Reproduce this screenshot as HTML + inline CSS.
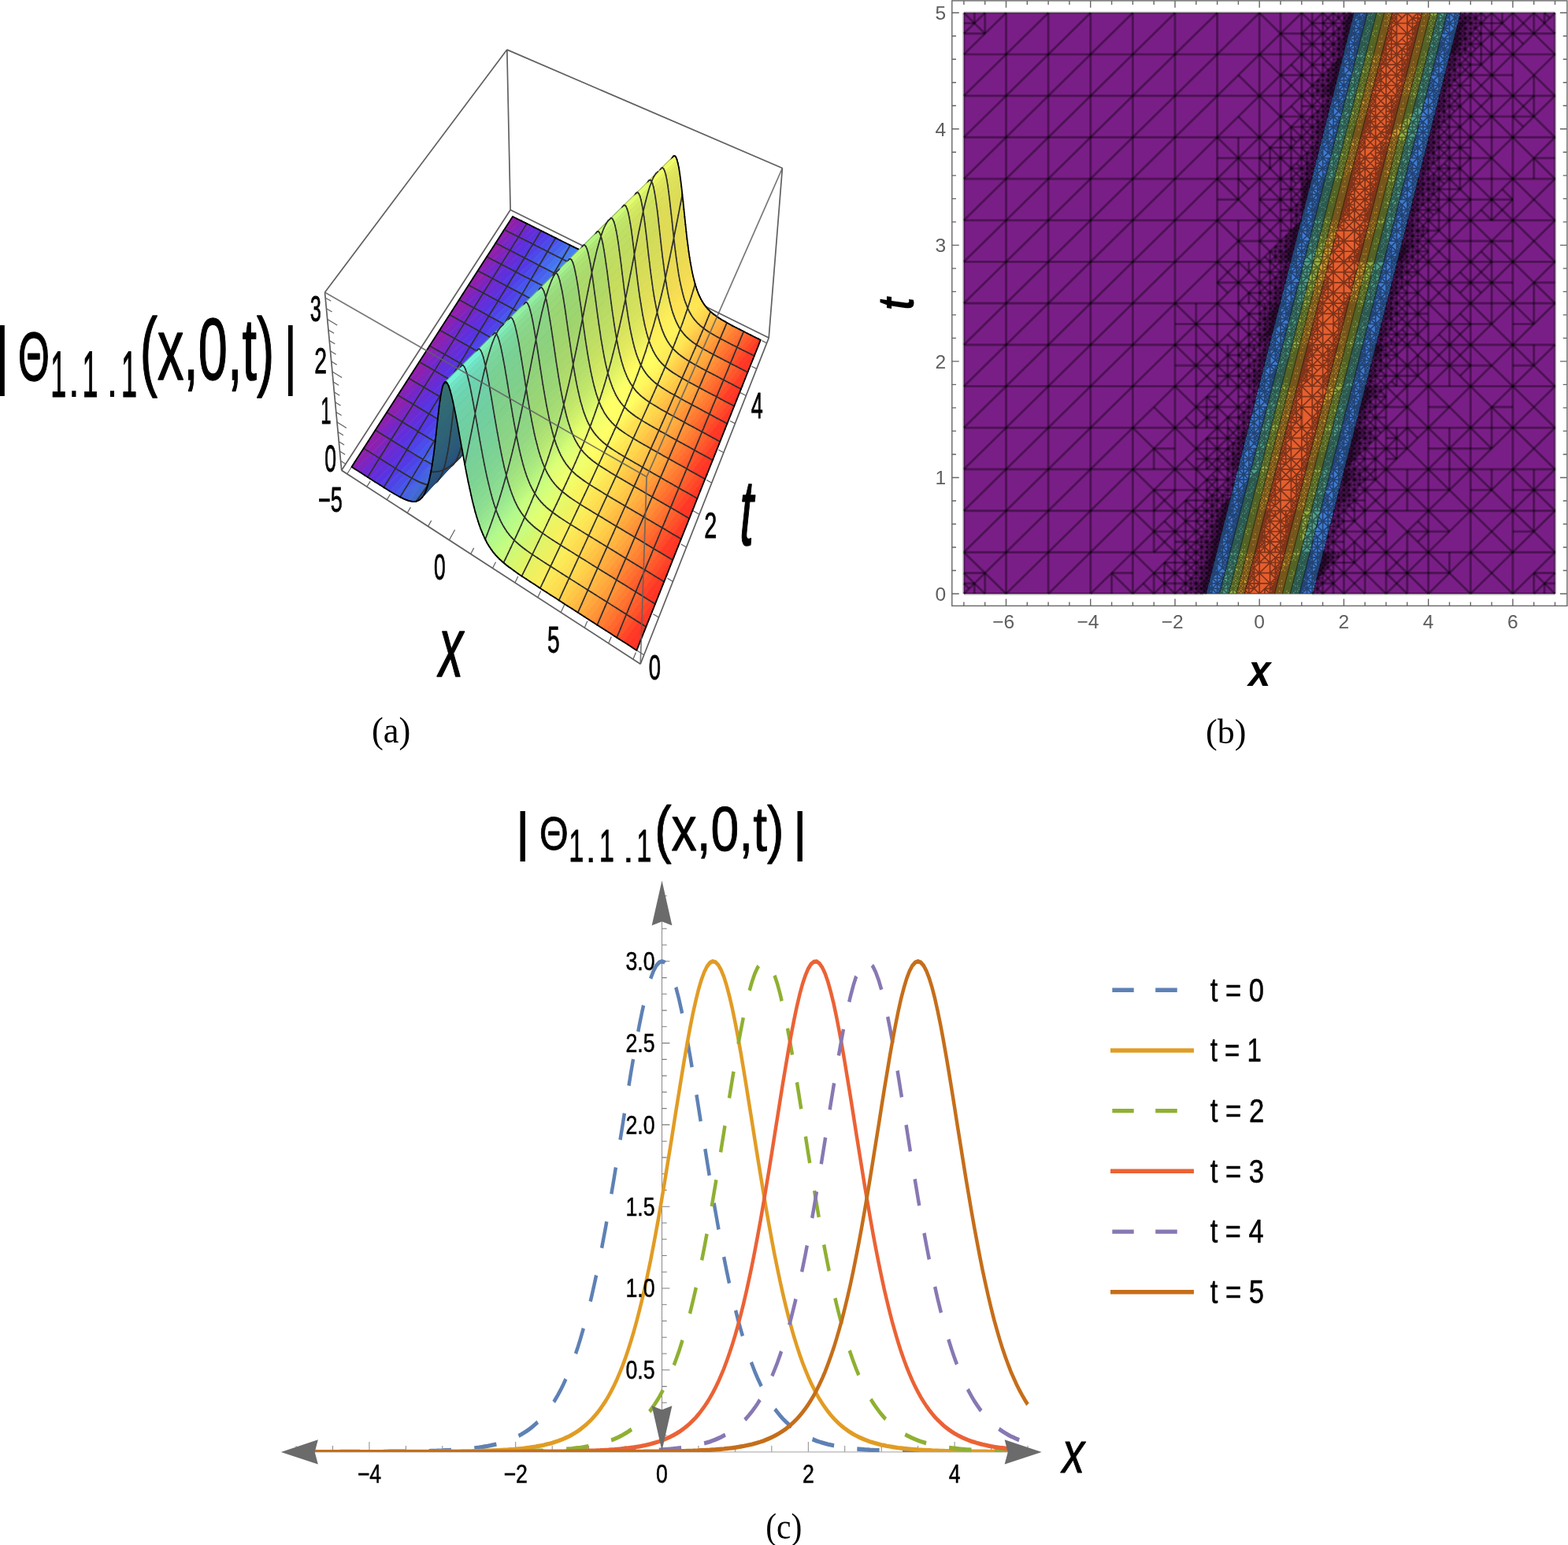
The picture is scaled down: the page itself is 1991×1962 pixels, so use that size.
<!DOCTYPE html>
<html lang="en"><head><meta charset="utf-8"><title>Figure</title>
<style>html,body{margin:0;padding:0;background:#fff}body{width:1991px;height:1962px;overflow:hidden}svg{display:block}text{font-family:"Liberation Sans",Arial,Helvetica,sans-serif}.sf{font-family:"Liberation Serif","DejaVu Serif",serif}</style></head><body>
<svg xmlns="http://www.w3.org/2000/svg" width="1991" height="1962" viewBox="0 0 1991 1962">
<rect width="1991" height="1962" fill="#fff"/>
<g id="pa"><path d="M433.7 597.2L813.2 843.2M813.2 843.2L976.2 429.1M976.2 429.1L648.1 266.5M648.1 266.5L433.7 597.2M433.7 597.2L412.5 371.3M976.2 429.1L993.4 213.5M648.1 266.5L643.8 63.1M412.5 371.3L643.8 63.1M643.8 63.1L993.4 213.5" fill="none" stroke="#606060" stroke-width="1.7"/>
<path d="M440.8 601.8L448.5 589.8M465.8 618.1L470.2 611.1M491.3 634.6L495.6 627.5M517.2 651.3L521.4 644.1M543.5 668.4L547.7 661.1M570.4 685.8L577.6 672.7M597.7 703.5L601.7 695.9M625.5 721.6L629.5 713.8M653.9 740L657.8 732.1M682.8 758.7L686.6 750.6M712.2 777.7L718.8 763.3M742.2 797.2L745.8 788.8M772.7 817L776.3 808.5M803.9 837.2L807.4 828.5M817.7 831.8L804.9 823.6M836.5 784.1L829.3 779.7M854.4 738.6L847.4 734.3M871.6 695L864.7 690.9M888 653.2L876.1 646.3M903.8 613.2L897.1 609.4M918.9 574.8L912.3 571.2M933.4 537.9L926.9 534.5M947.4 502.5L936.1 496.6M960.8 468.4L954.5 465.2M973.7 435.7L967.5 432.6M433.7 597.2L445.5 604.9M432.6 585.2L439.3 589.5M431.4 573L438.2 577.3M430.3 560.7L437.1 565.1M429.1 548.4L435.9 552.7M427.9 535.9L439.9 543.4M426.8 523.4L433.6 527.6M425.6 510.7L432.5 515M424.4 497.9L431.3 502.2M423.2 485.1L430.1 489.3M422 472.1L434.2 479.5M420.8 459L427.7 463.2M419.5 445.8L426.5 450M418.3 432.5L425.3 436.7M417 419.1L424.1 423.3M415.8 405.6L428.2 412.9M414.5 392L421.6 396.1M413.2 378.2L420.3 382.3" fill="none" stroke="#606060" stroke-width="1.2"/>
<g stroke-width="0.8" stroke-linejoin="round">
<style>.m{fill:none;stroke:#2e2e2e;stroke-width:1.7;stroke-linecap:round}.b{fill:none;stroke:#000;stroke-width:1.8;stroke-linecap:round}</style>
<path d="M638.9 293.7L656.4 277.7L651 275L651 275Z" fill="#931fa8" stroke="#931fa8"/>
<path d="M626.6 313L630.5 309.3L629.3 308.7Z" fill="#951ea6" stroke="#951ea6"/>
<path d="M629.3 308.7L630.5 309.3L661.8 280.4L656.4 277.7L638.9 293.7Z" fill="#8e20ad" stroke="#8e20ad"/>
<path d="M613.9 332.6L636 312.1L630.5 309.3L626.6 313Z" fill="#921fa9" stroke="#921fa9"/>
<path d="M630.5 309.3L636 312.1L667.3 283.1L661.8 280.4Z" fill="#8323b9" stroke="#8323b9"/>
<path d="M640.3 291.7L640.9 292" class="m"/>
<path d="M651 275L656.4 277.7M651 275L638.9 293.7" class="b"/>
<path d="M600.9 352.8L609.2 345.2L606.7 343.9Z" fill="#941ea7" stroke="#941ea7"/>
<path d="M606.7 343.9L609.2 345.2L641.5 314.9L636 312.1L613.9 332.6Z" fill="#8d20af" stroke="#8d20af"/>
<path d="M636 312.1L641.5 314.9L672.8 285.8L667.3 283.1Z" fill="#7826c5" stroke="#7826c5"/>
<path d="M629.3 308.7L630.5 309.3M640.9 292L646.3 294.7" class="m"/>
<path d="M656.4 277.7L661.8 280.4M638.9 293.7L626.6 313" class="b"/>
<path d="M587.6 373.5L614.7 348.1L609.2 345.2L600.9 352.8Z" fill="#911fab" stroke="#911fab"/>
<path d="M609.2 345.2L614.7 348.1L647.1 317.8L641.5 314.9Z" fill="#8124bb" stroke="#8124bb"/>
<path d="M641.5 314.9L647.1 317.8L678.2 288.6L672.8 285.8Z" fill="#6d29d0" stroke="#6d29d0"/>
<path d="M618.1 326.1L620 327M630.5 309.3L636 312.1M646.3 294.7L651.8 297.5" class="m"/>
<path d="M661.8 280.4L667.3 283.1M626.6 313L613.9 332.6" class="b"/>
<path d="M574 394.7L586.8 382.7L583 380.7Z" fill="#931fa8" stroke="#931fa8"/>
<path d="M583 380.7L586.8 382.7L620.3 351.1L614.7 348.1L587.6 373.5Z" fill="#8b21b0" stroke="#8b21b0"/>
<path d="M614.7 348.1L620.3 351.1L652.6 320.6L647.1 317.8Z" fill="#7527c8" stroke="#7527c8"/>
<path d="M647.1 317.8L652.6 320.6L683.7 291.3L678.2 288.6Z" fill="#652dd7" stroke="#652dd7"/>
<path d="M606.7 343.9L609.2 345.2M620 327L625.5 329.9M636 312.1L641.5 314.9M651.8 297.5L657.3 300.2M669 283.9L660.7 297.1" class="m"/>
<path d="M667.3 283.1L672.8 285.8M613.9 332.6L600.9 352.8" class="b"/>
<path d="M560 416.5L592.4 385.8L586.8 382.7L574 394.7Z" fill="#8f20ac" stroke="#8f20ac"/>
<path d="M586.8 382.7L592.4 385.8L626 354L620.3 351.1Z" fill="#7e24be" stroke="#7e24be"/>
<path d="M620.3 351.1L626 354L658.2 323.5L652.6 320.6Z" fill="#6b2ad1" stroke="#6b2ad1"/>
<path d="M652.6 320.6L658.2 323.5L689.3 294.1L683.7 291.3Z" fill="#5d31de" stroke="#5d31de"/>
<path d="M595 362.1L598.1 363.7M609.2 345.2L614.7 348.1M625.5 329.9L631.1 332.8M641.5 314.9L647.1 317.8M657.3 300.2L662.8 303M660.7 297.1L648.6 316.4" class="m"/>
<path d="M672.8 285.8L678.2 288.6M600.9 352.8L587.6 373.5" class="b"/>
<path d="M545.6 438.9L563.3 422L558.3 419.2Z" fill="#931fa9" stroke="#931fa9"/>
<path d="M558.3 419.2L563.3 422L598.1 388.9L592.4 385.8L560 416.5Z" fill="#8a21b2" stroke="#8a21b2"/>
<path d="M592.4 385.8L598.1 388.9L631.6 357L626 354Z" fill="#7227ca" stroke="#7227ca"/>
<path d="M626 354L631.6 357L663.8 326.3L658.2 323.5Z" fill="#632ed8" stroke="#632ed8"/>
<path d="M658.2 323.5L663.8 326.3L694.8 296.8L689.3 294.1Z" fill="#5635e4" stroke="#5635e4"/>
<path d="M583 380.7L586.8 382.7M598.1 363.7L603.7 366.7M614.7 348.1L620.3 351.1M631.1 332.8L636.6 335.7M647.1 317.8L652.6 320.6M662.8 303L668.3 305.8M648.6 316.4L636.2 336.1" class="m"/>
<path d="M678.2 288.6L683.7 291.3M587.6 373.5L574 394.7" class="b"/>
<path d="M530.8 461.9L532.9 459.8L532.3 459.5Z" fill="#961ea5" stroke="#961ea5"/>
<path d="M532.3 459.5L532.9 459.8L569.1 425.2L563.3 422L545.6 438.9Z" fill="#8f20ac" stroke="#8f20ac"/>
<path d="M563.3 422L569.1 425.2L603.8 392L598.1 388.9Z" fill="#7b25c1" stroke="#7b25c1"/>
<path d="M598.1 388.9L603.8 392L637.3 360L631.6 357Z" fill="#6a2bd3" stroke="#6a2bd3"/>
<path d="M631.6 357L637.3 360L669.4 329.2L663.8 326.3Z" fill="#5b31df" stroke="#5b31df"/>
<path d="M663.8 326.3L669.4 329.2L700.4 299.6L694.8 296.8Z" fill="#513fe7" stroke="#513fe7"/>
<path d="M570.8 399.7L575.2 402.1M586.8 382.7L592.4 385.8M603.7 366.7L609.4 369.7M620.3 351.1L626 354M636.6 335.7L642.2 338.6M652.6 320.6L658.2 323.5M668.3 305.8L673.9 308.6M636.2 336.1L623.5 356.4M687.1 293L682.6 300.4" class="m"/>
<path d="M683.7 291.3L689.3 294.1M574 394.7L560 416.5" class="b"/>
<path d="M515.7 485.4L538.8 463.2L532.9 459.8L530.8 461.9Z" fill="#921fa9" stroke="#921fa9"/>
<path d="M532.9 459.8L538.8 463.2L574.9 428.5L569.1 425.2Z" fill="#8523b7" stroke="#8523b7"/>
<path d="M569.1 425.2L574.9 428.5L609.6 395.1L603.8 392Z" fill="#7028cd" stroke="#7028cd"/>
<path d="M603.8 392L609.6 395.1L642.9 363L637.3 360Z" fill="#622fda" stroke="#622fda"/>
<path d="M637.3 360L642.9 363L675.1 332.1L669.4 329.2Z" fill="#5537e5" stroke="#5537e5"/>
<path d="M669.4 329.2L675.1 332.1L706 302.4L700.4 299.6Z" fill="#4d49e9" stroke="#4d49e9"/>
<path d="M558.3 419.2L563.3 422M575.2 402.1L580.9 405.3M592.4 385.8L598.1 388.9M609.4 369.7L615 372.8M626 354L631.6 357M642.2 338.6L647.9 341.5M658.2 323.5L663.8 326.3M673.9 308.6L679.5 311.4M623.5 356.4L610.4 377.2M682.6 300.4L670.7 319.8" class="m"/>
<path d="M689.3 294.1L694.8 296.8M560 416.5L545.6 438.9" class="b"/>
<path d="M500.1 509.7L507 502.9L505.1 501.8Z" fill="#951ea6" stroke="#951ea6"/>
<path d="M505.1 501.8L507 502.9L544.6 466.6L538.8 463.2L515.7 485.4Z" fill="#8e20ae" stroke="#8e20ae"/>
<path d="M538.8 463.2L544.6 466.6L580.7 431.7L574.9 428.5Z" fill="#7926c4" stroke="#7926c4"/>
<path d="M574.9 428.5L580.7 431.7L615.3 398.2L609.6 395.1Z" fill="#682cd4" stroke="#682cd4"/>
<path d="M609.6 395.1L615.3 398.2L648.7 366L642.9 363Z" fill="#5a32e1" stroke="#5a32e1"/>
<path d="M642.9 363L648.7 366L680.7 335L675.1 332.1Z" fill="#5041e7" stroke="#5041e7"/>
<path d="M675.1 332.1L680.7 335L711.6 305.2L706 302.4Z" fill="#4952ec" stroke="#4952ec"/>
<path d="M532.3 459.5L532.9 459.8M545.5 439.1L551.2 442.4M563.3 422L569.1 425.2M580.9 405.3L586.6 408.4M598.1 388.9L603.8 392M615 372.8L620.7 375.8M631.6 357L637.3 360M647.9 341.5L653.5 344.5M663.8 326.3L669.4 329.2M679.5 311.4L685 314.3M610.4 377.2L597 398.5M670.7 319.8L658.5 339.6" class="m"/>
<path d="M694.8 296.8L700.4 299.6M545.6 438.9L530.8 461.9" class="b"/>
<path d="M484.1 534.6L513 506.5L507 502.9L500.1 509.7Z" fill="#911faa" stroke="#911faa"/>
<path d="M507 502.9L513 506.5L550.5 470L544.6 466.6Z" fill="#8223ba" stroke="#8223ba"/>
<path d="M544.6 466.6L550.5 470L586.5 435L580.7 431.7Z" fill="#6e29cf" stroke="#6e29cf"/>
<path d="M580.7 431.7L586.5 435L621.1 401.4L615.3 398.2Z" fill="#602fdb" stroke="#602fdb"/>
<path d="M615.3 398.2L621.1 401.4L654.4 369L648.7 366Z" fill="#5439e5" stroke="#5439e5"/>
<path d="M648.7 366L654.4 369L686.4 337.9L680.7 335Z" fill="#4c4bea" stroke="#4c4bea"/>
<path d="M680.7 335L686.4 337.9L717.2 308L711.6 305.2Z" fill="#475ded" stroke="#475ded"/>
<path d="M518.9 480.4L520.2 481.1M532.9 459.8L538.8 463.2M551.2 442.4L557 445.7M569.1 425.2L574.9 428.5M586.6 408.4L592.4 411.6M603.8 392L609.6 395.1M620.7 375.8L626.4 378.9M637.3 360L642.9 363M653.5 344.5L659.2 347.4M669.4 329.2L675.1 332.1M685 314.3L690.7 317.1M597 398.5L583.3 420.4M658.5 339.6L646.1 360M705.5 302.1L704.5 303.8" class="m"/>
<path d="M700.4 299.6L706 302.4M530.8 461.9L515.7 485.4" class="b"/>
<path d="M467.6 560.2L479.8 548.2L476.6 546.2Z" fill="#941fa7" stroke="#941fa7"/>
<path d="M476.6 546.2L479.8 548.2L518.9 510.1L513 506.5L484.1 534.6Z" fill="#8c21af" stroke="#8c21af"/>
<path d="M513 506.5L518.9 510.1L556.4 473.4L550.5 470Z" fill="#7626c6" stroke="#7626c6"/>
<path d="M550.5 470L556.4 473.4L592.4 438.3L586.5 435Z" fill="#662dd6" stroke="#662dd6"/>
<path d="M586.5 435L592.4 438.3L626.9 404.5L621.1 401.4Z" fill="#5833e2" stroke="#5833e2"/>
<path d="M621.1 401.4L626.9 404.5L660.1 372.1L654.4 369Z" fill="#4f43e8" stroke="#4f43e8"/>
<path d="M654.4 369L660.1 372.1L692.1 340.8L686.4 337.9Z" fill="#4855ec" stroke="#4855ec"/>
<path d="M686.4 337.9L692.1 340.8L722.9 310.8L717.2 308Z" fill="#4768ed" stroke="#4768ed"/>
<path d="M505.1 501.8L507 502.9M520.2 481.1L526 484.6M538.8 463.2L544.6 466.6M557 445.7L562.8 449M574.9 428.5L580.7 431.7M592.4 411.6L598.2 414.8M609.6 395.1L615.3 398.2M626.4 378.9L632.2 382M642.9 363L648.7 366M659.2 347.4L664.8 350.4M675.1 332.1L680.7 335M690.7 317.1L696.3 319.9M583.3 420.4L569.2 442.9M646.1 360L633.3 380.9M704.5 303.8L692.9 323.2" class="m"/>
<path d="M706 302.4L711.6 305.2M515.7 485.4L500.1 509.7" class="b"/>
<path d="M450.6 586.6L485.8 552L479.8 548.2L467.6 560.2Z" fill="#9020ab" stroke="#9020ab"/>
<path d="M479.8 548.2L485.8 552L524.9 513.6L518.9 510.1Z" fill="#7f24bd" stroke="#7f24bd"/>
<path d="M518.9 510.1L524.9 513.6L562.3 476.9L556.4 473.4Z" fill="#6c2ad0" stroke="#6c2ad0"/>
<path d="M556.4 473.4L562.3 476.9L598.2 441.6L592.4 438.3Z" fill="#5e30dd" stroke="#5e30dd"/>
<path d="M592.4 438.3L598.2 441.6L632.7 407.7L626.9 404.5Z" fill="#533be6" stroke="#533be6"/>
<path d="M626.9 404.5L632.7 407.7L665.9 375.1L660.1 372.1Z" fill="#4b4dea" stroke="#4b4dea"/>
<path d="M660.1 372.1L665.9 375.1L697.8 343.8L692.1 340.8Z" fill="#4760ed" stroke="#4760ed"/>
<path d="M692.1 340.8L697.8 343.8L728.5 313.6L722.9 310.8Z" fill="#4673ee" stroke="#4673ee"/>
<path d="M491 523.7L493.6 525.3M507 502.9L513 506.5M526 484.6L531.9 488.1M544.6 466.6L550.5 470M562.8 449L568.7 452.3M580.7 431.7L586.5 435M598.2 414.8L604 418M615.3 398.2L621.1 401.4M632.2 382L637.9 385M648.7 366L654.4 369M664.8 350.4L670.5 353.3M680.7 335L686.4 337.9M696.3 319.9L701.9 322.8M569.2 442.9L554.7 465.9M633.3 380.9L620.1 402.3M692.9 323.2L681 343.2" class="m"/>
<path d="M711.6 305.2L717.2 308M500.1 509.7L484.1 534.6" class="b"/>
<path d="M446.5 592.9L451.2 595.9L491.9 555.7L485.8 552L450.6 586.6Z" fill="#8b21b1" stroke="#8b21b1"/>
<path d="M485.8 552L491.9 555.7L530.9 517.2L524.9 513.6Z" fill="#7427c9" stroke="#7427c9"/>
<path d="M524.9 513.6L530.9 517.2L568.2 480.3L562.3 476.9Z" fill="#642dd7" stroke="#642dd7"/>
<path d="M562.3 476.9L568.2 480.3L604.1 444.9L598.2 441.6Z" fill="#5634e4" stroke="#5634e4"/>
<path d="M598.2 441.6L604.1 444.9L638.6 410.9L632.7 407.7Z" fill="#4e45e8" stroke="#4e45e8"/>
<path d="M632.7 407.7L638.6 410.9L671.7 378.2L665.9 375.1Z" fill="#4857ec" stroke="#4857ec"/>
<path d="M665.9 375.1L671.7 378.2L703.5 346.7L697.8 343.8Z" fill="#476bed" stroke="#476bed"/>
<path d="M697.8 343.8L703.5 346.7L734.2 316.4L728.5 313.6Z" fill="#477eee" stroke="#477eee"/>
<path d="M476.6 546.2L479.8 548.2M493.6 525.3L499.6 528.9M513 506.5L518.9 510.1M531.9 488.1L537.8 491.6M550.5 470L556.4 473.4M568.7 452.3L574.6 455.7M586.5 435L592.4 438.3M604 418L609.8 421.2M621.1 401.4L626.9 404.5M637.9 385L643.7 388.1M654.4 369L660.1 372.1M670.5 353.3L676.3 356.3M686.4 337.9L692.1 340.8M701.9 322.8L707.6 325.7M554.7 465.9L539.8 489.6M620.1 402.3L606.7 424.3M681 343.2L668.8 363.6" class="m"/>
<path d="M717.2 308L722.9 310.8M484.1 534.6L467.6 560.2" class="b"/>
<path d="M451.2 595.9L457.3 599.8L497.9 559.5L491.9 555.7Z" fill="#7d25bf" stroke="#7d25bf"/>
<path d="M491.9 555.7L497.9 559.5L536.9 520.8L530.9 517.2Z" fill="#6b2ad2" stroke="#6b2ad2"/>
<path d="M530.9 517.2L536.9 520.8L574.2 483.8L568.2 480.3Z" fill="#5c31de" stroke="#5c31de"/>
<path d="M568.2 480.3L574.2 483.8L610 448.2L604.1 444.9Z" fill="#523ee6" stroke="#523ee6"/>
<path d="M604.1 444.9L610 448.2L644.4 414.1L638.6 410.9Z" fill="#4a4feb" stroke="#4a4feb"/>
<path d="M638.6 410.9L644.4 414.1L677.5 381.2L671.7 378.2Z" fill="#4762ed" stroke="#4762ed"/>
<path d="M671.7 378.2L677.5 381.2L709.3 349.7L703.5 346.7Z" fill="#4676ee" stroke="#4676ee"/>
<path d="M703.5 346.7L709.3 349.7L739.9 319.3L734.2 316.4Z" fill="#4888ed" stroke="#4888ed"/>
<path d="M461.7 569.3L465.7 571.8M479.8 548.2L485.8 552M499.6 528.9L505.6 532.6M518.9 510.1L524.9 513.6M537.8 491.6L543.8 495.1M556.4 473.4L562.3 476.9M574.6 455.7L580.4 459M592.4 438.3L598.2 441.6M609.8 421.2L615.6 424.5M626.9 404.5L632.7 407.7M643.7 388.1L649.5 391.2M660.1 372.1L665.9 375.1M676.3 356.3L682 359.3M692.1 340.8L697.8 343.8M707.6 325.7L713.3 328.5M539.8 489.6L524.5 514M606.7 424.3L592.8 446.9M668.8 363.6L656.2 384.6M724.1 311.4L715.2 326.7" class="m"/>
<path d="M722.9 310.8L728.5 313.6M467.6 560.2L450.6 586.6" class="b"/>
<path d="M457.3 599.8L463.4 603.8L504 563.3L497.9 559.5Z" fill="#7128cc" stroke="#7128cc"/>
<path d="M497.9 559.5L504 563.3L542.9 524.4L536.9 520.8Z" fill="#632ed9" stroke="#632ed9"/>
<path d="M536.9 520.8L542.9 524.4L580.2 487.2L574.2 483.8Z" fill="#5536e4" stroke="#5536e4"/>
<path d="M574.2 483.8L580.2 487.2L616 451.5L610 448.2Z" fill="#4d47e9" stroke="#4d47e9"/>
<path d="M610 448.2L616 451.5L650.3 417.2L644.4 414.1Z" fill="#485aec" stroke="#485aec"/>
<path d="M644.4 414.1L650.3 417.2L683.3 384.3L677.5 381.2Z" fill="#476ded" stroke="#476ded"/>
<path d="M677.5 381.2L683.3 384.3L715.1 352.6L709.3 349.7Z" fill="#4780ed" stroke="#4780ed"/>
<path d="M709.3 349.7L715.1 352.6L745.6 322.1L739.9 319.3Z" fill="#4991ec" stroke="#4991ec"/>
<path d="M465.7 571.8L471.8 575.6M485.8 552L491.9 555.7M505.6 532.6L511.6 536.3M524.9 513.6L530.9 517.2M543.8 495.1L549.7 498.6M562.3 476.9L568.2 480.3M580.4 459L586.4 462.4M598.2 441.6L604.1 444.9M615.6 424.5L621.5 427.7M632.7 407.7L638.6 410.9M649.5 391.2L655.3 394.4M665.9 375.1L671.7 378.2M682 359.3L687.8 362.3M697.8 343.8L703.5 346.7M713.3 328.5L719 331.4M524.5 514L508.8 539M592.8 446.9L578.6 470M656.2 384.6L643.4 406.1M715.2 326.7L703.5 346.7" class="m"/>
<path d="M446.5 592.9L451.2 595.9M728.5 313.6L734.2 316.4M450.6 586.6L446.5 592.9" class="b"/>
<path d="M463.4 603.8L469.6 607.7L510.1 567L504 563.3Z" fill="#692bd3" stroke="#692bd3"/>
<path d="M504 563.3L510.1 567L549 528.1L542.9 524.4Z" fill="#5b32e0" stroke="#5b32e0"/>
<path d="M542.9 524.4L549 528.1L586.2 490.7L580.2 487.2Z" fill="#5140e7" stroke="#5140e7"/>
<path d="M580.2 487.2L586.2 490.7L621.9 454.9L616 451.5Z" fill="#4951eb" stroke="#4951eb"/>
<path d="M616 451.5L621.9 454.9L656.2 420.4L650.3 417.2Z" fill="#4765ed" stroke="#4765ed"/>
<path d="M650.3 417.2L656.2 420.4L689.2 387.4L683.3 384.3Z" fill="#4678ee" stroke="#4678ee"/>
<path d="M683.3 384.3L689.2 387.4L720.9 355.6L715.1 352.6Z" fill="#488aed" stroke="#488aed"/>
<path d="M715.1 352.6L720.9 355.6L751.4 325L745.6 322.1Z" fill="#4c9eeb" stroke="#4c9eeb"/>
<path d="M471.8 575.6L477.8 579.4M491.9 555.7L497.9 559.5M511.6 536.3L517.6 539.9M530.9 517.2L536.9 520.8M549.7 498.6L555.7 502.1M568.2 480.3L574.2 483.8M586.4 462.4L592.3 465.8M604.1 444.9L610 448.2M621.5 427.7L627.4 431M638.6 410.9L644.4 414.1M655.3 394.4L661.1 397.5M671.7 378.2L677.5 381.2M687.8 362.3L693.5 365.3M703.5 346.7L709.3 349.7M719 331.4L724.7 334.3M508.8 539L492.6 564.8M578.6 470L564.1 493.8M643.4 406.1L630.2 428.2M703.5 346.7L691.6 367.2" class="m"/>
<path d="M451.2 595.9L457.3 599.8M734.2 316.4L739.9 319.3" class="b"/>
<path d="M469.6 607.7L475.8 611.7L516.3 570.8L510.1 567Z" fill="#612fda" stroke="#612fda"/>
<path d="M510.1 567L516.3 570.8L555.1 531.7L549 528.1Z" fill="#5438e5" stroke="#5438e5"/>
<path d="M549 528.1L555.1 531.7L592.3 494.2L586.2 490.7Z" fill="#4c4ae9" stroke="#4c4ae9"/>
<path d="M586.2 490.7L592.3 494.2L627.9 458.2L621.9 454.9Z" fill="#475cec" stroke="#475cec"/>
<path d="M621.9 454.9L627.9 458.2L662.2 423.6L656.2 420.4Z" fill="#4670ed" stroke="#4670ed"/>
<path d="M656.2 420.4L662.2 423.6L695.1 390.5L689.2 387.4Z" fill="#4782ed" stroke="#4782ed"/>
<path d="M689.2 387.4L695.1 390.5L726.7 358.5L720.9 355.6Z" fill="#4994ec" stroke="#4994ec"/>
<path d="M720.9 355.6L726.7 358.5L757.2 327.8L751.4 325Z" fill="#52aee7" stroke="#52aee7"/>
<path d="M477.8 579.4L484 583.3M497.9 559.5L504 563.3M517.6 539.9L523.7 543.6M536.9 520.8L542.9 524.4M555.7 502.1L561.8 505.6M574.2 483.8L580.2 487.2M592.3 465.8L598.3 469.2M610 448.2L616 451.5M627.4 431L633.3 434.2M644.4 414.1L650.3 417.2M661.1 397.5L667 400.6M677.5 381.2L683.3 384.3M693.5 365.3L699.4 368.3M709.3 349.7L715.1 352.6M724.7 334.3L730.5 337.2M492.6 564.8L476 591.2M564.1 493.8L549.1 518.3M630.2 428.2L616.6 450.9M691.6 367.2L679.3 388.3M742.9 320.8L737.6 330.1" class="m"/>
<path d="M457.3 599.8L463.4 603.8M739.9 319.3L745.6 322.1" class="b"/>
<path d="M475.8 611.7L482 615.6L522.5 574.6L516.3 570.8Z" fill="#5933e1" stroke="#5933e1"/>
<path d="M516.3 570.8L522.5 574.6L561.2 535.3L555.1 531.7Z" fill="#5042e7" stroke="#5042e7"/>
<path d="M555.1 531.7L561.2 535.3L598.3 497.7L592.3 494.2Z" fill="#4853eb" stroke="#4853eb"/>
<path d="M592.3 494.2L598.3 497.7L633.9 461.5L627.9 458.2Z" fill="#4767ed" stroke="#4767ed"/>
<path d="M627.9 458.2L633.9 461.5L668.1 426.8L662.2 423.6Z" fill="#467aed" stroke="#467aed"/>
<path d="M662.2 423.6L668.1 426.8L701 393.5L695.1 390.5Z" fill="#488cec" stroke="#488cec"/>
<path d="M695.1 390.5L701 393.5L732.6 361.5L726.7 358.5Z" fill="#4da1e9" stroke="#4da1e9"/>
<path d="M726.7 358.5L732.6 361.5L762.9 330.6L757.2 327.8Z" fill="#59bfe3" stroke="#59bfe3"/>
<path d="M484 583.3L490.1 587.2M504 563.3L510.1 567M523.7 543.6L529.8 547.3M542.9 524.4L549 528.1M561.8 505.6L567.8 509.2M580.2 487.2L586.2 490.7M598.3 469.2L604.3 472.6M616 451.5L621.9 454.9M633.3 434.2L639.3 437.5M650.3 417.2L656.2 420.4M667 400.6L672.9 403.7M683.3 384.3L689.2 387.4M699.4 368.3L705.2 371.3M715.1 352.6L720.9 355.6M730.5 337.2L736.3 340.1M476 591.2L466.8 605.9M549.1 518.3L533.6 543.5M616.6 450.9L602.7 474.1M679.3 388.3L666.7 409.9M737.6 330.1L726.2 350.2" class="m"/>
<path d="M463.4 603.8L469.6 607.7M745.6 322.1L751.4 325" class="b"/>
<path d="M482 615.6L488.2 619.6L528.6 578.4L522.5 574.6Z" fill="#533ae5" stroke="#533ae5"/>
<path d="M522.5 574.6L528.6 578.4L567.3 538.9L561.2 535.3Z" fill="#4b4ce9" stroke="#4b4ce9"/>
<path d="M561.2 535.3L567.3 538.9L604.4 501.1L598.3 497.7Z" fill="#475eec" stroke="#475eec"/>
<path d="M598.3 497.7L604.4 501.1L640 464.8L633.9 461.5Z" fill="#4672ed" stroke="#4672ed"/>
<path d="M633.9 461.5L640 464.8L674.1 430L668.1 426.8Z" fill="#4784ec" stroke="#4784ec"/>
<path d="M668.1 426.8L674.1 430L706.9 396.6L701 393.5Z" fill="#4995eb" stroke="#4995eb"/>
<path d="M701 393.5L706.9 396.6L738.4 364.4L732.6 361.5Z" fill="#54b2e5" stroke="#54b2e5"/>
<path d="M732.6 361.5L738.4 364.4L768.8 333.4L762.9 330.6Z" fill="#60cddb" stroke="#60cddb"/>
<path d="M490.1 587.2L496.3 591M510.1 567L516.3 570.8M529.8 547.3L535.9 551.1M549 528.1L555.1 531.7M567.8 509.2L573.9 512.7M586.2 490.7L592.3 494.2M604.3 472.6L610.3 476M621.9 454.9L627.9 458.2M639.3 437.5L645.2 440.8M656.2 420.4L662.2 423.6M672.9 403.7L678.8 406.9M689.2 387.4L695.1 390.5M705.2 371.3L711 374.3M720.9 355.6L726.7 358.5M736.3 340.1L742.1 343M533.6 543.5L517.8 569.3M602.7 474.1L588.4 498M666.7 409.9L653.8 432.1M726.2 350.2L714.5 370.8" class="m"/>
<path d="M469.6 607.7L475.8 611.7M751.4 325L757.2 327.8" class="b"/>
<path d="M488.2 619.6L494.5 623.4L534.8 582.1L528.6 578.4Z" fill="#4e44e6" stroke="#4e44e6"/>
<path d="M528.6 578.4L534.8 582.1L573.5 542.4L567.3 538.9Z" fill="#4755eb" stroke="#4755eb"/>
<path d="M567.3 538.9L573.5 542.4L610.5 504.5L604.4 501.1Z" fill="#4669ec" stroke="#4669ec"/>
<path d="M604.4 501.1L610.5 504.5L646 468.1L640 464.8Z" fill="#467cec" stroke="#467cec"/>
<path d="M640 464.8L646 468.1L680.1 433.1L674.1 430Z" fill="#488deb" stroke="#488deb"/>
<path d="M674.1 430L680.1 433.1L712.8 399.5L706.9 396.6Z" fill="#4ea4e7" stroke="#4ea4e7"/>
<path d="M706.9 396.6L712.8 399.5L744.3 367.3L738.4 364.4Z" fill="#5ac2e1" stroke="#5ac2e1"/>
<path d="M738.4 364.4L744.3 367.3L774.6 336.2L768.8 333.4Z" fill="#68d8d0" stroke="#68d8d0"/>
<path d="M496.3 591L502.4 594.9M516.3 570.8L522.5 574.6M535.9 551.1L542 554.7M555.1 531.7L561.2 535.3M573.9 512.7L579.9 516.3M592.3 494.2L598.3 497.7M610.3 476L616.3 479.4M627.9 458.2L633.9 461.5M645.2 440.8L651.2 444M662.2 423.6L668.1 426.8M678.8 406.9L684.7 410M695.1 390.5L701 393.5M711 374.3L716.9 377.3M726.7 358.5L732.6 361.5M742.1 343L747.9 345.9M517.8 569.3L501.5 595.9M588.4 498L573.7 522.6M653.8 432.1L640.5 454.8M714.5 370.8L702.5 392M762 330.2L760.1 333.5" class="m"/>
<path d="M475.8 611.7L482 615.6M757.2 327.8L762.9 330.6" class="b"/>
<path d="M494.5 623.4L500.8 627.2L541.1 585.6L534.8 582.1Z" fill="#4a4de8" stroke="#4a4de8"/>
<path d="M534.8 582.1L541.1 585.6L579.7 545.9L573.5 542.4Z" fill="#4660ea" stroke="#4660ea"/>
<path d="M573.5 542.4L579.7 545.9L616.6 507.7L610.5 504.5Z" fill="#4573eb" stroke="#4573eb"/>
<path d="M610.5 504.5L616.6 507.7L652.1 471.2L646 468.1Z" fill="#4785ea" stroke="#4785ea"/>
<path d="M646 468.1L652.1 471.2L686.1 436.1L680.1 433.1Z" fill="#4996e9" stroke="#4996e9"/>
<path d="M680.1 433.1L686.1 436.1L718.8 402.4L712.8 399.5Z" fill="#54b4e2" stroke="#54b4e2"/>
<path d="M712.8 399.5L718.8 402.4L750.2 370L744.3 367.3Z" fill="#61ced7" stroke="#61ced7"/>
<path d="M744.3 367.3L750.2 370L780.5 338.8L774.6 336.2Z" fill="#6fe1c5" stroke="#6fe1c5"/>
<path d="M502.4 594.9L508.7 598.7M522.5 574.6L528.6 578.4M542 554.7L548.2 558.4M561.2 535.3L567.3 538.9M579.9 516.3L586.1 519.8M598.3 497.7L604.4 501.1M616.3 479.4L622.4 482.8M633.9 461.5L640 464.8M651.2 444L657.2 447.2M668.1 426.8L674.1 430M684.7 410L690.6 413.1M701 393.5L706.9 396.6M716.9 377.3L722.8 380.3M732.6 361.5L738.4 364.4M747.9 345.9L753.7 348.8M501.5 595.9L487.3 619M573.7 522.6L558.6 547.8M640.5 454.8L626.9 478.1M702.5 392L690.2 413.6M760.1 333.5L749 353.6" class="m"/>
<path d="M482 615.6L488.2 619.6M762.9 330.6L768.8 333.4" class="b"/>
<path d="M500.8 627.2L507.1 630.7L547.3 589L541.1 585.6Z" fill="#4656e7" stroke="#4656e7"/>
<path d="M541.1 585.6L547.3 589L585.9 549L579.7 545.9Z" fill="#456ae8" stroke="#456ae8"/>
<path d="M579.7 545.9L585.9 549L622.8 510.8L616.6 507.7Z" fill="#457ce8" stroke="#457ce8"/>
<path d="M616.6 507.7L622.8 510.8L658.2 474.1L652.1 471.2Z" fill="#478de7" stroke="#478de7"/>
<path d="M652.1 471.2L658.2 474.1L692.2 438.9L686.1 436.1Z" fill="#4ea5e3" stroke="#4ea5e3"/>
<path d="M686.1 436.1L692.2 438.9L724.8 405L718.8 402.4Z" fill="#59c2dc" stroke="#59c2dc"/>
<path d="M718.8 402.4L724.8 405L756.2 372.5L750.2 370Z" fill="#68d7cb" stroke="#68d7cb"/>
<path d="M750.2 370L756.2 372.5L786.3 341.2L780.5 338.8Z" fill="#75deb5" stroke="#75deb5"/>
<path d="M508.7 598.7L514.9 602.5M528.6 578.4L534.8 582.1M548.2 558.4L554.4 562M567.3 538.9L573.5 542.4M586.1 519.8L592.2 523.3M604.4 501.1L610.5 504.5M622.4 482.8L628.4 486.1M640 464.8L646 468.1M657.2 447.2L663.2 450.4M674.1 430L680.1 433.1M690.6 413.1L696.6 416.2M706.9 396.6L712.8 399.5M722.8 380.3L728.7 383.2M738.4 364.4L744.3 367.3M753.7 348.8L759.6 351.6M558.6 547.8L543.1 573.6M626.9 478.1L612.9 502M690.2 413.6L677.5 435.7M749 353.6L737.5 374.2" class="m"/>
<path d="M488.2 619.6L494.5 623.4M768.8 333.4L774.6 336.2" class="b"/>
<path d="M507.1 630.7L508.4 631.4L548.7 589.7L547.3 589Z" fill="#455ce5" stroke="#455ce5"/>
<path d="M547.3 589L548.7 589.7L587.2 549.7L585.9 549Z" fill="#446fe6" stroke="#446fe6"/>
<path d="M585.9 549L587.2 549.7L624.1 511.4L622.8 510.8Z" fill="#4580e5" stroke="#4580e5"/>
<path d="M622.8 510.8L624.1 511.4L659.5 474.7L658.2 474.1Z" fill="#4791e4" stroke="#4791e4"/>
<path d="M658.2 474.1L659.5 474.7L693.5 439.4L692.2 438.9Z" fill="#51adde" stroke="#51adde"/>
<path d="M692.2 438.9L693.5 439.4L726.1 405.6L724.8 405Z" fill="#5dc7d4" stroke="#5dc7d4"/>
<path d="M724.8 405L726.1 405.6L757.5 373L756.2 372.5Z" fill="#6bdbc2" stroke="#6bdbc2"/>
<path d="M756.2 372.5L757.5 373L787.6 341.7L786.3 341.2Z" fill="#77dbab" stroke="#77dbab"/>
<path d="M514.9 602.5L521.1 606.2M534.8 582.1L541.1 585.6M554.4 562L560.6 565.5M573.5 542.4L579.7 545.9M592.2 523.3L598.3 526.6M610.5 504.5L616.6 507.7M628.4 486.1L634.5 489.3M646 468.1L652.1 471.2M663.2 450.4L669.3 453.5M680.1 433.1L686.1 436.1M696.6 416.2L702.6 419.1M712.8 399.5L718.8 402.4M728.7 383.2L734.7 386M744.3 367.3L750.2 370M759.6 351.6L765.5 354.3M543.1 573.6L527.1 600.1M612.9 502L598.5 526.4M677.5 435.7L664.6 458.3M737.5 374.2L725.8 395.2" class="m"/>
<path d="M494.5 623.4L500.8 627.2M774.6 336.2L780.5 338.8" class="b"/>
<path d="M508.4 631.4L509.8 632.1L550.1 590.3L548.7 589.7Z" fill="#445ee4" stroke="#445ee4"/>
<path d="M548.7 589.7L550.1 590.3L588.6 550.3L587.2 549.7Z" fill="#4371e5" stroke="#4371e5"/>
<path d="M587.2 549.7L588.6 550.3L625.5 512L624.1 511.4Z" fill="#4582e4" stroke="#4582e4"/>
<path d="M624.1 511.4L625.5 512L660.9 475.2L659.5 474.7Z" fill="#4793e3" stroke="#4793e3"/>
<path d="M659.5 474.7L660.9 475.2L694.8 440L693.5 439.4Z" fill="#52b0dc" stroke="#52b0dc"/>
<path d="M693.5 439.4L694.8 440L727.4 406.1L726.1 405.6Z" fill="#5ec9d1" stroke="#5ec9d1"/>
<path d="M726.1 405.6L727.4 406.1L758.8 373.5L757.5 373Z" fill="#6cdbbf" stroke="#6cdbbf"/>
<path d="M757.5 373L758.8 373.5L788.9 342.2L787.6 341.7Z" fill="#78daa7" stroke="#78daa7"/>
<path d="M521.1 606.2L527.4 609.6M541.1 585.6L547.3 589M560.6 565.5L566.8 568.8M579.7 545.9L585.9 549M598.3 526.6L604.5 529.7M616.6 507.7L622.8 510.8M634.5 489.3L640.7 492.2M652.1 471.2L658.2 474.1M669.3 453.5L675.3 456.3M686.1 436.1L692.2 438.9M702.6 419.1L708.6 421.8M718.8 402.4L724.8 405M734.7 386L740.6 388.6M750.2 370L756.2 372.5M765.5 354.3L771.4 356.7M527.1 600.1L510.6 627.1M598.5 526.4L583.7 551.3M664.6 458.3L651.2 481.3M725.8 395.2L713.7 416.5M781.3 339.2L771.8 356.3" class="m"/>
<path d="M500.8 627.2L507.1 630.7M780.5 338.8L786.3 341.2" class="b"/>
<path d="M509.8 632.1L511.2 632.8L551.4 591L550.1 590.3Z" fill="#445fe2" stroke="#445fe2"/>
<path d="M550.1 590.3L551.4 591L590 550.9L588.6 550.3Z" fill="#4372e3" stroke="#4372e3"/>
<path d="M588.6 550.3L590 550.9L626.8 512.6L625.5 512Z" fill="#4583e2" stroke="#4583e2"/>
<path d="M625.5 512L626.8 512.6L662.2 475.8L660.9 475.2Z" fill="#4896e0" stroke="#4896e0"/>
<path d="M660.9 475.2L662.2 475.8L696.2 440.5L694.8 440Z" fill="#53b2da" stroke="#53b2da"/>
<path d="M694.8 440L696.2 440.5L728.8 406.6L727.4 406.1Z" fill="#60cacd" stroke="#60cacd"/>
<path d="M727.4 406.1L728.8 406.6L760.1 374L758.8 373.5Z" fill="#6ddabb" stroke="#6ddabb"/>
<path d="M758.8 373.5L760.1 374L790.3 342.6L788.9 342.2Z" fill="#79d8a3" stroke="#79d8a3"/>
<path d="M527.4 609.6L528.8 610.3M547.3 589L548.7 589.7M566.8 568.8L568.2 569.5M585.9 549L587.2 549.7M604.5 529.7L605.9 530.3M622.8 510.8L624.1 511.4M640.7 492.2L642 492.8M658.2 474.1L659.5 474.7M675.3 456.3L676.7 456.9M692.2 438.9L693.5 439.4M708.6 421.8L710 422.3M724.8 405L726.1 405.6M740.6 388.6L741.9 389.1M756.2 372.5L757.5 373M771.4 356.7L772.7 357.2M510.6 627.1L508 631.2M583.7 551.3L580.4 556.8M651.2 481.3L648.2 486.4M713.7 416.5L711 421.2M771.8 356.3L769.4 360.7" class="m"/>
<path d="M507.1 630.7L508.4 631.4M786.3 341.2L787.6 341.7" class="b"/>
<path d="M511.2 632.8L512.6 633.5L552.8 591.6L551.4 591Z" fill="#4361e1" stroke="#4361e1"/>
<path d="M551.4 591L552.8 591.6L591.3 551.5L590 550.9Z" fill="#4374e2" stroke="#4374e2"/>
<path d="M590 550.9L591.3 551.5L628.2 513.1L626.8 512.6Z" fill="#4584e1" stroke="#4584e1"/>
<path d="M626.8 512.6L628.2 513.1L663.6 476.3L662.2 475.8Z" fill="#4998de" stroke="#4998de"/>
<path d="M662.2 475.8L663.6 476.3L697.5 441L696.2 440.5Z" fill="#54b4d8" stroke="#54b4d8"/>
<path d="M696.2 440.5L697.5 441L730.1 407L728.8 406.6Z" fill="#61cbca" stroke="#61cbca"/>
<path d="M728.8 406.6L730.1 407L761.4 374.4L760.1 374Z" fill="#6ed8b6" stroke="#6ed8b6"/>
<path d="M760.1 374L761.4 374.4L791.6 343L790.3 342.6Z" fill="#7ad79f" stroke="#7ad79f"/>
<path d="M528.8 610.3L530.2 611M548.7 589.7L550.1 590.3M568.2 569.5L569.5 570.1M587.2 549.7L588.6 550.3M605.9 530.3L607.2 531M624.1 511.4L625.5 512M642 492.8L643.4 493.4M659.5 474.7L660.9 475.2M676.7 456.9L678 457.4M693.5 439.4L694.8 440M710 422.3L711.3 422.9M726.1 405.6L727.4 406.1M741.9 389.1L743.3 389.6M757.5 373L758.8 373.5M772.7 357.2L774 357.7M580.4 556.8L577 562.3M648.2 486.4L645.2 491.5M711 421.2L708.3 425.9M769.4 360.7L766.9 365.1" class="m"/>
<path d="M508.4 631.4L509.8 632.1M787.6 341.7L788.9 342.2" class="b"/>
<path d="M512.6 633.5L514 634.1L554.2 592.2L552.8 591.6Z" fill="#4363df" stroke="#4363df"/>
<path d="M552.8 591.6L554.2 592.2L592.7 552.1L591.3 551.5Z" fill="#4275e0" stroke="#4275e0"/>
<path d="M591.3 551.5L592.7 552.1L629.6 513.6L628.2 513.1Z" fill="#4485df" stroke="#4485df"/>
<path d="M628.2 513.1L629.6 513.6L664.9 476.8L663.6 476.3Z" fill="#4a9adb" stroke="#4a9adb"/>
<path d="M663.6 476.3L664.9 476.8L698.8 441.4L697.5 441Z" fill="#54b6d5" stroke="#54b6d5"/>
<path d="M697.5 441L698.8 441.4L731.4 407.5L730.1 407Z" fill="#62cbc6" stroke="#62cbc6"/>
<path d="M730.1 407L731.4 407.5L762.7 374.8L761.4 374.4Z" fill="#6ed6b2" stroke="#6ed6b2"/>
<path d="M761.4 374.4L762.7 374.8L792.9 343.4L791.6 343Z" fill="#7ad59b" stroke="#7ad59b"/>
<path d="M530.2 611L531.5 611.7M550.1 590.3L551.4 591M569.5 570.1L570.9 570.7M588.6 550.3L590 550.9M607.2 531L608.6 531.6M625.5 512L626.8 512.6M643.4 493.4L644.7 494M660.9 475.2L662.2 475.8M678 457.4L679.4 458M694.8 440L696.2 440.5M711.3 422.9L712.6 423.4M727.4 406.1L728.8 406.6M743.3 389.6L744.6 390.1M758.8 373.5L760.1 374M774 357.7L775.3 358.2M577 562.3L573.7 567.9M645.2 491.5L642.2 496.6M708.3 425.9L705.6 430.7M766.9 365.1L764.5 369.4" class="m"/>
<path d="M509.8 632.1L511.2 632.8M788.9 342.2L790.3 342.6" class="b"/>
<path d="M514 634.1L515.4 634.7L555.6 592.7L554.2 592.2Z" fill="#4264dd" stroke="#4264dd"/>
<path d="M554.2 592.2L555.6 592.7L594.1 552.6L592.7 552.1Z" fill="#4276dd" stroke="#4276dd"/>
<path d="M592.7 552.1L594.1 552.6L630.9 514.1L629.6 513.6Z" fill="#4486dc" stroke="#4486dc"/>
<path d="M629.6 513.6L630.9 514.1L666.3 477.2L664.9 476.8Z" fill="#4a9cd8" stroke="#4a9cd8"/>
<path d="M664.9 476.8L666.3 477.2L700.2 441.8L698.8 441.4Z" fill="#55b8d2" stroke="#55b8d2"/>
<path d="M698.8 441.4L700.2 441.8L732.7 407.8L731.4 407.5Z" fill="#62ccc2" stroke="#62ccc2"/>
<path d="M731.4 407.5L732.7 407.8L764.1 375.2L762.7 374.8Z" fill="#6fd4ad" stroke="#6fd4ad"/>
<path d="M762.7 374.8L764.1 375.2L794.2 343.8L792.9 343.4Z" fill="#7ad396" stroke="#7ad396"/>
<path d="M531.5 611.7L532.9 612.3M551.4 591L552.8 591.6M570.9 570.7L572.3 571.3M590 550.9L591.3 551.5M608.6 531.6L610 532.1M626.8 512.6L628.2 513.1M644.7 494L646.1 494.5M662.2 475.8L663.6 476.3M679.4 458L680.7 458.5M696.2 440.5L697.5 441M712.6 423.4L714 423.8M728.8 406.6L730.1 407M744.6 390.1L745.9 390.6M760.1 374L761.4 374.4M775.3 358.2L776.6 358.6M573.7 567.9L570.3 573.4M642.2 496.6L639.1 501.7M705.6 430.7L702.9 435.4M764.5 369.4L762 373.8" class="m"/>
<path d="M511.2 632.8L512.6 633.5M790.3 342.6L791.6 343" class="b"/>
<path d="M515.4 634.7L516.7 635.2L556.9 593.2L555.6 592.7Z" fill="#4165db" stroke="#4165db"/>
<path d="M555.6 592.7L556.9 593.2L595.4 553L594.1 552.6Z" fill="#4176db" stroke="#4176db"/>
<path d="M594.1 552.6L595.4 553L632.3 514.5L630.9 514.1Z" fill="#4386da" stroke="#4386da"/>
<path d="M630.9 514.1L632.3 514.5L667.6 477.6L666.3 477.2Z" fill="#4b9ed5" stroke="#4b9ed5"/>
<path d="M666.3 477.2L667.6 477.6L701.5 442.2L700.2 441.8Z" fill="#55b9ce" stroke="#55b9ce"/>
<path d="M700.2 441.8L701.5 442.2L734.1 408.2L732.7 407.8Z" fill="#63ccbe" stroke="#63ccbe"/>
<path d="M732.7 407.8L734.1 408.2L765.4 375.5L764.1 375.2Z" fill="#6fd1a9" stroke="#6fd1a9"/>
<path d="M764.1 375.2L765.4 375.5L795.5 344.1L794.2 343.8Z" fill="#7bd092" stroke="#7bd092"/>
<path d="M532.9 612.3L534.3 612.9M552.8 591.6L554.2 592.2M572.3 571.3L573.6 571.9M591.3 551.5L592.7 552.1M610 532.1L611.3 532.6M628.2 513.1L629.6 513.6M646.1 494.5L647.4 495M663.6 476.3L664.9 476.8M680.7 458.5L682 458.9M697.5 441L698.8 441.4M714 423.8L715.3 424.3M730.1 407L731.4 407.5M745.9 390.6L747.2 391M761.4 374.4L762.7 374.8M776.6 358.6L777.9 359M570.3 573.4L566.8 579M639.1 501.7L636.1 506.8M702.9 435.4L700.1 440.1M762 373.8L759.5 378.2" class="m"/>
<path d="M512.6 633.5L514 634.1M791.6 343L792.9 343.4" class="b"/>
<path d="M516.7 635.2L518.1 635.7L558.3 593.6L556.9 593.2Z" fill="#4066d8" stroke="#4066d8"/>
<path d="M556.9 593.2L558.3 593.6L596.8 553.4L595.4 553Z" fill="#4177d8" stroke="#4177d8"/>
<path d="M595.4 553L596.8 553.4L633.6 514.9L632.3 514.5Z" fill="#4387d7" stroke="#4387d7"/>
<path d="M632.3 514.5L633.6 514.9L669 478L667.6 477.6Z" fill="#4b9fd2" stroke="#4b9fd2"/>
<path d="M667.6 477.6L669 478L702.9 442.5L701.5 442.2Z" fill="#56b9ca" stroke="#56b9ca"/>
<path d="M701.5 442.2L702.9 442.5L735.4 408.5L734.1 408.2Z" fill="#63ccb9" stroke="#63ccb9"/>
<path d="M734.1 408.2L735.4 408.5L766.7 375.8L765.4 375.5Z" fill="#6fcea4" stroke="#6fcea4"/>
<path d="M765.4 375.5L766.7 375.8L796.8 344.3L795.5 344.1Z" fill="#7bce8e" stroke="#7bce8e"/>
<path d="M534.3 612.9L535.7 613.4M554.2 592.2L555.6 592.7M573.6 571.9L575 572.4M592.7 552.1L594.1 552.6M611.3 532.6L612.7 533.1M629.6 513.6L630.9 514.1M647.4 495L648.8 495.5M664.9 476.8L666.3 477.2M682 458.9L683.4 459.3M698.8 441.4L700.2 441.8M715.3 424.3L716.6 424.7M731.4 407.5L732.7 407.8M747.2 391L748.6 391.4M762.7 374.8L764.1 375.2M777.9 359L779.3 359.3M566.8 579L563.4 584.5M636.1 506.8L633 511.9M700.1 440.1L697.3 444.8M759.5 378.2L757 382.5" class="m"/>
<path d="M514 634.1L515.4 634.7M792.9 343.4L794.2 343.8" class="b"/>
<path d="M518.1 635.7L519.5 636.1L559.7 594L558.3 593.6Z" fill="#3f67d5" stroke="#3f67d5"/>
<path d="M558.3 593.6L559.7 594L598.2 553.8L596.8 553.4Z" fill="#4077d4" stroke="#4077d4"/>
<path d="M596.8 553.4L598.2 553.8L635 515.2L633.6 514.9Z" fill="#4286d3" stroke="#4286d3"/>
<path d="M633.6 514.9L635 515.2L670.3 478.2L669 478Z" fill="#4ba0ce" stroke="#4ba0ce"/>
<path d="M669 478L670.3 478.2L704.2 442.8L702.9 442.5Z" fill="#56b8c5" stroke="#56b8c5"/>
<path d="M702.9 442.5L704.2 442.8L736.8 408.7L735.4 408.5Z" fill="#63cbb4" stroke="#63cbb4"/>
<path d="M735.4 408.5L736.8 408.7L768 376L766.7 375.8Z" fill="#6fcb9e" stroke="#6fcb9e"/>
<path d="M766.7 375.8L768 376L798.1 344.5L796.8 344.3Z" fill="#7bcb8a" stroke="#7bcb8a"/>
<path d="M535.7 613.4L537.1 613.9M555.6 592.7L556.9 593.2M575 572.4L576.4 572.9M594.1 552.6L595.4 553M612.7 533.1L614 533.6M630.9 514.1L632.3 514.5M648.8 495.5L650.1 495.9M666.3 477.2L667.6 477.6M683.4 459.3L684.7 459.7M700.2 441.8L701.5 442.2M716.6 424.7L718 425M732.7 407.8L734.1 408.2M748.6 391.4L749.9 391.7M764.1 375.2L765.4 375.5M779.3 359.3L780.6 359.6M563.4 584.5L559.9 590.1M633 511.9L629.9 517M697.3 444.8L694.5 449.5M757 382.5L754.5 386.9" class="m"/>
<path d="M515.4 634.7L516.7 635.2M794.2 343.8L795.5 344.1" class="b"/>
<path d="M519.5 636.1L520.9 636.4L561.1 594.3L559.7 594Z" fill="#3e67d1" stroke="#3e67d1"/>
<path d="M559.7 594L561.1 594.3L599.5 554L598.2 553.8Z" fill="#3f77d0" stroke="#3f77d0"/>
<path d="M598.2 553.8L599.5 554L636.4 515.5L635 515.2Z" fill="#4186cf" stroke="#4186cf"/>
<path d="M635 515.2L636.4 515.5L671.7 478.5L670.3 478.2Z" fill="#4ba0c9" stroke="#4ba0c9"/>
<path d="M670.3 478.2L671.7 478.5L705.5 443L704.2 442.8Z" fill="#56b7bf" stroke="#56b7bf"/>
<path d="M704.2 442.8L705.5 443L738.1 408.9L736.8 408.7Z" fill="#63c8af" stroke="#63c8af"/>
<path d="M736.8 408.7L738.1 408.9L769.4 376.1L768 376Z" fill="#6ec799" stroke="#6ec799"/>
<path d="M768 376L769.4 376.1L799.4 344.6L798.1 344.5Z" fill="#7bc886" stroke="#7bc886"/>
<path d="M537.1 613.9L538.4 614.4M556.9 593.2L558.3 593.6M576.4 572.9L577.8 573.3M595.4 553L596.8 553.4M614 533.6L615.4 533.9M632.3 514.5L633.6 514.9M650.1 495.9L651.5 496.2M667.6 477.6L669 478M684.7 459.7L686.1 460.1M701.5 442.2L702.9 442.5M718 425L719.3 425.3M734.1 408.2L735.4 408.5M749.9 391.7L751.2 392M765.4 375.5L766.7 375.8M780.6 359.6L781.9 359.9M559.9 590.1L556.4 595.6M629.9 517L626.7 522.1M694.5 449.5L691.7 454.2M754.5 386.9L752 391.2" class="m"/>
<path d="M516.7 635.2L518.1 635.7M795.5 344.1L796.8 344.3" class="b"/>
<path d="M520.9 636.4L522.2 636.7L562.4 594.5L561.1 594.3Z" fill="#3c67cd" stroke="#3c67cd"/>
<path d="M561.1 594.3L562.4 594.5L600.9 554.2L599.5 554Z" fill="#3e76cc" stroke="#3e76cc"/>
<path d="M599.5 554L600.9 554.2L637.7 515.6L636.4 515.5Z" fill="#4187ca" stroke="#4187ca"/>
<path d="M636.4 515.5L637.7 515.6L673 478.6L671.7 478.5Z" fill="#4ba0c4" stroke="#4ba0c4"/>
<path d="M671.7 478.5L673 478.6L706.9 443.1L705.5 443Z" fill="#56b6b9" stroke="#56b6b9"/>
<path d="M705.5 443L706.9 443.1L739.4 409L738.1 408.9Z" fill="#62c4a8" stroke="#62c4a8"/>
<path d="M738.1 408.9L739.4 409L770.7 376.2L769.4 376.1Z" fill="#6dc393" stroke="#6dc393"/>
<path d="M769.4 376.1L770.7 376.2L800.8 344.7L799.4 344.6Z" fill="#7ac482" stroke="#7ac482"/>
<path d="M538.4 614.4L539.8 614.8M558.3 593.6L559.7 594M577.8 573.3L579.1 573.7M596.8 553.4L598.2 553.8M615.4 533.9L616.8 534.3M633.6 514.9L635 515.2M651.5 496.2L652.8 496.5M669 478L670.3 478.2M686.1 460.1L687.4 460.3M702.9 442.5L704.2 442.8M719.3 425.3L720.6 425.6M735.4 408.5L736.8 408.7M751.2 392L752.5 392.2M766.7 375.8L768 376M781.9 359.9L783.2 360.1M556.4 595.6L552.9 601.1M626.7 522.1L623.6 527.1M691.7 454.2L688.9 458.8M752 391.2L749.4 395.5" class="m"/>
<path d="M518.1 635.7L519.5 636.1M796.8 344.3L798.1 344.5" class="b"/>
<path d="M522.2 636.7L523.6 636.9L563.8 594.7L562.4 594.5Z" fill="#3b66c8" stroke="#3b66c8"/>
<path d="M562.4 594.5L563.8 594.7L602.2 554.4L600.9 554.2Z" fill="#3d75c7" stroke="#3d75c7"/>
<path d="M600.9 554.2L602.2 554.4L639.1 515.7L637.7 515.6Z" fill="#4186c5" stroke="#4186c5"/>
<path d="M637.7 515.6L639.1 515.7L674.4 478.7L673 478.6Z" fill="#4aa0bf" stroke="#4aa0bf"/>
<path d="M673 478.6L674.4 478.7L708.2 443.1L706.9 443.1Z" fill="#55b3b3" stroke="#55b3b3"/>
<path d="M706.9 443.1L708.2 443.1L740.8 409L739.4 409Z" fill="#61bfa2" stroke="#61bfa2"/>
<path d="M739.4 409L740.8 409L772 376.2L770.7 376.2Z" fill="#6cbe8d" stroke="#6cbe8d"/>
<path d="M770.7 376.2L772 376.2L802.1 344.7L800.8 344.7Z" fill="#79bf7d" stroke="#79bf7d"/>
<path d="M539.8 614.8L541.2 615.1M559.7 594L561.1 594.3M579.1 573.7L580.5 574M598.2 553.8L599.5 554M616.8 534.3L618.1 534.5M635 515.2L636.4 515.5M652.8 496.5L654.2 496.8M670.3 478.2L671.7 478.5M687.4 460.3L688.8 460.5M704.2 442.8L705.5 443M720.6 425.6L722 425.8M736.8 408.7L738.1 408.9M752.5 392.2L753.9 392.3M768 376L769.4 376.1M783.2 360.1L784.5 360.2M552.9 601.1L549.4 606.5M623.6 527.1L620.4 532.2M688.9 458.8L686 463.4M749.4 395.5L746.8 399.7" class="m"/>
<path d="M519.5 636.1L520.9 636.4M798.1 344.5L799.4 344.6" class="b"/>
<path d="M523.6 636.9L525 636.9L565.2 594.7L563.8 594.7Z" fill="#3a65c2" stroke="#3a65c2"/>
<path d="M563.8 594.7L565.2 594.7L603.6 554.4L602.2 554.4Z" fill="#3b73c1" stroke="#3b73c1"/>
<path d="M602.2 554.4L603.6 554.4L640.4 515.7L639.1 515.7Z" fill="#4086bf" stroke="#4086bf"/>
<path d="M639.1 515.7L640.4 515.7L675.7 478.6L674.4 478.7Z" fill="#499eb9" stroke="#499eb9"/>
<path d="M674.4 478.7L675.7 478.6L709.6 443.1L708.2 443.1Z" fill="#55b1ac" stroke="#55b1ac"/>
<path d="M708.2 443.1L709.6 443.1L742.1 408.9L740.8 409Z" fill="#60ba9b" stroke="#60ba9b"/>
<path d="M740.8 409L742.1 408.9L773.4 376.1L772 376.2Z" fill="#6ab986" stroke="#6ab986"/>
<path d="M772 376.2L773.4 376.1L803.4 344.5L802.1 344.7Z" fill="#78ba78" stroke="#78ba78"/>
<path d="M541.2 615.1L542.6 615.4M561.1 594.3L562.4 594.5M580.5 574L581.9 574.2M599.5 554L600.9 554.2M618.1 534.5L619.5 534.7M636.4 515.5L637.7 515.6M654.2 496.8L655.5 496.9M671.7 478.5L673 478.6M688.8 460.5L690.1 460.7M705.5 443L706.9 443.1M722 425.8L723.3 425.9M738.1 408.9L739.4 409M753.9 392.3L755.2 392.4M769.4 376.1L770.7 376.2M784.5 360.2L785.9 360.3M549.4 606.5L545.8 612M620.4 532.2L617.2 537.1M686 463.4L683.2 468M746.8 399.7L744.3 403.9" class="m"/>
<path d="M520.9 636.4L522.2 636.7M799.4 344.6L800.8 344.7" class="b"/>
<path d="M525 636.9L526.3 636.9L566.5 594.7L565.2 594.7Z" fill="#3864bc" stroke="#3864bc"/>
<path d="M565.2 594.7L566.5 594.7L605 554.3L603.6 554.4Z" fill="#3a72bb" stroke="#3a72bb"/>
<path d="M603.6 554.4L605 554.3L641.8 515.6L640.4 515.7Z" fill="#3f84b8" stroke="#3f84b8"/>
<path d="M640.4 515.7L641.8 515.6L677.1 478.5L675.7 478.6Z" fill="#489cb2" stroke="#489cb2"/>
<path d="M675.7 478.6L677.1 478.5L710.9 442.9L709.6 443.1Z" fill="#53ada5" stroke="#53ada5"/>
<path d="M709.6 443.1L710.9 442.9L743.5 408.7L742.1 408.9Z" fill="#5eb493" stroke="#5eb493"/>
<path d="M742.1 408.9L743.5 408.7L774.7 375.9L773.4 376.1Z" fill="#68b380" stroke="#68b380"/>
<path d="M773.4 376.1L774.7 375.9L804.8 344.3L803.4 344.5Z" fill="#75b572" stroke="#75b572"/>
<path d="M542.6 615.4L543.9 615.5M562.4 594.5L563.8 594.7M581.9 574.2L583.2 574.3M600.9 554.2L602.2 554.4M619.5 534.7L620.9 534.8M637.7 515.6L639.1 515.7M655.5 496.9L656.9 497M673 478.6L674.4 478.7M690.1 460.7L691.5 460.7M706.9 443.1L708.2 443.1M723.3 425.9L724.7 425.9M739.4 409L740.8 409M755.2 392.4L756.6 392.4M770.7 376.2L772 376.2M785.9 360.3L787.2 360.3M545.8 612L542.2 617.4M617.2 537.1L614 542M683.2 468L680.3 472.5M744.3 403.9L741.7 408M800.9 344.7L798.7 348.2" class="m"/>
<path d="M522.2 636.7L523.6 636.9M800.8 344.7L802.1 344.7" class="b"/>
<path d="M526.3 636.9L527.7 636.8L567.9 594.5L566.5 594.7Z" fill="#3662b5" stroke="#3662b5"/>
<path d="M566.5 594.7L567.9 594.5L606.3 554.1L605 554.3Z" fill="#386fb4" stroke="#386fb4"/>
<path d="M605 554.3L606.3 554.1L643.1 515.3L641.8 515.6Z" fill="#3e83b1" stroke="#3e83b1"/>
<path d="M641.8 515.6L643.1 515.3L678.4 478.2L677.1 478.5Z" fill="#4799ab" stroke="#4799ab"/>
<path d="M677.1 478.5L678.4 478.2L712.3 442.6L710.9 442.9Z" fill="#52a99d" stroke="#52a99d"/>
<path d="M710.9 442.9L712.3 442.6L744.8 408.4L743.5 408.7Z" fill="#5cad8c" stroke="#5cad8c"/>
<path d="M743.5 408.7L744.8 408.4L776.1 375.6L774.7 375.9Z" fill="#66ad79" stroke="#66ad79"/>
<path d="M774.7 375.9L776.1 375.6L806.1 344L804.8 344.3Z" fill="#73af6d" stroke="#73af6d"/>
<path d="M543.9 615.5L545.3 615.6M563.8 594.7L565.2 594.7M583.2 574.3L584.6 574.3M602.2 554.4L603.6 554.4M620.9 534.8L622.2 534.8M639.1 515.7L640.4 515.7M656.9 497L658.3 497M674.4 478.7L675.7 478.6M691.5 460.7L692.8 460.7M708.2 443.1L709.6 443.1M724.7 425.9L726 425.8M740.8 409L742.1 408.9M756.6 392.4L757.9 392.4M772 376.2L773.4 376.1M787.2 360.3L788.5 360.2M542.2 617.4L538.6 622.7M614 542L610.7 546.9M680.3 472.5L677.4 476.9M741.7 408L739.1 412.1M798.7 348.2L796.4 351.9" class="m"/>
<path d="M523.6 636.9L525 636.9M802.1 344.7L803.4 344.5" class="b"/>
<path d="M527.7 636.8L529 636.5L569.2 594.2L567.9 594.5Z" fill="#345fae" stroke="#345fae"/>
<path d="M567.9 594.5L569.2 594.2L607.7 553.7L606.3 554.1Z" fill="#366cad" stroke="#366cad"/>
<path d="M606.3 554.1L607.7 553.7L644.5 515L643.1 515.3Z" fill="#3c80a9" stroke="#3c80a9"/>
<path d="M643.1 515.3L644.5 515L679.8 477.8L678.4 478.2Z" fill="#4595a3" stroke="#4595a3"/>
<path d="M678.4 478.2L679.8 477.8L713.6 442.2L712.3 442.6Z" fill="#50a495" stroke="#50a495"/>
<path d="M712.3 442.6L713.6 442.2L746.2 408L744.8 408.4Z" fill="#59a684" stroke="#59a684"/>
<path d="M744.8 408.4L746.2 408L777.4 375.1L776.1 375.6Z" fill="#63a673" stroke="#63a673"/>
<path d="M776.1 375.6L777.4 375.1L807.5 343.5L806.1 344Z" fill="#70a867" stroke="#70a867"/>
<path d="M545.3 615.6L546.6 615.6M565.2 594.7L566.5 594.7M584.6 574.3L585.9 574.3M603.6 554.4L605 554.3M622.2 534.8L623.6 534.7M640.4 515.7L641.8 515.6M658.3 497L659.6 496.8M675.7 478.6L677.1 478.5M692.8 460.7L694.2 460.5M709.6 443.1L710.9 442.9M726 425.8L727.4 425.7M742.1 408.9L743.5 408.7M757.9 392.4L759.2 392.2M773.4 376.1L774.7 375.9M788.5 360.2L789.9 360M538.6 622.7L534.9 627.9M610.7 546.9L607.5 551.6M677.4 476.9L674.4 481.3M739.1 412.1L736.4 416.1M796.4 351.9L794 355.6" class="m"/>
<path d="M525 636.9L526.3 636.9M803.4 344.5L804.8 344.3" class="b"/>
<path d="M529 636.5L530.4 636L570.6 593.7L569.2 594.2Z" fill="#325da6" stroke="#325da6"/>
<path d="M569.2 594.2L570.6 593.7L609 553.2L607.7 553.7Z" fill="#3469a5" stroke="#3469a5"/>
<path d="M607.7 553.7L609 553.2L645.8 514.4L644.5 515Z" fill="#3b7da1" stroke="#3b7da1"/>
<path d="M644.5 515L645.8 514.4L681.1 477.3L679.8 477.8Z" fill="#43909a" stroke="#43909a"/>
<path d="M679.8 477.8L681.1 477.3L715 441.6L713.6 442.2Z" fill="#4e9e8d" stroke="#4e9e8d"/>
<path d="M713.6 442.2L715 441.6L747.5 407.4L746.2 408Z" fill="#569f7c" stroke="#569f7c"/>
<path d="M746.2 408L747.5 407.4L778.8 374.5L777.4 375.1Z" fill="#609f6c" stroke="#609f6c"/>
<path d="M777.4 375.1L778.8 374.5L808.8 342.9L807.5 343.5Z" fill="#6ca161" stroke="#6ca161"/>
<path d="M546.6 615.6L548 615.4M566.5 594.7L567.9 594.5M585.9 574.3L587.3 574.1M605 554.3L606.3 554.1M623.6 534.7L624.9 534.5M641.8 515.6L643.1 515.3M659.6 496.8L661 496.6M677.1 478.5L678.4 478.2M694.2 460.5L695.5 460.2M710.9 442.9L712.3 442.6M727.4 425.7L728.7 425.4M743.5 408.7L744.8 408.4M759.2 392.2L760.6 391.8M774.7 375.9L776.1 375.6M789.9 360L791.2 359.6M534.9 627.9L531.2 633.1M607.5 551.6L604.2 556.3M674.4 481.3L671.5 485.5M736.4 416.1L733.8 420M794 355.6L791.7 359.2" class="m"/>
<path d="M526.3 636.9L527.7 636.8M804.8 344.3L806.1 344" class="b"/>
<path d="M530.4 636L531.7 635.3L571.9 593L570.6 593.7Z" fill="#305a9e" stroke="#305a9e"/>
<path d="M570.6 593.7L571.9 593L610.4 552.5L609 553.2Z" fill="#31659d" stroke="#31659d"/>
<path d="M609 553.2L610.4 552.5L647.2 513.7L645.8 514.4Z" fill="#397999" stroke="#397999"/>
<path d="M645.8 514.4L647.2 513.7L682.5 476.5L681.1 477.3Z" fill="#418b91" stroke="#418b91"/>
<path d="M681.1 477.3L682.5 476.5L716.4 440.9L715 441.6Z" fill="#4b9885" stroke="#4b9885"/>
<path d="M715 441.6L716.4 440.9L748.9 406.6L747.5 407.4Z" fill="#539774" stroke="#539774"/>
<path d="M747.5 407.4L748.9 406.6L780.1 373.7L778.8 374.5Z" fill="#5d9766" stroke="#5d9766"/>
<path d="M778.8 374.5L780.1 373.7L810.2 342.1L808.8 342.9Z" fill="#69995b" stroke="#69995b"/>
<path d="M548 615.4L549.3 615.1M567.9 594.5L569.2 594.2M587.3 574.1L588.7 573.7M606.3 554.1L607.7 553.7M624.9 534.5L626.3 534.1M643.1 515.3L644.5 515M661 496.6L662.3 496.2M678.4 478.2L679.8 477.8M695.5 460.2L696.9 459.8M712.3 442.6L713.6 442.2M728.7 425.4L730.1 424.9M744.8 408.4L746.2 408M760.6 391.8L761.9 391.4M776.1 375.6L777.4 375.1M791.2 359.6L792.6 359.2M531.2 633.1L528.6 636.6M604.2 556.3L600.8 560.9M671.5 485.5L668.5 489.7M733.8 420L731.2 423.8M791.7 359.2L789.3 362.6" class="m"/>
<path d="M527.7 636.8L529 636.5M806.1 344L807.5 343.5" class="b"/>
<path d="M531.7 635.3L533 634.5L573.2 592.1L571.9 593Z" fill="#2e5796" stroke="#2e5796"/>
<path d="M571.9 593L573.2 592.1L611.7 551.6L610.4 552.5Z" fill="#306395" stroke="#306395"/>
<path d="M610.4 552.5L611.7 551.6L648.5 512.8L647.2 513.7Z" fill="#377690" stroke="#377690"/>
<path d="M647.2 513.7L648.5 512.8L683.9 475.6L682.5 476.5Z" fill="#3f8588" stroke="#3f8588"/>
<path d="M682.5 476.5L683.9 475.6L717.7 439.9L716.4 440.9Z" fill="#48907c" stroke="#48907c"/>
<path d="M716.4 440.9L717.7 439.9L750.2 405.7L748.9 406.6Z" fill="#508f6c" stroke="#508f6c"/>
<path d="M748.9 406.6L750.2 405.7L781.5 372.7L780.1 373.7Z" fill="#5a905f" stroke="#5a905f"/>
<path d="M780.1 373.7L781.5 372.7L811.5 341.1L810.2 342.1Z" fill="#659155" stroke="#659155"/>
<path d="M549.3 615.1L550.7 614.6M569.2 594.2L570.6 593.7M588.7 573.7L590 573.2M607.7 553.7L609 553.2M626.3 534.1L627.6 533.6M644.5 515L645.8 514.4M662.3 496.2L663.7 495.6M679.8 477.8L681.1 477.3M696.9 459.8L698.2 459.3M713.6 442.2L715 441.6M730.1 424.9L731.4 424.3M746.2 408L747.5 407.4M761.9 391.4L763.3 390.8M777.4 375.1L778.8 374.5M792.6 359.2L793.9 358.5M600.8 560.9L597.5 565.3M668.5 489.7L665.5 493.7M731.2 423.8L728.5 427.4M789.3 362.6L786.9 366" class="m"/>
<path d="M529 636.5L530.4 636M807.5 343.5L808.8 342.9" class="b"/>
<path d="M533 634.5L534.3 633.4L574.5 591L573.2 592.1Z" fill="#2b538e" stroke="#2b538e"/>
<path d="M573.2 592.1L574.5 591L613 550.5L611.7 551.6Z" fill="#2e608c" stroke="#2e608c"/>
<path d="M611.7 551.6L613 550.5L649.9 511.6L648.5 512.8Z" fill="#357188" stroke="#357188"/>
<path d="M648.5 512.8L649.9 511.6L685.2 474.4L683.9 475.6Z" fill="#3d807f" stroke="#3d807f"/>
<path d="M683.9 475.6L685.2 474.4L719.1 438.7L717.7 439.9Z" fill="#458873" stroke="#458873"/>
<path d="M717.7 439.9L719.1 438.7L751.6 404.5L750.2 405.7Z" fill="#4d8764" stroke="#4d8764"/>
<path d="M750.2 405.7L751.6 404.5L782.9 371.6L781.5 372.7Z" fill="#568859" stroke="#568859"/>
<path d="M781.5 372.7L782.9 371.6L812.9 339.9L811.5 341.1Z" fill="#618a4f" stroke="#618a4f"/>
<path d="M550.7 614.6L552 613.9M570.6 593.7L571.9 593M590 573.2L591.3 572.5M609 553.2L610.4 552.5M627.6 533.6L629 532.9M645.8 514.4L647.2 513.7M663.7 495.6L665 494.9M681.1 477.3L682.5 476.5M698.2 459.3L699.6 458.5M715 441.6L716.4 440.9M731.4 424.3L732.8 423.6M747.5 407.4L748.9 406.6M763.3 390.8L764.7 390M778.8 374.5L780.1 373.7M793.9 358.5L795.3 357.8M597.5 565.3L594.1 569.6M665.5 493.7L662.5 497.6M728.5 427.4L725.8 430.9M786.9 366L784.5 369.1" class="m"/>
<path d="M530.4 636L531.7 635.3M808.8 342.9L810.2 342.1" class="b"/>
<path d="M534.3 633.4L535.6 632.1L575.9 589.7L574.5 591Z" fill="#295086" stroke="#295086"/>
<path d="M574.5 591L575.9 589.7L614.4 549.1L613 550.5Z" fill="#2c5c84" stroke="#2c5c84"/>
<path d="M613 550.5L614.4 549.1L651.2 510.2L649.9 511.6Z" fill="#336d80" stroke="#336d80"/>
<path d="M649.9 511.6L651.2 510.2L686.6 473L685.2 474.4Z" fill="#3a7a77" stroke="#3a7a77"/>
<path d="M685.2 474.4L686.6 473L720.5 437.3L719.1 438.7Z" fill="#42806b" stroke="#42806b"/>
<path d="M719.1 438.7L720.5 437.3L753 403.1L751.6 404.5Z" fill="#49805d" stroke="#49805d"/>
<path d="M751.6 404.5L753 403.1L784.2 370.1L782.9 371.6Z" fill="#538153" stroke="#538153"/>
<path d="M782.9 371.6L784.2 370.1L814.3 338.5L812.9 339.9Z" fill="#5c8249" stroke="#5c8249"/>
<path d="M552 613.9L553.3 613.1M571.9 593L573.2 592.1M591.3 572.5L592.7 571.6M610.4 552.5L611.7 551.6M629 532.9L630.3 532M647.2 513.7L648.5 512.8M665 494.9L666.4 494M682.5 476.5L683.9 475.6M699.6 458.5L701 457.6M716.4 440.9L717.7 439.9M732.8 423.6L734.1 422.6M748.9 406.6L750.2 405.7M764.7 390L766 389M780.1 373.7L781.5 372.7M795.3 357.8L796.7 356.8M594.1 569.6L590.7 573.8M662.5 497.6L659.5 501.3M725.8 430.9L723.1 434.3M784.5 369.1L782.1 372.1" class="m"/>
<path d="M531.7 635.3L533 634.5M810.2 342.1L811.5 341.1" class="b"/>
<path d="M535.6 632.1L536.9 630.4L577.2 588L575.9 589.7Z" fill="#274c7e" stroke="#274c7e"/>
<path d="M575.9 589.7L577.2 588L615.7 547.4L614.4 549.1Z" fill="#2a597c" stroke="#2a597c"/>
<path d="M614.4 549.1L615.7 547.4L652.6 508.6L651.2 510.2Z" fill="#306978" stroke="#306978"/>
<path d="M651.2 510.2L652.6 508.6L687.9 471.3L686.6 473Z" fill="#38746f" stroke="#38746f"/>
<path d="M686.6 473L687.9 471.3L721.8 435.6L720.5 437.3Z" fill="#3f7963" stroke="#3f7963"/>
<path d="M720.5 437.3L721.8 435.6L754.4 401.4L753 403.1Z" fill="#467856" stroke="#467856"/>
<path d="M753 403.1L754.4 401.4L785.6 368.4L784.2 370.1Z" fill="#4f7a4d" stroke="#4f7a4d"/>
<path d="M784.2 370.1L785.6 368.4L815.7 336.8L814.3 338.5Z" fill="#587b44" stroke="#587b44"/>
<path d="M553.3 613.1L554.7 612M573.2 592.1L574.5 591M592.7 571.6L594 570.5M611.7 551.6L613 550.5M630.3 532L631.7 530.8M648.5 512.8L649.9 511.6M666.4 494L667.7 492.8M683.9 475.6L685.2 474.4M701 457.6L702.3 456.4M717.7 439.9L719.1 438.7M734.1 422.6L735.5 421.4M750.2 405.7L751.6 404.5M766 389L767.4 387.9M781.5 372.7L782.9 371.6M796.7 356.8L798 355.6M590.7 573.8L587.2 577.7M659.5 501.3L656.4 504.8M723.1 434.3L720.4 437.4M782.1 372.1L779.6 374.9" class="m"/>
<path d="M533 634.5L534.3 633.4M811.5 341.1L812.9 339.9" class="b"/>
<path d="M536.9 630.4L538.2 628.5L578.5 586.1L577.2 588Z" fill="#264c7b" stroke="#264c7b"/>
<path d="M577.2 588L578.5 586.1L617 545.5L615.7 547.4Z" fill="#2a5978" stroke="#2a5978"/>
<path d="M615.7 547.4L617 545.5L653.9 506.6L652.6 508.6Z" fill="#306875" stroke="#306875"/>
<path d="M652.6 508.6L653.9 506.6L689.3 469.4L687.9 471.3Z" fill="#38736b" stroke="#38736b"/>
<path d="M687.9 471.3L689.3 469.4L723.2 433.6L721.8 435.6Z" fill="#3f765f" stroke="#3f765f"/>
<path d="M721.8 435.6L723.2 433.6L755.7 399.4L754.4 401.4Z" fill="#457653" stroke="#457653"/>
<path d="M754.4 401.4L755.7 399.4L787 366.4L785.6 368.4Z" fill="#4e774a" stroke="#4e774a"/>
<path d="M785.6 368.4L787 366.4L817.1 334.8L815.7 336.8Z" fill="#577841" stroke="#577841"/>
<path d="M554.7 612L556 610.6M574.5 591L575.9 589.7M594 570.5L595.3 569.1M613 550.5L614.4 549.1M631.7 530.8L633 529.5M649.9 511.6L651.2 510.2M667.7 492.8L669.1 491.4M685.2 474.4L686.6 473M702.3 456.4L703.7 455M719.1 438.7L720.5 437.3M735.5 421.4L736.9 420M751.6 404.5L753 403.1M767.4 387.9L768.8 386.4M782.9 371.6L784.2 370.1M798 355.6L799.4 354.1M587.2 577.7L583.7 581.4M656.4 504.8L653.3 508.1M720.4 437.4L717.6 440.3M779.6 374.9L777.2 377.5" class="m"/>
<path d="M534.3 633.4L535.6 632.1M812.9 339.9L814.3 338.5" class="b"/>
<path d="M538.2 628.5L539.4 626.2L579.7 583.7L578.5 586.1Z" fill="#264d7b" stroke="#264d7b"/>
<path d="M578.5 586.1L579.7 583.7L618.3 543.1L617 545.5Z" fill="#2b5b78" stroke="#2b5b78"/>
<path d="M617 545.5L618.3 543.1L655.3 504.3L653.9 506.6Z" fill="#316a74" stroke="#316a74"/>
<path d="M653.9 506.6L655.3 504.3L690.6 467L689.3 469.4Z" fill="#39746a" stroke="#39746a"/>
<path d="M689.3 469.4L690.6 467L724.6 431.3L723.2 433.6Z" fill="#3f765e" stroke="#3f765e"/>
<path d="M723.2 433.6L724.6 431.3L757.1 397L755.7 399.4Z" fill="#467652" stroke="#467652"/>
<path d="M755.7 399.4L757.1 397L788.4 364.1L787 366.4Z" fill="#4f7749" stroke="#4f7749"/>
<path d="M787 366.4L788.4 364.1L818.5 332.4L817.1 334.8Z" fill="#587840" stroke="#587840"/>
<path d="M556 610.6L557.3 609M575.9 589.7L577.2 588M595.3 569.1L596.6 567.5M614.4 549.1L615.7 547.4M633 529.5L634.3 527.8M651.2 510.2L652.6 508.6M669.1 491.4L670.4 489.8M686.6 473L687.9 471.3M703.7 455L705 453.3M720.5 437.3L721.8 435.6M736.9 420L738.3 418.3M753 403.1L754.4 401.4M768.8 386.4L770.1 384.7M784.2 370.1L785.6 368.4M799.4 354.1L800.8 352.4M583.7 581.4L580.2 584.9M653.3 508.1L650.2 511.1M717.6 440.3L714.8 443M777.2 377.5L774.7 379.9" class="m"/>
<path d="M535.6 632.1L536.9 630.4M814.3 338.5L815.7 336.8" class="b"/>
<path d="M539.4 626.2L540.6 623.5L581 581.1L579.7 583.7Z" fill="#264e7b" stroke="#264e7b"/>
<path d="M579.7 583.7L581 581.1L619.6 540.4L618.3 543.1Z" fill="#2c5d78" stroke="#2c5d78"/>
<path d="M618.3 543.1L619.6 540.4L656.6 501.6L655.3 504.3Z" fill="#326b72" stroke="#326b72"/>
<path d="M655.3 504.3L656.6 501.6L692 464.3L690.6 467Z" fill="#3a7669" stroke="#3a7669"/>
<path d="M690.6 467L692 464.3L726 428.6L724.6 431.3Z" fill="#40765c" stroke="#40765c"/>
<path d="M724.6 431.3L726 428.6L758.5 394.3L757.1 397Z" fill="#477651" stroke="#477651"/>
<path d="M757.1 397L758.5 394.3L789.8 361.4L788.4 364.1Z" fill="#517748" stroke="#517748"/>
<path d="M788.4 364.1L789.8 361.4L819.9 329.8L818.5 332.4Z" fill="#5a793f" stroke="#5a793f"/>
<path d="M557.3 609L558.5 607M577.2 588L578.5 586.1M596.6 567.5L597.9 565.5M615.7 547.4L617 545.5M634.3 527.8L635.7 525.8M652.6 508.6L653.9 506.6M670.4 489.8L671.8 487.8M687.9 471.3L689.3 469.4M705 453.3L706.4 451.3M721.8 435.6L723.2 433.6M738.3 418.3L739.6 416.3M754.4 401.4L755.7 399.4M770.1 384.7L771.5 382.7M785.6 368.4L787 366.4M800.8 352.4L802.2 350.4M580.2 584.9L576.6 588M650.2 511.1L647 513.9M714.8 443L712 445.4M774.7 379.9L772.3 381.9" class="m"/>
<path d="M536.9 630.4L538.2 628.5M815.7 336.8L817.1 334.8" class="b"/>
<path d="M540.6 623.5L541.8 620.4L582.3 578L581 581.1Z" fill="#264f7b" stroke="#264f7b"/>
<path d="M581 581.1L582.3 578L620.9 537.3L619.6 540.4Z" fill="#2c5f77" stroke="#2c5f77"/>
<path d="M619.6 540.4L620.9 537.3L657.9 498.5L656.6 501.6Z" fill="#336c71" stroke="#336c71"/>
<path d="M656.6 501.6L657.9 498.5L693.4 461.2L692 464.3Z" fill="#3a7768" stroke="#3a7768"/>
<path d="M692 464.3L693.4 461.2L727.3 425.5L726 428.6Z" fill="#41765b" stroke="#41765b"/>
<path d="M726 428.6L727.3 425.5L760 391.2L758.5 394.3Z" fill="#49764f" stroke="#49764f"/>
<path d="M758.5 394.3L760 391.2L791.3 358.3L789.8 361.4Z" fill="#527747" stroke="#527747"/>
<path d="M789.8 361.4L791.3 358.3L821.4 326.7L819.9 329.8Z" fill="#5b793f" stroke="#5b793f"/>
<path d="M558.5 607L559.8 604.7M578.5 586.1L579.7 583.7M597.9 565.5L599.2 563.2M617 545.5L618.3 543.1M635.7 525.8L637 523.5M653.9 506.6L655.3 504.3M671.8 487.8L673.1 485.5M689.3 469.4L690.6 467M706.4 451.3L707.8 449M723.2 433.6L724.6 431.3M739.6 416.3L741 414M755.7 399.4L757.1 397M771.5 382.7L772.9 380.4M787 366.4L788.4 364.1M802.2 350.4L803.6 348.1M576.6 588L573 590.9M647 513.9L643.8 516.3M712 445.4L709.2 447.5M772.3 381.9L769.8 383.7" class="m"/>
<path d="M538.2 628.5L539.4 626.2M817.1 334.8L818.5 332.4" class="b"/>
<path d="M541.8 620.4L543 616.9L583.5 574.4L582.3 578Z" fill="#27517a" stroke="#27517a"/>
<path d="M582.3 578L583.5 574.4L622.2 533.8L620.9 537.3Z" fill="#2d6177" stroke="#2d6177"/>
<path d="M620.9 537.3L622.2 533.8L659.2 494.9L657.9 498.5Z" fill="#346e70" stroke="#346e70"/>
<path d="M657.9 498.5L659.2 494.9L694.7 457.7L693.4 461.2Z" fill="#3b7666" stroke="#3b7666"/>
<path d="M693.4 461.2L694.7 457.7L728.7 422L727.3 425.5Z" fill="#427659" stroke="#427659"/>
<path d="M727.3 425.5L728.7 422L761.4 387.7L760 391.2Z" fill="#4a764e" stroke="#4a764e"/>
<path d="M760 391.2L761.4 387.7L792.7 354.8L791.3 358.3Z" fill="#537846" stroke="#537846"/>
<path d="M791.3 358.3L792.7 354.8L822.9 323.2L821.4 326.7Z" fill="#5c793e" stroke="#5c793e"/>
<path d="M559.8 604.7L561 602.1M579.7 583.7L581 581.1M599.2 563.2L600.5 560.5M618.3 543.1L619.6 540.4M637 523.5L638.3 520.8M655.3 504.3L656.6 501.6M673.1 485.5L674.5 482.8M690.6 467L692 464.3M707.8 449L709.1 446.3M724.6 431.3L726 428.6M741 414L742.4 411.3M757.1 397L758.5 394.3M772.9 380.4L774.4 377.7M788.4 364.1L789.8 361.4M803.6 348.1L805 345.4M573 590.9L569.3 593.4M643.8 516.3L640.6 518.4M709.2 447.5L706.4 449.2M769.8 383.7L767.3 385.1" class="m"/>
<path d="M539.4 626.2L540.6 623.5M818.5 332.4L819.9 329.8" class="b"/>
<path d="M543 616.9L544.2 612.8L584.7 570.4L583.5 574.4Z" fill="#28537a" stroke="#28537a"/>
<path d="M583.5 574.4L584.7 570.4L623.5 529.7L622.2 533.8Z" fill="#2e6376" stroke="#2e6376"/>
<path d="M622.2 533.8L623.5 529.7L660.6 490.9L659.2 494.9Z" fill="#356f6f" stroke="#356f6f"/>
<path d="M659.2 494.9L660.6 490.9L696.1 453.7L694.7 457.7Z" fill="#3c7664" stroke="#3c7664"/>
<path d="M694.7 457.7L696.1 453.7L730.1 418L728.7 422Z" fill="#437657" stroke="#437657"/>
<path d="M728.7 422L730.1 418L762.8 383.7L761.4 387.7Z" fill="#4b764d" stroke="#4b764d"/>
<path d="M761.4 387.7L762.8 383.7L794.2 350.9L792.7 354.8Z" fill="#547845" stroke="#547845"/>
<path d="M792.7 354.8L794.2 350.9L824.3 319.3L822.9 323.2Z" fill="#5e7a3e" stroke="#5e7a3e"/>
<path d="M561 602.1L562.3 599M581 581.1L582.3 578M600.5 560.5L601.8 557.4M619.6 540.4L620.9 537.3M638.3 520.8L639.6 517.7M656.6 501.6L657.9 498.5M674.5 482.8L675.8 479.6M692 464.3L693.4 461.2M709.1 446.3L710.5 443.2M726 428.6L727.3 425.5M742.4 411.3L743.8 408.2M758.5 394.3L760 391.2M774.4 377.7L775.8 374.6M789.8 361.4L791.3 358.3M805 345.4L806.5 342.4M569.3 593.4L565.5 595.5M640.6 518.4L637.3 520.1M706.4 449.2L703.5 450.5M767.3 385.1L764.8 386.1" class="m"/>
<path d="M540.6 623.5L541.8 620.4M819.9 329.8L821.4 326.7" class="b"/>
<path d="M544.2 612.8L545.3 608.3L585.9 565.8L584.7 570.4Z" fill="#295579" stroke="#295579"/>
<path d="M584.7 570.4L585.9 565.8L624.7 525.2L623.5 529.7Z" fill="#2f6476" stroke="#2f6476"/>
<path d="M623.5 529.7L624.7 525.2L661.9 486.4L660.6 490.9Z" fill="#36706e" stroke="#36706e"/>
<path d="M660.6 490.9L661.9 486.4L697.4 449.2L696.1 453.7Z" fill="#3d7663" stroke="#3d7663"/>
<path d="M696.1 453.7L697.4 449.2L731.5 413.5L730.1 418Z" fill="#437656" stroke="#437656"/>
<path d="M730.1 418L731.5 413.5L764.2 379.3L762.8 383.7Z" fill="#4c774c" stroke="#4c774c"/>
<path d="M762.8 383.7L764.2 379.3L795.7 346.4L794.2 350.9Z" fill="#557844" stroke="#557844"/>
<path d="M794.2 350.9L795.7 346.4L825.8 314.8L824.3 319.3Z" fill="#5f7a3d" stroke="#5f7a3d"/>
<path d="M562.3 599L563.5 595.4M582.3 578L583.5 574.4M601.8 557.4L603.1 553.9M620.9 537.3L622.2 533.8M639.6 517.7L640.9 514.1M657.9 498.5L659.2 494.9M675.8 479.6L677.2 476.1M693.4 461.2L694.7 457.7M710.5 443.2L711.9 439.6M727.3 425.5L728.7 422M743.8 408.2L745.2 404.7M760 391.2L761.4 387.7M775.8 374.6L777.2 371.1M791.3 358.3L792.7 354.8M806.5 342.4L807.9 338.9M565.5 595.5L561.8 597.2M637.3 520.1L634 521.4M703.5 450.5L700.6 451.5M764.8 386.1L762.3 386.8M821.5 326.4L819.5 326.8" class="m"/>
<path d="M541.8 620.4L543 616.9M821.4 326.7L822.9 323.2" class="b"/>
<path d="M545.3 608.3L546.4 603.1L587.1 560.7L585.9 565.8Z" fill="#295779" stroke="#295779"/>
<path d="M585.9 565.8L587.1 560.7L626 520.1L624.7 525.2Z" fill="#2f6675" stroke="#2f6675"/>
<path d="M624.7 525.2L626 520.1L663.2 481.3L661.9 486.4Z" fill="#37726d" stroke="#37726d"/>
<path d="M661.9 486.4L663.2 481.3L698.8 444.1L697.4 449.2Z" fill="#3e7661" stroke="#3e7661"/>
<path d="M697.4 449.2L698.8 444.1L732.9 408.5L731.5 413.5Z" fill="#447654" stroke="#447654"/>
<path d="M731.5 413.5L732.9 408.5L765.7 374.3L764.2 379.3Z" fill="#4d774b" stroke="#4d774b"/>
<path d="M764.2 379.3L765.7 374.3L797.2 341.5L795.7 346.4Z" fill="#567843" stroke="#567843"/>
<path d="M795.7 346.4L797.2 341.5L827.4 309.9L825.8 314.8Z" fill="#607a3d" stroke="#607a3d"/>
<path d="M563.5 595.4L564.7 591.3M583.5 574.4L584.7 570.4M603.1 553.9L604.3 549.8M622.2 533.8L623.5 529.7M640.9 514.1L642.2 510.1M659.2 494.9L660.6 490.9M677.2 476.1L678.5 472.1M694.7 457.7L696.1 453.7M711.9 439.6L713.3 435.6M728.7 422L730.1 418M745.2 404.7L746.6 400.7M761.4 387.7L762.8 383.7M777.2 371.1L778.7 367.1M792.7 354.8L794.2 350.9M807.9 338.9L809.4 334.9M561.8 597.2L557.9 598.5M634 521.4L630.7 522.2M700.6 451.5L697.7 451.9M762.3 386.8L759.7 386.9M819.5 326.8L817.3 326.7" class="m"/>
<path d="M543 616.9L544.2 612.8M822.9 323.2L824.3 319.3" class="b"/>
<path d="M546.4 603.1L547.5 597.5L588.3 555L587.1 560.7Z" fill="#2a5979" stroke="#2a5979"/>
<path d="M587.1 560.7L588.3 555L627.2 514.5L626 520.1Z" fill="#306875" stroke="#306875"/>
<path d="M626 520.1L627.2 514.5L664.5 475.7L663.2 481.3Z" fill="#38736b" stroke="#38736b"/>
<path d="M663.2 481.3L664.5 475.7L700.2 438.5L698.8 444.1Z" fill="#3e7660" stroke="#3e7660"/>
<path d="M698.8 444.1L700.2 438.5L734.4 402.9L732.9 408.5Z" fill="#457653" stroke="#457653"/>
<path d="M732.9 408.5L734.4 402.9L767.2 368.8L765.7 374.3Z" fill="#4e774a" stroke="#4e774a"/>
<path d="M765.7 374.3L767.2 368.8L798.7 336L797.2 341.5Z" fill="#577841" stroke="#577841"/>
<path d="M797.2 341.5L798.7 336L828.9 304.5L827.4 309.9Z" fill="#617a3c" stroke="#617a3c"/>
<path d="M564.7 591.3L565.9 586.8M584.7 570.4L585.9 565.8M604.3 549.8L605.6 545.3M623.5 529.7L624.7 525.2M642.2 510.1L643.5 505.6M660.6 490.9L661.9 486.4M678.5 472.1L679.8 467.6M696.1 453.7L697.4 449.2M713.3 435.6L714.7 431.1M730.1 418L731.5 413.5M746.6 400.7L748.1 396.2M762.8 383.7L764.2 379.3M778.7 367.1L780.1 362.7M794.2 350.9L795.7 346.4M809.4 334.9L810.9 330.5M557.9 598.5L554 599.2M630.7 522.2L627.3 522.6M697.7 451.9L694.8 451.9M759.7 386.9L757.2 386.6M817.3 326.7L815.1 326.1" class="m"/>
<path d="M544.2 612.8L545.3 608.3M824.3 319.3L825.8 314.8" class="b"/>
<path d="M547.5 597.5L548.6 591.2L589.4 548.8L588.3 555Z" fill="#2b5b78" stroke="#2b5b78"/>
<path d="M588.3 555L589.4 548.8L628.5 508.3L627.2 514.5Z" fill="#316a74" stroke="#316a74"/>
<path d="M627.2 514.5L628.5 508.3L665.8 469.5L664.5 475.7Z" fill="#39746a" stroke="#39746a"/>
<path d="M664.5 475.7L665.8 469.5L701.5 432.4L700.2 438.5Z" fill="#3f765e" stroke="#3f765e"/>
<path d="M700.2 438.5L701.5 432.4L735.8 396.8L734.4 402.9Z" fill="#467652" stroke="#467652"/>
<path d="M734.4 402.9L735.8 396.8L768.7 362.7L767.2 368.8Z" fill="#4f7749" stroke="#4f7749"/>
<path d="M767.2 368.8L768.7 362.7L800.2 329.9L798.7 336Z" fill="#587840" stroke="#587840"/>
<path d="M798.7 336L800.2 329.9L830.5 298.5L828.9 304.5Z" fill="#637b3b" stroke="#637b3b"/>
<path d="M565.9 586.8L567 581.7M585.9 565.8L587.1 560.7M605.6 545.3L606.8 540.2M624.7 525.2L626 520.1M643.5 505.6L644.8 500.5M661.9 486.4L663.2 481.3M679.8 467.6L681.2 462.5M697.4 449.2L698.8 444.1M714.7 431.1L716.1 426.1M731.5 413.5L732.9 408.5M748.1 396.2L749.5 391.2M764.2 379.3L765.7 374.3M780.1 362.7L781.6 357.7M795.7 346.4L797.2 341.5M810.9 330.5L812.4 325.5M554 599.2L550 599.4M627.3 522.6L623.8 522.4M694.8 451.9L691.8 451.4M757.2 386.6L754.6 385.8M815.1 326.1L812.8 325.1" class="m"/>
<path d="M545.3 608.3L546.4 603.1M825.8 314.8L827.4 309.9" class="b"/>
<path d="M548.6 591.2L549.6 584.4L590.6 542L589.4 548.8Z" fill="#2c5d78" stroke="#2c5d78"/>
<path d="M589.4 548.8L590.6 542L629.7 501.5L628.5 508.3Z" fill="#326b72" stroke="#326b72"/>
<path d="M628.5 508.3L629.7 501.5L667.1 462.8L665.8 469.5Z" fill="#397569" stroke="#397569"/>
<path d="M665.8 469.5L667.1 462.8L702.9 425.7L701.5 432.4Z" fill="#40765c" stroke="#40765c"/>
<path d="M701.5 432.4L702.9 425.7L737.2 390.2L735.8 396.8Z" fill="#477651" stroke="#477651"/>
<path d="M735.8 396.8L737.2 390.2L770.2 356.1L768.7 362.7Z" fill="#507748" stroke="#507748"/>
<path d="M768.7 362.7L770.2 356.1L801.7 323.4L800.2 329.9Z" fill="#5a793f" stroke="#5a793f"/>
<path d="M800.2 329.9L801.7 323.4L832.1 292L830.5 298.5Z" fill="#647b3b" stroke="#647b3b"/>
<path d="M567 581.7L568.1 576M587.1 560.7L588.3 555M606.8 540.2L608 534.5M626 520.1L627.2 514.5M644.8 500.5L646.1 494.9M663.2 481.3L664.5 475.7M681.2 462.5L682.5 456.9M698.8 444.1L700.2 438.5M716.1 426.1L717.4 420.5M732.9 408.5L734.4 402.9M749.5 391.2L750.9 385.7M765.7 374.3L767.2 368.8M781.6 357.7L783.1 352.2M797.2 341.5L798.7 336M812.4 325.5L813.9 320.1M550 599.4L547.2 599.3M623.8 522.4L620.3 521.7M691.8 451.4L688.8 450.4M754.6 385.8L752 384.5M812.8 325.1L810.6 323.5" class="m"/>
<path d="M546.4 603.1L547.5 597.5M827.4 309.9L828.9 304.5" class="b"/>
<path d="M549.6 584.4L550.7 577L591.7 534.6L590.6 542Z" fill="#2c5e77" stroke="#2c5e77"/>
<path d="M590.6 542L591.7 534.6L630.9 494.2L629.7 501.5Z" fill="#336c71" stroke="#336c71"/>
<path d="M629.7 501.5L630.9 494.2L668.4 455.5L667.1 462.8Z" fill="#3a7768" stroke="#3a7768"/>
<path d="M667.1 462.8L668.4 455.5L704.3 418.5L702.9 425.7Z" fill="#41765b" stroke="#41765b"/>
<path d="M702.9 425.7L704.3 418.5L738.7 383L737.2 390.2Z" fill="#487650" stroke="#487650"/>
<path d="M737.2 390.2L738.7 383L771.7 349L770.2 356.1Z" fill="#527747" stroke="#527747"/>
<path d="M770.2 356.1L771.7 349L803.3 316.3L801.7 323.4Z" fill="#5b793f" stroke="#5b793f"/>
<path d="M801.7 323.4L803.3 316.3L833.7 284.9L832.1 292Z" fill="#657b3a" stroke="#657b3a"/>
<path d="M568.1 576L569.3 569.7M588.3 555L589.4 548.8M608 534.5L609.2 528.3M627.2 514.5L628.5 508.3M646.1 494.9L647.3 488.7M664.5 475.7L665.8 469.5M682.5 456.9L683.9 450.7M700.2 438.5L701.5 432.4M717.4 420.5L718.9 414.4M734.4 402.9L735.8 396.8M750.9 385.7L752.4 379.6M767.2 368.8L768.7 362.7M783.1 352.2L784.6 346.1M798.7 336L800.2 329.9M813.9 320.1L815.5 314M620.3 521.7L616.8 520.4M688.8 450.4L685.7 448.8M752 384.5L749.4 382.7M810.6 323.5L808.4 321.4" class="m"/>
<path d="M547.5 597.5L548.6 591.2M828.9 304.5L830.5 298.5" class="b"/>
<path d="M550.7 577L551.7 569.1L592.8 526.8L591.7 534.6Z" fill="#2d6077" stroke="#2d6077"/>
<path d="M591.7 534.6L592.8 526.8L632.1 486.3L630.9 494.2Z" fill="#346d70" stroke="#346d70"/>
<path d="M630.9 494.2L632.1 486.3L669.7 447.7L668.4 455.5Z" fill="#3b7666" stroke="#3b7666"/>
<path d="M668.4 455.5L669.7 447.7L705.7 410.7L704.3 418.5Z" fill="#427659" stroke="#427659"/>
<path d="M704.3 418.5L705.7 410.7L740.2 375.3L738.7 383Z" fill="#4a764f" stroke="#4a764f"/>
<path d="M738.7 383L740.2 375.3L773.2 341.4L771.7 349Z" fill="#537846" stroke="#537846"/>
<path d="M771.7 349L773.2 341.4L804.9 308.8L803.3 316.3Z" fill="#5c793e" stroke="#5c793e"/>
<path d="M803.3 316.3L804.9 308.8L835.4 277.5L833.7 284.9Z" fill="#677c3a" stroke="#677c3a"/>
<path d="M569.3 569.7L570.4 562.9M589.4 548.8L590.6 542M609.2 528.3L610.4 521.5M628.5 508.3L629.7 501.5M647.3 488.7L648.6 481.9M665.8 469.5L667.1 462.8M683.9 450.7L685.2 444M701.5 432.4L702.9 425.7M718.9 414.4L720.3 407.7M735.8 396.8L737.2 390.2M752.4 379.6L753.9 372.9M768.7 362.7L770.2 356.1M784.6 346.1L786.1 339.6M800.2 329.9L801.7 323.4M815.5 314L817.1 307.5M616.8 520.4L613.2 518.6M685.7 448.8L682.6 446.7M749.4 382.7L746.8 380.3M808.4 321.4L806.2 318.8" class="m"/>
<path d="M548.6 591.2L549.6 584.4M830.5 298.5L832.1 292" class="b"/>
<path d="M551.7 569.1L552.7 560.7L593.9 518.4L592.8 526.8Z" fill="#2e6276" stroke="#2e6276"/>
<path d="M592.8 526.8L593.9 518.4L633.3 478.1L632.1 486.3Z" fill="#356f6f" stroke="#356f6f"/>
<path d="M632.1 486.3L633.3 478.1L671 439.5L669.7 447.7Z" fill="#3c7665" stroke="#3c7665"/>
<path d="M669.7 447.7L671 439.5L707.1 402.6L705.7 410.7Z" fill="#427658" stroke="#427658"/>
<path d="M705.7 410.7L707.1 402.6L741.6 367.2L740.2 375.3Z" fill="#4b764d" stroke="#4b764d"/>
<path d="M740.2 375.3L741.6 367.2L774.7 333.3L773.2 341.4Z" fill="#547845" stroke="#547845"/>
<path d="M773.2 341.4L774.7 333.3L806.5 300.8L804.9 308.8Z" fill="#5d7a3e" stroke="#5d7a3e"/>
<path d="M804.9 308.8L806.5 300.8L837 269.6L835.4 277.5Z" fill="#687c39" stroke="#687c39"/>
<path d="M570.4 562.9L571.4 555.5M590.6 542L591.7 534.6M610.4 521.5L611.5 514.2M629.7 501.5L630.9 494.2M648.6 481.9L649.9 474.6M667.1 462.8L668.4 455.5M685.2 444L686.6 436.8M702.9 425.7L704.3 418.5M720.3 407.7L721.7 400.5M737.2 390.2L738.7 383M753.9 372.9L755.3 365.8M770.2 356.1L771.7 349M786.1 339.6L787.7 332.5M801.7 323.4L803.3 316.3M817.1 307.5L818.7 300.5M613.2 518.6L609.5 516.3M682.6 446.7L679.5 444M746.8 380.3L744.1 377.4M806.2 318.8L803.9 315.7" class="m"/>
<path d="M549.6 584.4L550.7 577M832.1 292L833.7 284.9" class="b"/>
<path d="M552.7 560.7L553.6 552L595 509.8L593.9 518.4Z" fill="#2e6476" stroke="#2e6476"/>
<path d="M593.9 518.4L595 509.8L634.6 469.5L633.3 478.1Z" fill="#36706e" stroke="#36706e"/>
<path d="M633.3 478.1L634.6 469.5L672.3 431L671 439.5Z" fill="#3d7663" stroke="#3d7663"/>
<path d="M671 439.5L672.3 431L708.5 394.1L707.1 402.6Z" fill="#437656" stroke="#437656"/>
<path d="M707.1 402.6L708.5 394.1L743.1 358.8L741.6 367.2Z" fill="#4c774c" stroke="#4c774c"/>
<path d="M741.6 367.2L743.1 358.8L776.3 325L774.7 333.3Z" fill="#557844" stroke="#557844"/>
<path d="M774.7 333.3L776.3 325L808.1 292.5L806.5 300.8Z" fill="#5f7a3d" stroke="#5f7a3d"/>
<path d="M806.5 300.8L808.1 292.5L838.7 261.4L837 269.6Z" fill="#697c39" stroke="#697c39"/>
<path d="M571.4 555.5L572.5 547.7M591.7 534.6L592.8 526.8M611.5 514.2L612.7 506.3M630.9 494.2L632.1 486.3M649.9 474.6L651.1 466.8M668.4 455.5L669.7 447.7M686.6 436.8L687.9 429M704.3 418.5L705.7 410.7M721.7 400.5L723.1 392.8M738.7 383L740.2 375.3M755.3 365.8L756.8 358.2M771.7 349L773.2 341.4M787.7 332.5L789.2 324.9M803.3 316.3L804.9 308.8M818.7 300.5L820.3 293M609.5 516.3L605.8 513.5M679.5 444L676.3 440.9M744.1 377.4L741.4 374M803.9 315.7L801.6 312.1" class="m"/>
<path d="M550.7 577L551.7 569.1M833.7 284.9L835.4 277.5" class="b"/>
<path d="M553.6 552L554.6 543L596.1 500.9L595 509.8Z" fill="#2f6675" stroke="#2f6675"/>
<path d="M595 509.8L596.1 500.9L635.8 460.7L634.6 469.5Z" fill="#37716d" stroke="#37716d"/>
<path d="M634.6 469.5L635.8 460.7L673.7 422.2L672.3 431Z" fill="#3e7661" stroke="#3e7661"/>
<path d="M672.3 431L673.7 422.2L709.9 385.4L708.5 394.1Z" fill="#447654" stroke="#447654"/>
<path d="M708.5 394.1L709.9 385.4L744.6 350.2L743.1 358.8Z" fill="#4d774b" stroke="#4d774b"/>
<path d="M743.1 358.8L744.6 350.2L777.9 316.4L776.3 325Z" fill="#567843" stroke="#567843"/>
<path d="M776.3 325L777.9 316.4L809.8 284L808.1 292.5Z" fill="#607a3d" stroke="#607a3d"/>
<path d="M808.1 292.5L809.8 284L840.4 252.9L838.7 261.4Z" fill="#6a7c38" stroke="#6a7c38"/>
<path d="M572.5 547.7L573.5 539.3M592.8 526.8L593.9 518.4M612.7 506.3L613.9 498M632.1 486.3L633.3 478.1M651.1 466.8L652.4 458.6M669.7 447.7L671 439.5M687.9 429L689.3 420.9M705.7 410.7L707.1 402.6M723.1 392.8L724.5 384.7M740.2 375.3L741.6 367.2M756.8 358.2L758.4 350.1M773.2 341.4L774.7 333.3M789.2 324.9L790.8 316.9M804.9 308.8L806.5 300.8M820.3 293L821.9 285M605.8 513.5L602 510.2M676.3 440.9L673.1 437.4M741.4 374L738.7 370.2M801.6 312.1L799.4 308.1" class="m"/>
<path d="M551.7 569.1L552.7 560.7M835.4 277.5L837 269.6" class="b"/>
<path d="M554.6 543L555.6 534L597.2 491.9L596.1 500.9Z" fill="#306875" stroke="#306875"/>
<path d="M596.1 500.9L597.2 491.9L637 451.7L635.8 460.7Z" fill="#37736b" stroke="#37736b"/>
<path d="M635.8 460.7L637 451.7L675 413.4L673.7 422.2Z" fill="#3e7660" stroke="#3e7660"/>
<path d="M673.7 422.2L675 413.4L711.3 376.6L709.9 385.4Z" fill="#457653" stroke="#457653"/>
<path d="M709.9 385.4L711.3 376.6L746.1 341.5L744.6 350.2Z" fill="#4e774a" stroke="#4e774a"/>
<path d="M744.6 350.2L746.1 341.5L779.5 307.8L777.9 316.4Z" fill="#577842" stroke="#577842"/>
<path d="M777.9 316.4L779.5 307.8L811.4 275.5L809.8 284Z" fill="#617a3c" stroke="#617a3c"/>
<path d="M809.8 284L811.4 275.5L842.1 244.5L840.4 252.9Z" fill="#6c7d37" stroke="#6c7d37"/>
<path d="M573.5 539.3L574.6 530.6M593.9 518.4L595 509.8M613.9 498L615 489.4M633.3 478.1L634.6 469.5M652.4 458.6L653.7 450M671 439.5L672.3 431M689.3 420.9L690.6 412.3M707.1 402.6L708.5 394.1M724.5 384.7L726 376.3M741.6 367.2L743.1 358.8M758.4 350.1L759.9 341.7M774.7 333.3L776.3 325M790.8 316.9L792.4 308.6M806.5 300.8L808.1 292.5M821.9 285L823.6 276.8M602 510.2L598.1 506.6M673.1 437.4L669.9 433.5M738.7 370.2L736 366.1M799.4 308.1L797.1 303.8" class="m"/>
<path d="M552.7 560.7L553.6 552M837 269.6L838.7 261.4" class="b"/>
<path d="M555.6 534L556.6 525.1L598.4 483.1L597.2 491.9Z" fill="#316974" stroke="#316974"/>
<path d="M597.2 491.9L598.4 483.1L638.2 443L637 451.7Z" fill="#38746a" stroke="#38746a"/>
<path d="M637 451.7L638.2 443L676.3 404.6L675 413.4Z" fill="#3f765e" stroke="#3f765e"/>
<path d="M675 413.4L676.3 404.6L712.8 368L711.3 376.6Z" fill="#467652" stroke="#467652"/>
<path d="M711.3 376.6L712.8 368L747.6 332.9L746.1 341.5Z" fill="#4f7749" stroke="#4f7749"/>
<path d="M746.1 341.5L747.6 332.9L781 299.3L779.5 307.8Z" fill="#587841" stroke="#587841"/>
<path d="M779.5 307.8L781 299.3L813.1 267L811.4 275.5Z" fill="#637b3b" stroke="#637b3b"/>
<path d="M811.4 275.5L813.1 267L843.8 236.1L842.1 244.5Z" fill="#6d7d37" stroke="#6d7d37"/>
<path d="M574.6 530.6L575.6 521.7M595 509.8L596.1 500.9M615 489.4L616.2 480.5M634.6 469.5L635.8 460.7M653.7 450L654.9 441.2M672.3 431L673.7 422.2M690.6 412.3L692 403.6M708.5 394.1L709.9 385.4M726 376.3L727.4 367.6M743.1 358.8L744.6 350.2M759.9 341.7L761.4 333.1M776.3 325L777.9 316.4M792.4 308.6L794 300.1M808.1 292.5L809.8 284M823.6 276.8L825.3 268.3M598.1 506.6L594.2 502.9M669.9 433.5L666.6 429.4M736 366.1L733.2 361.8M797.1 303.8L794.7 299.3" class="m"/>
<path d="M553.6 552L554.6 543M838.7 261.4L840.4 252.9" class="b"/>
<path d="M556.6 525.1L557.6 516.5L599.5 474.5L598.4 483.1Z" fill="#326b73" stroke="#326b73"/>
<path d="M598.4 483.1L599.5 474.5L639.5 434.5L638.2 443Z" fill="#397569" stroke="#397569"/>
<path d="M638.2 443L639.5 434.5L677.7 396.2L676.3 404.6Z" fill="#40765c" stroke="#40765c"/>
<path d="M676.3 404.6L677.7 396.2L714.2 359.6L712.8 368Z" fill="#477651" stroke="#477651"/>
<path d="M712.8 368L714.2 359.6L749.1 324.6L747.6 332.9Z" fill="#507748" stroke="#507748"/>
<path d="M747.6 332.9L749.1 324.6L782.6 291.1L781 299.3Z" fill="#59793f" stroke="#59793f"/>
<path d="M781 299.3L782.6 291.1L814.7 258.9L813.1 267Z" fill="#647b3b" stroke="#647b3b"/>
<path d="M813.1 267L814.7 258.9L845.6 228L843.8 236.1Z" fill="#6e7d36" stroke="#6e7d36"/>
<path d="M575.6 521.7L576.7 512.7M596.1 500.9L597.2 491.9M616.2 480.5L617.4 471.6M635.8 460.7L637 451.7M654.9 441.2L656.2 432.3M673.7 422.2L675 413.4M692 403.6L693.4 394.8M709.9 385.4L711.3 376.6M727.4 367.6L728.9 358.9M744.6 350.2L746.1 341.5M761.4 333.1L763 324.5M777.9 316.4L779.5 307.8M794 300.1L795.6 291.5M809.8 284L811.4 275.5M825.3 268.3L826.9 259.8M594.2 502.9L590.2 499M666.6 429.4L663.2 425.2M733.2 361.8L730.4 357.4M794.7 299.3L792.4 294.7" class="m"/>
<path d="M554.6 543L555.6 534M840.4 252.9L842.1 244.5" class="b"/>
<path d="M557.6 516.5L558.7 508.5L600.7 466.6L599.5 474.5Z" fill="#336c71" stroke="#336c71"/>
<path d="M599.5 474.5L600.7 466.6L640.8 426.6L639.5 434.5Z" fill="#3a7768" stroke="#3a7768"/>
<path d="M639.5 434.5L640.8 426.6L679.1 388.4L677.7 396.2Z" fill="#41765b" stroke="#41765b"/>
<path d="M677.7 396.2L679.1 388.4L715.6 351.8L714.2 359.6Z" fill="#487650" stroke="#487650"/>
<path d="M714.2 359.6L715.6 351.8L750.7 316.9L749.1 324.6Z" fill="#517747" stroke="#517747"/>
<path d="M749.1 324.6L750.7 316.9L784.2 283.4L782.6 291.1Z" fill="#5b793f" stroke="#5b793f"/>
<path d="M782.6 291.1L784.2 283.4L816.4 251.3L814.7 258.9Z" fill="#657b3a" stroke="#657b3a"/>
<path d="M814.7 258.9L816.4 251.3L847.3 220.5L845.6 228Z" fill="#707d36" stroke="#707d36"/>
<path d="M576.7 512.7L577.7 503.8M597.2 491.9L598.4 483.1M617.4 471.6L618.5 462.8M637 451.7L638.2 443M656.2 432.3L657.5 423.6M675 413.4L676.3 404.6M693.4 394.8L694.7 386.1M711.3 376.6L712.8 368M728.9 358.9L730.4 350.2M746.1 341.5L747.6 332.9M763 324.5L764.5 315.9M779.5 307.8L781 299.3M795.6 291.5L797.2 283M811.4 275.5L813.1 267M826.9 259.8L828.6 251.4M590.2 499L586.2 495.3M663.2 425.2L659.9 421.2M730.4 357.4L727.6 353.1M792.4 294.7L790 290.2" class="m"/>
<path d="M555.6 534L556.6 525.1M842.1 244.5L843.8 236.1" class="b"/>
<path d="M558.7 508.5L559.8 501.3L601.9 459.4L600.7 466.6Z" fill="#346d70" stroke="#346d70"/>
<path d="M600.7 466.6L601.9 459.4L642.1 419.4L640.8 426.6Z" fill="#3b7666" stroke="#3b7666"/>
<path d="M640.8 426.6L642.1 419.4L680.4 381.3L679.1 388.4Z" fill="#427659" stroke="#427659"/>
<path d="M679.1 388.4L680.4 381.3L717.1 344.8L715.6 351.8Z" fill="#49764f" stroke="#49764f"/>
<path d="M715.6 351.8L717.1 344.8L752.2 309.9L750.7 316.9Z" fill="#537846" stroke="#537846"/>
<path d="M750.7 316.9L752.2 309.9L785.8 276.5L784.2 283.4Z" fill="#5c793e" stroke="#5c793e"/>
<path d="M784.2 283.4L785.8 276.5L818 244.4L816.4 251.3Z" fill="#667b3a" stroke="#667b3a"/>
<path d="M816.4 251.3L818 244.4L849 213.7L847.3 220.5Z" fill="#717e35" stroke="#717e35"/>
<path d="M577.7 503.8L578.8 495.3M598.4 483.1L599.5 474.5M618.5 462.8L619.7 454.3M638.2 443L639.5 434.5M657.5 423.6L658.8 415.1M676.3 404.6L677.7 396.2M694.7 386.1L696.1 377.7M712.8 368L714.2 359.6M730.4 350.2L731.9 341.9M747.6 332.9L749.1 324.6M764.5 315.9L766.1 307.7M781 299.3L782.6 291.1M797.2 283L798.9 274.8M813.1 267L814.7 258.9M828.6 251.4L830.3 243.3M586.2 495.3L582.2 491.9M659.9 421.2L656.4 417.5M727.6 353.1L724.7 349.1M790 290.2L787.6 286.1" class="m"/>
<path d="M556.6 525.1L557.6 516.5M843.8 236.1L845.6 228" class="b"/>
<path d="M559.8 501.3L561 495.1L603.2 453.2L601.9 459.4Z" fill="#356f6f" stroke="#356f6f"/>
<path d="M601.9 459.4L603.2 453.2L643.4 413.3L642.1 419.4Z" fill="#3c7665" stroke="#3c7665"/>
<path d="M642.1 419.4L643.4 413.3L681.9 375.2L680.4 381.3Z" fill="#427658" stroke="#427658"/>
<path d="M680.4 381.3L681.9 375.2L718.6 338.8L717.1 344.8Z" fill="#4b764e" stroke="#4b764e"/>
<path d="M717.1 344.8L718.6 338.8L753.7 303.9L752.2 309.9Z" fill="#547845" stroke="#547845"/>
<path d="M752.2 309.9L753.7 303.9L787.4 270.6L785.8 276.5Z" fill="#5d793e" stroke="#5d793e"/>
<path d="M785.8 276.5L787.4 270.6L819.7 238.6L818 244.4Z" fill="#687c39" stroke="#687c39"/>
<path d="M818 244.4L819.7 238.6L850.6 207.8L849 213.7Z" fill="#727e35" stroke="#727e35"/>
<path d="M578.8 495.3L579.9 487.3M599.5 474.5L600.7 466.6M619.7 454.3L621 446.3M639.5 434.5L640.8 426.6M658.8 415.1L660.1 407.2M677.7 396.2L679.1 388.4M696.1 377.7L697.6 369.9M714.2 359.6L715.6 351.8M731.9 341.9L733.4 334.2M749.1 324.6L750.7 316.9M766.1 307.7L767.6 300M782.6 291.1L784.2 283.4M798.9 274.8L800.5 267.2M814.7 258.9L816.4 251.3M830.3 243.3L832 235.7M582.2 491.9L578.1 489.1M656.4 417.5L653 414.4M724.7 349.1L721.8 345.7M787.6 286.1L785.2 282.5M845.7 227.4L843.8 223.9" class="m"/>
<path d="M557.6 516.5L558.7 508.5M845.6 228L847.3 220.5" class="b"/>
<path d="M561 495.1L562.2 490.2L604.5 448.4L603.2 453.2Z" fill="#36706e" stroke="#36706e"/>
<path d="M603.2 453.2L604.5 448.4L644.8 408.5L643.4 413.3Z" fill="#3d7663" stroke="#3d7663"/>
<path d="M643.4 413.3L644.8 408.5L683.3 370.4L681.9 375.2Z" fill="#437656" stroke="#437656"/>
<path d="M681.9 375.2L683.3 370.4L720.1 334L718.6 338.8Z" fill="#4c774c" stroke="#4c774c"/>
<path d="M718.6 338.8L720.1 334L755.2 299.2L753.7 303.9Z" fill="#557844" stroke="#557844"/>
<path d="M753.7 303.9L755.2 299.2L788.9 265.8L787.4 270.6Z" fill="#5f7a3d" stroke="#5f7a3d"/>
<path d="M787.4 270.6L788.9 265.8L821.2 233.9L819.7 238.6Z" fill="#697c39" stroke="#697c39"/>
<path d="M819.7 238.6L821.2 233.9L852.2 203.2L850.6 207.8Z" fill="#737e34" stroke="#737e34"/>
<path d="M579.9 487.3L581.1 480.1M600.7 466.6L601.9 459.4M621 446.3L622.2 439.2M640.8 426.6L642.1 419.4M660.1 407.2L661.5 400.1M679.1 388.4L680.4 381.3M697.6 369.9L699 362.8M715.6 351.8L717.1 344.8M733.4 334.2L734.8 327.2M750.7 316.9L752.2 309.9M767.6 300L769.2 293M784.2 283.4L785.8 276.5M800.5 267.2L802.1 260.3M816.4 251.3L818 244.4M832 235.7L833.7 228.9M578.1 489.1L574.1 487.1M653 414.4L649.5 412M721.8 345.7L718.8 343.1M785.2 282.5L782.7 279.6M843.8 223.9L841.7 220.9" class="m"/>
<path d="M558.7 508.5L559.8 501.3M847.3 220.5L849 213.7" class="b"/>
<path d="M562.2 490.2L563.6 486.8L605.9 445L604.5 448.4Z" fill="#36716d" stroke="#36716d"/>
<path d="M604.5 448.4L605.9 445L646.2 405.1L644.8 408.5Z" fill="#3e7661" stroke="#3e7661"/>
<path d="M644.8 408.5L646.2 405.1L684.7 367.1L683.3 370.4Z" fill="#447654" stroke="#447654"/>
<path d="M683.3 370.4L684.7 367.1L721.5 330.7L720.1 334Z" fill="#4d774b" stroke="#4d774b"/>
<path d="M720.1 334L721.5 330.7L756.8 295.9L755.2 299.2Z" fill="#567843" stroke="#567843"/>
<path d="M755.2 299.2L756.8 295.9L790.5 262.5L788.9 265.8Z" fill="#607a3d" stroke="#607a3d"/>
<path d="M788.9 265.8L790.5 262.5L822.8 230.6L821.2 233.9Z" fill="#6a7c38" stroke="#6a7c38"/>
<path d="M821.2 233.9L822.8 230.6L853.8 199.9L852.2 203.2Z" fill="#747e34" stroke="#747e34"/>
<path d="M581.1 480.1L582.3 473.9M601.9 459.4L603.2 453.2M622.2 439.2L623.5 433.1M642.1 419.4L643.4 413.3M661.5 400.1L662.9 394.1M680.4 381.3L681.9 375.2M699 362.8L700.4 356.8M717.1 344.8L718.6 338.8M734.8 327.2L736.3 321.2M752.2 309.9L753.7 303.9M769.2 293L770.7 287.1M785.8 276.5L787.4 270.6M802.1 260.3L803.7 254.4M818 244.4L819.7 238.6M833.7 228.9L835.3 223M574.1 487.1L570 486.2M649.5 412L646 410.7M718.8 343.1L715.8 341.5M782.7 279.6L780.1 277.7M841.7 220.9L839.6 218.8" class="m"/>
<path d="M559.8 501.3L561 495.1M849 213.7L850.6 207.8" class="b"/>
<path d="M563.6 486.8L565 485.1L607.3 443.3L605.9 445Z" fill="#3b7a72" stroke="#3b7a72"/>
<path d="M605.9 445L607.3 443.3L647.7 403.4L646.2 405.1Z" fill="#427d66" stroke="#427d66"/>
<path d="M646.2 405.1L647.7 403.4L686.2 365.3L684.7 367.1Z" fill="#497d58" stroke="#497d58"/>
<path d="M684.7 367.1L686.2 365.3L723 328.9L721.5 330.7Z" fill="#537e4f" stroke="#537e4f"/>
<path d="M721.5 330.7L723 328.9L758.3 294.1L756.8 295.9Z" fill="#5d8046" stroke="#5d8046"/>
<path d="M756.8 295.9L758.3 294.1L792 260.7L790.5 262.5Z" fill="#678240" stroke="#678240"/>
<path d="M790.5 262.5L792 260.7L824.3 228.8L822.8 230.6Z" fill="#72843b" stroke="#72843b"/>
<path d="M822.8 230.6L824.3 228.8L855.3 198.1L853.8 199.9Z" fill="#7c8537" stroke="#7c8537"/>
<path d="M582.3 473.9L583.6 469.1M603.2 453.2L604.5 448.4M623.5 433.1L624.9 428.2M643.4 413.3L644.8 408.5M662.9 394.1L664.3 389.2M681.9 375.2L683.3 370.4M700.4 356.8L701.9 352M718.6 338.8L720.1 334M736.3 321.2L737.8 316.4M753.7 303.9L755.2 299.2M770.7 287.1L772.3 282.3M787.4 270.6L788.9 265.8M803.7 254.4L805.3 249.7M819.7 238.6L821.2 233.9M835.3 223L836.9 218.4M570 486.2L565.9 486.6M646 410.7L642.5 410.7M715.8 341.5L712.8 341.2M780.1 277.7L777.6 277.1M839.6 218.8L837.3 217.9" class="m"/>
<path d="M561 495.1L562.2 490.2M850.6 207.8L852.2 203.2" class="b"/>
<path d="M565 485.1L566.5 485.1L608.8 443.2L607.3 443.3Z" fill="#5ab8a9" stroke="#5ab8a9"/>
<path d="M607.3 443.3L608.8 443.2L649.2 403.3L647.7 403.4Z" fill="#64bc96" stroke="#64bc96"/>
<path d="M647.7 403.4L649.2 403.3L687.7 365.2L686.2 365.3Z" fill="#6fbb82" stroke="#6fbb82"/>
<path d="M686.2 365.3L687.7 365.2L724.5 328.8L723 328.9Z" fill="#7ebd74" stroke="#7ebd74"/>
<path d="M723 328.9L724.5 328.8L759.7 293.9L758.3 294.1Z" fill="#8cbf67" stroke="#8cbf67"/>
<path d="M758.3 294.1L759.7 293.9L793.5 260.6L792 260.7Z" fill="#9cc35e" stroke="#9cc35e"/>
<path d="M792 260.7L793.5 260.6L825.8 228.6L824.3 228.8Z" fill="#adc657" stroke="#adc657"/>
<path d="M824.3 228.8L825.8 228.6L856.8 198L855.3 198.1Z" fill="#bbc752" stroke="#bbc752"/>
<path d="M583.6 469.1L585 465.7M604.5 448.4L605.9 445M624.9 428.2L626.3 424.8M644.8 408.5L646.2 405.1M664.3 389.2L665.7 385.9M683.3 370.4L684.7 367.1M701.9 352L703.3 348.7M720.1 334L721.5 330.7M737.8 316.4L739.3 313.1M755.2 299.2L756.8 295.9M772.3 282.3L773.8 279M788.9 265.8L790.5 262.5M805.3 249.7L806.8 246.4M821.2 233.9L822.8 230.6M836.9 218.4L838.5 215.1M565.9 486.6L563.2 487.7M642.5 410.7L639.1 412.2M712.8 341.2L709.8 342.3M777.6 277.1L774.9 277.9M837.3 217.9L835 218.4" class="m"/>
<path d="M562.2 490.2L563.6 486.8M852.2 203.2L853.8 199.9" class="b"/>
<path d="M566.5 485.1L568.1 486.9L610.4 445L608.8 443.2Z" fill="#77f4da" stroke="#77f4da"/>
<path d="M608.8 443.2L610.4 445L650.7 405L649.2 403.3Z" fill="#85f5c0" stroke="#85f5c0"/>
<path d="M649.2 403.3L650.7 405L689.2 366.8L687.7 365.2Z" fill="#94f5a8" stroke="#94f5a8"/>
<path d="M687.7 365.2L689.2 366.8L726 330.4L724.5 328.8Z" fill="#a7f896" stroke="#a7f896"/>
<path d="M724.5 328.8L726 330.4L761.2 295.5L759.7 293.9Z" fill="#bafb84" stroke="#bafb84"/>
<path d="M759.7 293.9L761.2 295.5L794.9 262.1L793.5 260.6Z" fill="#cfff7a" stroke="#cfff7a"/>
<path d="M793.5 260.6L794.9 262.1L827.2 230.1L825.8 228.6Z" fill="#e5ff71" stroke="#e5ff71"/>
<path d="M825.8 228.6L827.2 230.1L858.2 199.4L856.8 198Z" fill="#f6ff6a" stroke="#f6ff6a"/>
<path d="M585 465.7L586.4 463.9M605.9 445L607.3 443.3M626.3 424.8L627.7 423.1M646.2 405.1L647.7 403.4M665.7 385.9L667.2 384.1M684.7 367.1L686.2 365.3M703.3 348.7L704.8 346.9M721.5 330.7L723 328.9M739.3 313.1L740.8 311.3M756.8 295.9L758.3 294.1M773.8 279L775.3 277.2M790.5 262.5L792 260.7M806.8 246.4L808.3 244.6M822.8 230.6L824.3 228.8M838.5 215.1L840 213.3M639.1 412.2L635.6 415.3M709.8 342.3L706.8 345M774.9 277.9L772.2 280.2M835 218.4L832.7 220.5" class="m"/>
<path d="M563.6 486.8L565 485.1M853.8 199.9L855.3 198.1" class="b"/>
<path d="M568.1 486.9L569.8 490.4L612 448.5L610.4 445Z" fill="#76f1d3" stroke="#76f1d3"/>
<path d="M610.4 445L612 448.5L652.3 408.4L650.7 405Z" fill="#83efb9" stroke="#83efb9"/>
<path d="M650.7 405L652.3 408.4L690.7 370.2L689.2 366.8Z" fill="#93f0a2" stroke="#93f0a2"/>
<path d="M689.2 366.8L690.7 370.2L727.5 333.7L726 330.4Z" fill="#a5f290" stroke="#a5f290"/>
<path d="M726 330.4L727.5 333.7L762.6 298.7L761.2 295.5Z" fill="#b8f580" stroke="#b8f580"/>
<path d="M761.2 295.5L762.6 298.7L796.3 265.3L794.9 262.1Z" fill="#cdfa77" stroke="#cdfa77"/>
<path d="M794.9 262.1L796.3 265.3L828.5 233.2L827.2 230.1Z" fill="#e3ff6d" stroke="#e3ff6d"/>
<path d="M827.2 230.1L828.5 233.2L859.5 202.4L858.2 199.4Z" fill="#f2fe67" stroke="#f2fe67"/>
<path d="M586.4 463.9L587.9 463.9M607.3 443.3L608.8 443.2M627.7 423.1L629.2 423M647.7 403.4L649.2 403.3M667.2 384.1L668.7 384M686.2 365.3L687.7 365.2M704.8 346.9L706.3 346.8M723 328.9L724.5 328.8M740.8 311.3L742.3 311.2M758.3 294.1L759.7 293.9M775.3 277.2L776.8 277.1M792 260.7L793.5 260.6M808.3 244.6L809.8 244.4M824.3 228.8L825.8 228.6M840 213.3L841.4 213.1M635.6 415.3L632.1 420.2M706.8 345L703.7 349.4M772.2 280.2L769.5 284.3M832.7 220.5L830.3 224.2" class="m"/>
<path d="M565 485.1L566.5 485.1M855.3 198.1L856.8 198" class="b"/>
<path d="M569.8 490.4L571.5 495.6L613.7 453.6L612 448.5Z" fill="#72e4c5" stroke="#72e4c5"/>
<path d="M612 448.5L613.7 453.6L653.9 413.4L652.3 408.4Z" fill="#7ee3ac" stroke="#7ee3ac"/>
<path d="M652.3 408.4L653.9 413.4L692.3 375.1L690.7 370.2Z" fill="#8de498" stroke="#8de498"/>
<path d="M690.7 370.2L692.3 375.1L729 338.5L727.5 333.7Z" fill="#9fe687" stroke="#9fe687"/>
<path d="M727.5 333.7L729 338.5L764.1 303.5L762.6 298.7Z" fill="#b1e978" stroke="#b1e978"/>
<path d="M762.6 298.7L764.1 303.5L797.7 270L796.3 265.3Z" fill="#c5ee6f" stroke="#c5ee6f"/>
<path d="M796.3 265.3L797.7 270L829.9 237.8L828.5 233.2Z" fill="#d9f267" stroke="#d9f267"/>
<path d="M828.5 233.2L829.9 237.8L860.7 207L859.5 202.4Z" fill="#e8f161" stroke="#e8f161"/>
<path d="M587.9 463.9L589.5 465.7M608.8 443.2L610.4 445M629.2 423L630.8 424.8M649.2 403.3L650.7 405M668.7 384L670.2 385.7M687.7 365.2L689.2 366.8M706.3 346.8L707.8 348.4M724.5 328.8L726 330.4M742.3 311.2L743.8 312.8M759.7 293.9L761.2 295.5M776.8 277.1L778.2 278.6M793.5 260.6L794.9 262.1M809.8 244.4L811.2 245.9M825.8 228.6L827.2 230.1M841.4 213.1L842.8 214.6M632.1 420.2L628.7 426.9M703.7 349.4L700.6 355.6M769.5 284.3L766.7 290M830.3 224.2L827.8 229.5" class="m"/>
<path d="M566.5 485.1L568.1 486.9M856.8 198L858.2 199.4" class="b"/>
<path d="M571.5 495.6L573.3 502.3L615.4 460.2L613.7 453.6Z" fill="#6fdcbc" stroke="#6fdcbc"/>
<path d="M613.7 453.6L615.4 460.2L655.5 419.9L653.9 413.4Z" fill="#7cdba3" stroke="#7cdba3"/>
<path d="M653.9 413.4L655.5 419.9L693.8 381.5L692.3 375.1Z" fill="#8bdc90" stroke="#8bdc90"/>
<path d="M692.3 375.1L693.8 381.5L730.4 344.8L729 338.5Z" fill="#9cdf80" stroke="#9cdf80"/>
<path d="M729 338.5L730.4 344.8L765.5 309.7L764.1 303.5Z" fill="#aee273" stroke="#aee273"/>
<path d="M764.1 303.5L765.5 309.7L799 276.1L797.7 270Z" fill="#c1e66b" stroke="#c1e66b"/>
<path d="M797.7 270L799 276.1L831.1 243.8L829.9 237.8Z" fill="#d4ea62" stroke="#d4ea62"/>
<path d="M829.9 237.8L831.1 243.8L862 212.9L860.7 207Z" fill="#e2e85d" stroke="#e2e85d"/>
<path d="M589.5 465.7L591.1 469.2M610.4 445L612 448.5M630.8 424.8L632.4 428.2M650.7 405L652.3 408.4M670.2 385.7L671.7 389.1M689.2 366.8L690.7 370.2M707.8 348.4L709.3 351.7M726 330.4L727.5 333.7M743.8 312.8L745.3 316M761.2 295.5L762.6 298.7M778.2 278.6L779.6 281.8M794.9 262.1L796.3 265.3M811.2 245.9L812.6 249.1M827.2 230.1L828.5 233.2M842.8 214.6L844.2 217.7M628.7 426.9L625.3 435.3M700.6 355.6L697.5 363.5M766.7 290L763.9 297.4M827.8 229.5L825.2 236.5" class="m"/>
<path d="M568.1 486.9L569.8 490.4M858.2 199.4L859.5 202.4" class="b"/>
<path d="M573.3 502.3L575.2 510.3L617.2 468L615.4 460.2Z" fill="#6ed7b5" stroke="#6ed7b5"/>
<path d="M615.4 460.2L617.2 468L657.2 427.7L655.5 419.9Z" fill="#7ad69d" stroke="#7ad69d"/>
<path d="M655.5 419.9L657.2 427.7L695.4 389.2L693.8 381.5Z" fill="#8ad88b" stroke="#8ad88b"/>
<path d="M693.8 381.5L695.4 389.2L731.9 352.3L730.4 344.8Z" fill="#9ada7c" stroke="#9ada7c"/>
<path d="M730.4 344.8L731.9 352.3L766.8 317.1L765.5 309.7Z" fill="#acde70" stroke="#acde70"/>
<path d="M765.5 309.7L766.8 317.1L800.3 283.4L799 276.1Z" fill="#bfe267" stroke="#bfe267"/>
<path d="M799 276.1L800.3 283.4L832.3 251.1L831.1 243.8Z" fill="#d1e560" stroke="#d1e560"/>
<path d="M831.1 243.8L832.3 251.1L863.1 220L862 212.9Z" fill="#dee35b" stroke="#dee35b"/>
<path d="M591.1 469.2L592.9 474.4M612 448.5L613.7 453.6M632.4 428.2L634 433.3M652.3 408.4L653.9 413.4M671.7 389.1L673.3 394.1M690.7 370.2L692.3 375.1M709.3 351.7L710.8 356.6M727.5 333.7L729 338.5M745.3 316L746.7 320.8M762.6 298.7L764.1 303.5M779.6 281.8L781 286.6M796.3 265.3L797.7 270M812.6 249.1L813.9 253.7M828.5 233.2L829.9 237.8M844.2 217.7L845.5 222.3M625.3 435.3L621.9 445.4M697.5 363.5L694.4 373M763.9 297.4L761.1 306.4M825.2 236.5L822.6 245.1" class="m"/>
<path d="M569.8 490.4L571.5 495.6M859.5 202.4L860.7 207" class="b"/>
<path d="M575.2 510.3L577.1 519.4L619 477L617.2 468Z" fill="#6ed4af" stroke="#6ed4af"/>
<path d="M617.2 468L619 477L658.9 436.5L657.2 427.7Z" fill="#7ad398" stroke="#7ad398"/>
<path d="M657.2 427.7L658.9 436.5L696.9 397.8L695.4 389.2Z" fill="#8ad588" stroke="#8ad588"/>
<path d="M695.4 389.2L696.9 397.8L733.4 360.9L731.9 352.3Z" fill="#9ad878" stroke="#9ad878"/>
<path d="M731.9 352.3L733.4 360.9L768.2 325.6L766.8 317.1Z" fill="#acdb6d" stroke="#acdb6d"/>
<path d="M766.8 317.1L768.2 325.6L801.6 291.7L800.3 283.4Z" fill="#bfdf65" stroke="#bfdf65"/>
<path d="M800.3 283.4L801.6 291.7L833.5 259.3L832.3 251.1Z" fill="#d0e15e" stroke="#d0e15e"/>
<path d="M832.3 251.1L833.5 259.3L864.2 228.1L863.1 220Z" fill="#dde059" stroke="#dde059"/>
<path d="M592.9 474.4L594.6 481M613.7 453.6L615.4 460.2M634 433.3L635.7 439.8M653.9 413.4L655.5 419.9M673.3 394.1L674.9 400.5M692.3 375.1L693.8 381.5M710.8 356.6L712.3 363M729 338.5L730.4 344.8M746.7 320.8L748.1 327.1M764.1 303.5L765.5 309.7M781 286.6L782.4 292.7M797.7 270L799 276.1M813.9 253.7L815.2 259.8M829.9 237.8L831.1 243.8M845.5 222.3L846.7 228.2M621.9 445.4L618.5 457M694.4 373L691.3 384M761.1 306.4L758.2 316.9M822.6 245.1L820 255" class="m"/>
<path d="M571.5 495.6L573.3 502.3M860.7 207L862 212.9" class="b"/>
<path d="M577.1 519.4L579.1 529.3L620.8 486.7L619 477Z" fill="#6fd2ab" stroke="#6fd2ab"/>
<path d="M619 477L620.8 486.7L660.5 446.1L658.9 436.5Z" fill="#7ad194" stroke="#7ad194"/>
<path d="M658.9 436.5L660.5 446.1L698.5 407.3L696.9 397.8Z" fill="#8bd484" stroke="#8bd484"/>
<path d="M696.9 397.8L698.5 407.3L734.8 370.2L733.4 360.9Z" fill="#9bd675" stroke="#9bd675"/>
<path d="M733.4 360.9L734.8 370.2L769.5 334.8L768.2 325.6Z" fill="#adda6b" stroke="#adda6b"/>
<path d="M768.2 325.6L769.5 334.8L802.8 300.8L801.6 291.7Z" fill="#bfde63" stroke="#bfde63"/>
<path d="M801.6 291.7L802.8 300.8L834.7 268.2L833.5 259.3Z" fill="#cfdf5c" stroke="#cfdf5c"/>
<path d="M833.5 259.3L834.7 268.2L865.3 237L864.2 228.1Z" fill="#dcde57" stroke="#dcde57"/>
<path d="M594.6 481L596.5 488.9M615.4 460.2L617.2 468M635.7 439.8L637.4 447.6M655.5 419.9L657.2 427.7M674.9 400.5L676.5 408.2M693.8 381.5L695.4 389.2M712.3 363L713.9 370.5M730.4 344.8L731.9 352.3M748.1 327.1L749.6 334.5M765.5 309.7L766.8 317.1M782.4 292.7L783.7 300.1M799 276.1L800.3 283.4M815.2 259.8L816.5 267.1M831.1 243.8L832.3 251.1M846.7 228.2L847.9 235.4M618.5 457L615.2 470M691.3 384L688.2 396.4M758.2 316.9L755.4 328.7M820 255L817.2 266.3" class="m"/>
<path d="M573.3 502.3L575.2 510.3M862 212.9L863.1 220" class="b"/>
<path d="M579.1 529.3L581.1 539.7L622.6 497L620.8 486.7Z" fill="#70d1a7" stroke="#70d1a7"/>
<path d="M620.8 486.7L622.6 497L662.2 456.3L660.5 446.1Z" fill="#7cd091" stroke="#7cd091"/>
<path d="M660.5 446.1L662.2 456.3L700.1 417.3L698.5 407.3Z" fill="#8cd382" stroke="#8cd382"/>
<path d="M698.5 407.3L700.1 417.3L736.2 380.1L734.8 370.2Z" fill="#9cd572" stroke="#9cd572"/>
<path d="M734.8 370.2L736.2 380.1L770.9 344.5L769.5 334.8Z" fill="#aed969" stroke="#aed969"/>
<path d="M769.5 334.8L770.9 344.5L804 310.4L802.8 300.8Z" fill="#c1dd61" stroke="#c1dd61"/>
<path d="M802.8 300.8L804 310.4L835.8 277.7L834.7 268.2Z" fill="#d0de5b" stroke="#d0de5b"/>
<path d="M834.7 268.2L835.8 277.7L866.3 246.4L865.3 237Z" fill="#dddc56" stroke="#dddc56"/>
<path d="M596.5 488.9L598.3 497.9M617.2 468L619 477M637.4 447.6L639.1 456.5M657.2 427.7L658.9 436.5M676.5 408.2L678.1 416.9M695.4 389.2L696.9 397.8M713.9 370.5L715.4 379.2M731.9 352.3L733.4 360.9M749.6 334.5L751 343M766.8 317.1L768.2 325.6M783.7 300.1L785.1 308.5M800.3 283.4L801.6 291.7M816.5 267.1L817.7 275.3M832.3 251.1L833.5 259.3M847.9 235.4L849 243.5M615.2 470L611.9 484.1M688.2 396.4L685.2 409.8M755.4 328.7L752.5 341.5M817.2 266.3L814.5 278.6" class="m"/>
<path d="M575.2 510.3L577.1 519.4M863.1 220L864.2 228.1" class="b"/>
<path d="M581.1 539.7L583 550.5L624.4 507.6L622.6 497Z" fill="#71d0a3" stroke="#71d0a3"/>
<path d="M622.6 497L624.4 507.6L663.9 466.8L662.2 456.3Z" fill="#7dd08f" stroke="#7dd08f"/>
<path d="M662.2 456.3L663.9 466.8L701.6 427.7L700.1 417.3Z" fill="#8dd27f" stroke="#8dd27f"/>
<path d="M700.1 417.3L701.6 427.7L737.7 390.4L736.2 380.1Z" fill="#9dd570" stroke="#9dd570"/>
<path d="M736.2 380.1L737.7 390.4L772.2 354.6L770.9 344.5Z" fill="#b0d968" stroke="#b0d968"/>
<path d="M770.9 344.5L772.2 354.6L805.2 320.4L804 310.4Z" fill="#c2dd60" stroke="#c2dd60"/>
<path d="M804 310.4L805.2 320.4L836.9 287.6L835.8 277.7Z" fill="#d1dd5a" stroke="#d1dd5a"/>
<path d="M835.8 277.7L836.9 287.6L867.4 256L866.3 246.4Z" fill="#dedb55" stroke="#dedb55"/>
<path d="M598.3 497.9L600.2 507.7M619 477L620.8 486.7M639.1 456.5L640.9 466.2M658.9 436.5L660.5 446.1M678.1 416.9L679.7 426.5M696.9 397.8L698.5 407.3M715.4 379.2L716.9 388.6M733.4 360.9L734.8 370.2M751 343L752.4 352.3M768.2 325.6L769.5 334.8M785.1 308.5L786.3 317.6M801.6 291.7L802.8 300.8M817.7 275.3L818.9 284.3M833.5 259.3L834.7 268.2M849 243.5L850.1 252.4M611.9 484.1L608.7 499.1M685.2 409.8L682.1 424.1M752.5 341.5L749.5 355.2M814.5 278.6L811.7 291.7" class="m"/>
<path d="M577.1 519.4L579.1 529.3M864.2 228.1L865.3 237" class="b"/>
<path d="M583 550.5L585 561.4L626.2 518.4L624.4 507.6Z" fill="#72d0a0" stroke="#72d0a0"/>
<path d="M624.4 507.6L626.2 518.4L665.6 477.4L663.9 466.8Z" fill="#7fd08d" stroke="#7fd08d"/>
<path d="M663.9 466.8L665.6 477.4L703.2 438.2L701.6 427.7Z" fill="#8fd27d" stroke="#8fd27d"/>
<path d="M701.6 427.7L703.2 438.2L739.1 400.7L737.7 390.4Z" fill="#9fd56f" stroke="#9fd56f"/>
<path d="M737.7 390.4L739.1 400.7L773.5 364.8L772.2 354.6Z" fill="#b2d967" stroke="#b2d967"/>
<path d="M772.2 354.6L773.5 364.8L806.4 330.5L805.2 320.4Z" fill="#c4dd5f" stroke="#c4dd5f"/>
<path d="M805.2 320.4L806.4 330.5L838 297.5L836.9 287.6Z" fill="#d2dc59" stroke="#d2dc59"/>
<path d="M836.9 287.6L838 297.5L868.4 265.9L867.4 256Z" fill="#dfdb55" stroke="#dfdb55"/>
<path d="M600.2 507.7L602.1 518.1M620.8 486.7L622.6 497M640.9 466.2L642.6 476.4M660.5 446.1L662.2 456.3M679.7 426.5L681.4 436.6M698.5 407.3L700.1 417.3M716.9 388.6L718.4 398.5M734.8 370.2L736.2 380.1M752.4 352.3L753.7 362.1M769.5 334.8L770.9 344.5M786.3 317.6L787.6 327.3M802.8 300.8L804 310.4M818.9 284.3L820.1 293.9M834.7 268.2L835.8 277.7M850.1 252.4L851.2 261.9M608.7 499.1L605.4 514.7M682.1 424.1L679 439M749.5 355.2L746.6 369.5M811.7 291.7L809 305.4" class="m"/>
<path d="M579.1 529.3L581.1 539.7M865.3 237L866.3 246.4" class="b"/>
<path d="M585 561.4L587 572.2L628 529.1L626.2 518.4Z" fill="#73cf9e" stroke="#73cf9e"/>
<path d="M626.2 518.4L628 529.1L667.2 487.9L665.6 477.4Z" fill="#81d08b" stroke="#81d08b"/>
<path d="M665.6 477.4L667.2 487.9L704.7 448.6L703.2 438.2Z" fill="#91d37b" stroke="#91d37b"/>
<path d="M703.2 438.2L704.7 448.6L740.5 411L739.1 400.7Z" fill="#a2d56e" stroke="#a2d56e"/>
<path d="M739.1 400.7L740.5 411L774.8 375L773.5 364.8Z" fill="#b4d966" stroke="#b4d966"/>
<path d="M773.5 364.8L774.8 375L807.6 340.5L806.4 330.5Z" fill="#c7dd5e" stroke="#c7dd5e"/>
<path d="M806.4 330.5L807.6 340.5L839.1 307.4L838 297.5Z" fill="#d4dc59" stroke="#d4dc59"/>
<path d="M838 297.5L839.1 307.4L869.4 275.6L868.4 265.9Z" fill="#e0da54" stroke="#e0da54"/>
<path d="M602.1 518.1L604 528.8M622.6 497L624.4 507.6M642.6 476.4L644.4 487M662.2 456.3L663.9 466.8M681.4 436.6L683 447M700.1 417.3L701.6 427.7M718.4 398.5L719.8 408.8M736.2 380.1L737.7 390.4M753.7 362.1L755.1 372.3M770.9 344.5L772.2 354.6M787.6 327.3L788.9 337.3M804 310.4L805.2 320.4M820.1 293.9L821.3 303.8M835.8 277.7L836.9 287.6M851.2 261.9L852.3 271.6M605.4 514.7L602.2 530.6M679 439L675.9 454.3M746.6 369.5L743.7 384.1M809 305.4L806.2 319.4M866.4 247.1L863.9 259.6" class="m"/>
<path d="M581.1 539.7L583 550.5M866.3 246.4L867.4 256" class="b"/>
<path d="M587 572.2L588.9 582.8L629.8 539.5L628 529.1Z" fill="#75d09b" stroke="#75d09b"/>
<path d="M628 529.1L629.8 539.5L668.9 498.2L667.2 487.9Z" fill="#83d189" stroke="#83d189"/>
<path d="M667.2 487.9L668.9 498.2L706.2 458.8L704.7 448.6Z" fill="#93d37a" stroke="#93d37a"/>
<path d="M704.7 448.6L706.2 458.8L741.9 421L740.5 411Z" fill="#a4d66d" stroke="#a4d66d"/>
<path d="M740.5 411L741.9 421L776.1 384.9L774.8 375Z" fill="#b7da65" stroke="#b7da65"/>
<path d="M774.8 375L776.1 384.9L808.8 350.3L807.6 340.5Z" fill="#c9de5d" stroke="#c9de5d"/>
<path d="M807.6 340.5L808.8 350.3L840.2 317.1L839.1 307.4Z" fill="#d6dc58" stroke="#d6dc58"/>
<path d="M839.1 307.4L840.2 317.1L870.4 285.2L869.4 275.6Z" fill="#e2db54" stroke="#e2db54"/>
<path d="M604 528.8L605.9 539.6M624.4 507.6L626.2 518.4M644.4 487L646.1 497.6M663.9 466.8L665.6 477.4M683 447L684.6 457.5M701.6 427.7L703.2 438.2M719.8 408.8L721.3 419.2M737.7 390.4L739.1 400.7M755.1 372.3L756.5 382.6M772.2 354.6L773.5 364.8M788.9 337.3L790.1 347.5M805.2 320.4L806.4 330.5M821.3 303.8L822.4 313.8M836.9 287.6L838 297.5M852.3 271.6L853.4 281.5M602.2 530.6L599 546.8M675.9 454.3L672.9 469.8M743.7 384.1L740.8 399M806.2 319.4L803.4 333.7M863.9 259.6L861.3 273.3" class="m"/>
<path d="M583 550.5L585 561.4M867.4 256L868.4 265.9" class="b"/>
<path d="M588.9 582.8L590.8 593.1L631.6 549.7L629.8 539.5Z" fill="#77d099" stroke="#77d099"/>
<path d="M629.8 539.5L631.6 549.7L670.5 508.2L668.9 498.2Z" fill="#86d287" stroke="#86d287"/>
<path d="M668.9 498.2L670.5 508.2L707.7 468.6L706.2 458.8Z" fill="#96d478" stroke="#96d478"/>
<path d="M706.2 458.8L707.7 468.6L743.3 430.8L741.9 421Z" fill="#a7d76c" stroke="#a7d76c"/>
<path d="M741.9 421L743.3 430.8L777.4 394.5L776.1 384.9Z" fill="#b9db64" stroke="#b9db64"/>
<path d="M776.1 384.9L777.4 394.5L810 359.8L808.8 350.3Z" fill="#cbde5d" stroke="#cbde5d"/>
<path d="M808.8 350.3L810 359.8L841.3 326.4L840.2 317.1Z" fill="#d8dd58" stroke="#d8dd58"/>
<path d="M840.2 317.1L841.3 326.4L871.4 294.4L870.4 285.2Z" fill="#e5db53" stroke="#e5db53"/>
<path d="M605.9 539.6L607.8 550.4M626.2 518.4L628 529.1M646.1 497.6L647.9 508.3M665.6 477.4L667.2 487.9M684.6 457.5L686.2 468M703.2 438.2L704.7 448.6M721.3 419.2L722.8 429.6M739.1 400.7L740.5 411M756.5 382.6L757.8 392.8M773.5 364.8L774.8 375M790.1 347.5L791.4 357.5M806.4 330.5L807.6 340.5M822.4 313.8L823.5 323.7M838 297.5L839.1 307.4M853.4 281.5L854.4 291.3M599 546.8L595.7 563M672.9 469.8L669.8 485.2M740.8 399L737.8 413.8M803.4 333.7L800.6 347.9M861.3 273.3L858.6 287" class="m"/>
<path d="M585 561.4L587 572.2M868.4 265.9L869.4 275.6" class="b"/>
<path d="M590.8 593.1L592.7 602.9L633.4 559.3L631.6 549.7Z" fill="#78d196" stroke="#78d196"/>
<path d="M631.6 549.7L633.4 559.3L672.2 517.8L670.5 508.2Z" fill="#88d386" stroke="#88d386"/>
<path d="M670.5 508.2L672.2 517.8L709.2 478.1L707.7 468.6Z" fill="#98d577" stroke="#98d577"/>
<path d="M707.7 468.6L709.2 478.1L744.7 440.1L743.3 430.8Z" fill="#aad86c" stroke="#aad86c"/>
<path d="M743.3 430.8L744.7 440.1L778.7 403.7L777.4 394.5Z" fill="#bcdd64" stroke="#bcdd64"/>
<path d="M777.4 394.5L778.7 403.7L811.2 368.8L810 359.8Z" fill="#cddf5d" stroke="#cddf5d"/>
<path d="M810 359.8L811.2 368.8L842.5 335.4L841.3 326.4Z" fill="#dadd58" stroke="#dadd58"/>
<path d="M841.3 326.4L842.5 335.4L872.4 303.3L871.4 294.4Z" fill="#e7db53" stroke="#e7db53"/>
<path d="M607.8 550.4L609.6 560.9M628 529.1L629.8 539.5M647.9 508.3L649.6 518.7M667.2 487.9L668.9 498.2M686.2 468L687.8 478.3M704.7 448.6L706.2 458.8M722.8 429.6L724.3 439.7M740.5 411L741.9 421M757.8 392.8L759.2 402.8M774.8 375L776.1 384.9M791.4 357.5L792.6 367.4M807.6 340.5L808.8 350.3M823.5 323.7L824.7 333.5M839.1 307.4L840.2 317.1M854.4 291.3L855.5 301M595.7 563L592.5 579M669.8 485.2L666.7 500.6M737.8 413.8L734.9 428.5M800.6 347.9L797.8 362M858.6 287L855.9 300.5" class="m"/>
<path d="M587 572.2L588.9 582.8M869.4 275.6L870.4 285.2" class="b"/>
<path d="M592.7 602.9L594.6 612.2L635.1 568.5L633.4 559.3Z" fill="#7bd294" stroke="#7bd294"/>
<path d="M633.4 559.3L635.1 568.5L673.8 526.8L672.2 517.8Z" fill="#8bd485" stroke="#8bd485"/>
<path d="M672.2 517.8L673.8 526.8L710.7 487L709.2 478.1Z" fill="#9bd675" stroke="#9bd675"/>
<path d="M709.2 478.1L710.7 487L746.1 448.9L744.7 440.1Z" fill="#adda6b" stroke="#adda6b"/>
<path d="M744.7 440.1L746.1 448.9L780 412.4L778.7 403.7Z" fill="#c0de63" stroke="#c0de63"/>
<path d="M778.7 403.7L780 412.4L812.4 377.4L811.2 368.8Z" fill="#d0e05c" stroke="#d0e05c"/>
<path d="M811.2 368.8L812.4 377.4L843.6 343.9L842.5 335.4Z" fill="#ddde58" stroke="#ddde58"/>
<path d="M842.5 335.4L843.6 343.9L873.5 311.6L872.4 303.3Z" fill="#e8db52" stroke="#e8db52"/>
<path d="M609.6 560.9L611.5 571.1M629.8 539.5L631.6 549.7M649.6 518.7L651.3 528.7M668.9 498.2L670.5 508.2M687.8 478.3L689.3 488.2M706.2 458.8L707.7 468.6M724.3 439.7L725.7 449.5M741.9 421L743.3 430.8M759.2 402.8L760.5 412.4M776.1 384.9L777.4 394.5M792.6 367.4L793.9 377M808.8 350.3L810 359.8M824.7 333.5L825.8 342.9M840.2 317.1L841.3 326.4M855.5 301L856.5 310.3M592.5 579L590.3 590M666.7 500.6L663.6 515.6M734.9 428.5L732 442.9M797.8 362L795 375.8M855.9 300.5L853.2 313.8" class="m"/>
<path d="M588.9 582.8L590.8 593.1M870.4 285.2L871.4 294.4" class="b"/>
<path d="M594.6 612.2L596.5 620.9L636.8 577.1L635.1 568.5Z" fill="#7dd393" stroke="#7dd393"/>
<path d="M635.1 568.5L636.8 577.1L675.4 535.4L673.8 526.8Z" fill="#8ed684" stroke="#8ed684"/>
<path d="M673.8 526.8L675.4 535.4L712.2 495.4L710.7 487Z" fill="#9ed874" stroke="#9ed874"/>
<path d="M710.7 487L712.2 495.4L747.5 457.2L746.1 448.9Z" fill="#b0dc6b" stroke="#b0dc6b"/>
<path d="M746.1 448.9L747.5 457.2L781.3 420.6L780 412.4Z" fill="#c3e063" stroke="#c3e063"/>
<path d="M780 412.4L781.3 420.6L813.7 385.5L812.4 377.4Z" fill="#d3e15c" stroke="#d3e15c"/>
<path d="M812.4 377.4L813.7 385.5L844.7 351.8L843.6 343.9Z" fill="#e0df57" stroke="#e0df57"/>
<path d="M843.6 343.9L844.7 351.8L874.5 319.5L873.5 311.6Z" fill="#eadb52" stroke="#eadb52"/>
<path d="M611.5 571.1L613.3 580.9M631.6 549.7L633.4 559.3M651.3 528.7L653 538.3M670.5 508.2L672.2 517.8M689.3 488.2L690.9 497.7M707.7 468.6L709.2 478.1M725.7 449.5L727.2 458.9M743.3 430.8L744.7 440.1M760.5 412.4L761.9 421.7M777.4 394.5L778.7 403.7M793.9 377L795.1 386.1M810 359.8L811.2 368.8M825.8 342.9L827 351.9M841.3 326.4L842.5 335.4M856.5 310.3L857.6 319.2M663.6 515.6L660.5 530.3M732 442.9L729 456.9M795 375.8L792.2 389.2M853.2 313.8L850.6 326.7" class="m"/>
<path d="M590.8 593.1L592.7 602.9M871.4 294.4L872.4 303.3" class="b"/>
<path d="M596.5 620.9L598.3 629.1L638.5 585.2L636.8 577.1Z" fill="#80d592" stroke="#80d592"/>
<path d="M636.8 577.1L638.5 585.2L677 543.3L675.4 535.4Z" fill="#91d783" stroke="#91d783"/>
<path d="M675.4 535.4L677 543.3L713.7 503.3L712.2 495.4Z" fill="#a1da73" stroke="#a1da73"/>
<path d="M712.2 495.4L713.7 503.3L748.9 464.9L747.5 457.2Z" fill="#b4de6b" stroke="#b4de6b"/>
<path d="M747.5 457.2L748.9 464.9L782.6 428.2L781.3 420.6Z" fill="#c7e262" stroke="#c7e262"/>
<path d="M781.3 420.6L782.6 428.2L814.9 393L813.7 385.5Z" fill="#d6e25c" stroke="#d6e25c"/>
<path d="M813.7 385.5L814.9 393L845.9 359.3L844.7 351.8Z" fill="#e3e057" stroke="#e3e057"/>
<path d="M844.7 351.8L845.9 359.3L875.6 326.9L874.5 319.5Z" fill="#ecdb52" stroke="#ecdb52"/>
<path d="M613.3 580.9L615.1 590.1M633.4 559.3L635.1 568.5M653 538.3L654.7 547.4M672.2 517.8L673.8 526.8M690.9 497.7L692.5 506.7M709.2 478.1L710.7 487M727.2 458.9L728.6 467.8M744.7 440.1L746.1 448.9M761.9 421.7L763.2 430.5M778.7 403.7L780 412.4M795.1 386.1L796.4 394.7M811.2 368.8L812.4 377.4M827 351.9L828.2 360.5M842.5 335.4L843.6 343.9M857.6 319.2L858.7 327.6M660.5 530.3L657.4 544.5M729 456.9L726.1 470.5M792.2 389.2L789.4 402.3M850.6 326.7L847.9 339.2" class="m"/>
<path d="M592.7 602.9L594.6 612.2M872.4 303.3L873.5 311.6" class="b"/>
<path d="M598.3 629.1L600 636.7L640.2 592.7L638.5 585.2Z" fill="#83d791" stroke="#83d791"/>
<path d="M638.5 585.2L640.2 592.7L678.5 550.7L677 543.3Z" fill="#94d982" stroke="#94d982"/>
<path d="M677 543.3L678.5 550.7L715.2 510.6L713.7 503.3Z" fill="#a5dc73" stroke="#a5dc73"/>
<path d="M713.7 503.3L715.2 510.6L750.3 472.1L748.9 464.9Z" fill="#b8e06a" stroke="#b8e06a"/>
<path d="M748.9 464.9L750.3 472.1L783.9 435.3L782.6 428.2Z" fill="#cbe462" stroke="#cbe462"/>
<path d="M782.6 428.2L783.9 435.3L816.1 400.1L814.9 393Z" fill="#d9e45d" stroke="#d9e45d"/>
<path d="M814.9 393L816.1 400.1L847 366.2L845.9 359.3Z" fill="#e6e258" stroke="#e6e258"/>
<path d="M845.9 359.3L847 366.2L876.7 333.7L875.6 326.9Z" fill="#eedb52" stroke="#eedb52"/>
<path d="M615.1 590.1L616.9 598.8M635.1 568.5L636.8 577.1M654.7 547.4L656.3 556M673.8 526.8L675.4 535.4M692.5 506.7L694 515.2M710.7 487L712.2 495.4M728.6 467.8L730.1 476.1M746.1 448.9L747.5 457.2M763.2 430.5L764.6 438.7M780 412.4L781.3 420.6M796.4 394.7L797.6 402.9M812.4 377.4L813.7 385.5M828.2 360.5L829.3 368.5M843.6 343.9L844.7 351.8M858.7 327.6L859.8 335.5M657.4 544.5L654.3 558.2M726.1 470.5L723.2 483.6M789.4 402.3L786.6 414.8M847.9 339.2L845.3 351.2" class="m"/>
<path d="M594.6 612.2L596.5 620.9M873.5 311.6L874.5 319.5" class="b"/>
<path d="M600 636.7L601.8 643.7L641.9 599.6L640.2 592.7Z" fill="#86d991" stroke="#86d991"/>
<path d="M640.2 592.7L641.9 599.6L680.1 557.5L678.5 550.7Z" fill="#97dc81" stroke="#97dc81"/>
<path d="M678.5 550.7L680.1 557.5L716.7 517.3L715.2 510.6Z" fill="#a8de73" stroke="#a8de73"/>
<path d="M715.2 510.6L716.7 517.3L751.7 478.8L750.3 472.1Z" fill="#bce36a" stroke="#bce36a"/>
<path d="M750.3 472.1L751.7 478.8L785.2 441.9L783.9 435.3Z" fill="#cfe762" stroke="#cfe762"/>
<path d="M783.9 435.3L785.2 441.9L817.4 406.5L816.1 400.1Z" fill="#dde65d" stroke="#dde65d"/>
<path d="M816.1 400.1L817.4 406.5L848.2 372.6L847 366.2Z" fill="#eae458" stroke="#eae458"/>
<path d="M847 366.2L848.2 372.6L877.9 340L876.7 333.7Z" fill="#f0dc52" stroke="#f0dc52"/>
<path d="M616.9 598.8L618.6 606.9M636.8 577.1L638.5 585.2M656.3 556L658 564M675.4 535.4L677 543.3M694 515.2L695.6 523.1M712.2 495.4L713.7 503.3M730.1 476.1L731.5 483.9M747.5 457.2L748.9 464.9M764.6 438.7L765.9 446.4M781.3 420.6L782.6 428.2M797.6 402.9L798.9 410.5M813.7 385.5L814.9 393M829.3 368.5L830.5 376M844.7 351.8L845.9 359.3M859.8 335.5L860.9 342.9M654.3 558.2L651.2 571.4M723.2 483.6L720.2 496.2M786.6 414.8L783.8 426.9M845.3 351.2L842.7 362.8" class="m"/>
<path d="M596.5 620.9L598.3 629.1M874.5 319.5L875.6 326.9" class="b"/>
<path d="M601.8 643.7L603.5 650.2L643.5 606L641.9 599.6Z" fill="#8adc90" stroke="#8adc90"/>
<path d="M641.9 599.6L643.5 606L681.7 563.8L680.1 557.5Z" fill="#9bde80" stroke="#9bde80"/>
<path d="M680.1 557.5L681.7 563.8L718.2 523.5L716.7 517.3Z" fill="#ade173" stroke="#ade173"/>
<path d="M716.7 517.3L718.2 523.5L753.1 484.9L751.7 478.8Z" fill="#c0e56a" stroke="#c0e56a"/>
<path d="M751.7 478.8L753.1 484.9L786.5 447.9L785.2 441.9Z" fill="#d3e962" stroke="#d3e962"/>
<path d="M785.2 441.9L786.5 447.9L818.6 412.5L817.4 406.5Z" fill="#e0e85d" stroke="#e0e85d"/>
<path d="M817.4 406.5L818.6 412.5L849.4 378.4L848.2 372.6Z" fill="#eee658" stroke="#eee658"/>
<path d="M848.2 372.6L849.4 378.4L879 345.8L877.9 340Z" fill="#f3dc52" stroke="#f3dc52"/>
<path d="M618.6 606.9L620.4 614.4M638.5 585.2L640.2 592.7M658 564L659.6 571.5M677 543.3L678.5 550.7M695.6 523.1L697.1 530.4M713.7 503.3L715.2 510.6M731.5 483.9L732.9 491.1M748.9 464.9L750.3 472.1M765.9 446.4L767.3 453.5M782.6 428.2L783.9 435.3M798.9 410.5L800.2 417.5M814.9 393L816.1 400.1M830.5 376L831.7 382.9M845.9 359.3L847 366.2M860.9 342.9L862 349.8M651.2 571.4L648 584.1M720.2 496.2L717.3 508.3M783.8 426.9L781.1 438.4M842.7 362.8L840.1 373.8" class="m"/>
<path d="M598.3 629.1L600 636.7M875.6 326.9L876.7 333.7" class="b"/>
<path d="M603.5 650.2L605.2 656.1L645.1 611.9L643.5 606Z" fill="#8dde90" stroke="#8dde90"/>
<path d="M643.5 606L645.1 611.9L683.2 569.6L681.7 563.8Z" fill="#9fe180" stroke="#9fe180"/>
<path d="M681.7 563.8L683.2 569.6L719.6 529.2L718.2 523.5Z" fill="#b1e473" stroke="#b1e473"/>
<path d="M718.2 523.5L719.6 529.2L754.5 490.5L753.1 484.9Z" fill="#c4e86a" stroke="#c4e86a"/>
<path d="M753.1 484.9L754.5 490.5L787.9 453.5L786.5 447.9Z" fill="#d7ec62" stroke="#d7ec62"/>
<path d="M786.5 447.9L787.9 453.5L819.9 417.9L818.6 412.5Z" fill="#e5ea5d" stroke="#e5ea5d"/>
<path d="M818.6 412.5L819.9 417.9L850.6 383.8L849.4 378.4Z" fill="#f2e858" stroke="#f2e858"/>
<path d="M849.4 378.4L850.6 383.8L880.2 351.1L879 345.8Z" fill="#f6dd52" stroke="#f6dd52"/>
<path d="M620.4 614.4L622.1 621.4M640.2 592.7L641.9 599.6M659.6 571.5L661.2 578.3M678.5 550.7L680.1 557.5M697.1 530.4L698.6 537.2M715.2 510.6L716.7 517.3M732.9 491.1L734.4 497.8M750.3 472.1L751.7 478.8M767.3 453.5L768.6 460.1M783.9 435.3L785.2 441.9M800.2 417.5L801.5 424M816.1 400.1L817.4 406.5M831.7 382.9L833 389.4M847 366.2L848.2 372.6M862 349.8L863.2 356.1M648 584.1L644.8 596.4M717.3 508.3L714.3 519.9M781.1 438.4L778.3 449.5M840.1 373.8L837.5 384.4" class="m"/>
<path d="M600 636.7L601.8 643.7M876.7 333.7L877.9 340" class="b"/>
<path d="M605.2 656.1L606.9 661.6L646.7 617.3L645.1 611.9Z" fill="#91e18f" stroke="#91e18f"/>
<path d="M645.1 611.9L646.7 617.3L684.7 574.9L683.2 569.6Z" fill="#a3e47f" stroke="#a3e47f"/>
<path d="M683.2 569.6L684.7 574.9L721.1 534.4L719.6 529.2Z" fill="#b5e773" stroke="#b5e773"/>
<path d="M719.6 529.2L721.1 534.4L755.9 495.7L754.5 490.5Z" fill="#c9ec6b" stroke="#c9ec6b"/>
<path d="M754.5 490.5L755.9 495.7L789.2 458.5L787.9 453.5Z" fill="#dbee63" stroke="#dbee63"/>
<path d="M787.9 453.5L789.2 458.5L821.2 422.9L819.9 417.9Z" fill="#e9ec5e" stroke="#e9ec5e"/>
<path d="M819.9 417.9L821.2 422.9L851.9 388.8L850.6 383.8Z" fill="#f7ea59" stroke="#f7ea59"/>
<path d="M850.6 383.8L851.9 388.8L881.4 355.9L880.2 351.1Z" fill="#f9de52" stroke="#f9de52"/>
<path d="M622.1 621.4L623.7 627.8M641.9 599.6L643.5 606M661.2 578.3L662.8 584.7M680.1 557.5L681.7 563.8M698.6 537.2L700.1 543.4M716.7 517.3L718.2 523.5M734.4 497.8L735.8 504M751.7 478.8L753.1 484.9M768.6 460.1L770 466.2M785.2 441.9L786.5 447.9M801.5 424L802.8 430M817.4 406.5L818.6 412.5M833 389.4L834.2 395.3M848.2 372.6L849.4 378.4M863.2 356.1L864.4 361.9M644.8 596.4L641.6 608.1M714.3 519.9L711.3 531M778.3 449.5L775.6 460.1M837.5 384.4L834.9 394.5" class="m"/>
<path d="M601.8 643.7L603.5 650.2M877.9 340L879 345.8" class="b"/>
<path d="M606.9 661.6L608.6 666.6L648.3 622.2L646.7 617.3Z" fill="#95e48f" stroke="#95e48f"/>
<path d="M646.7 617.3L648.3 622.2L686.3 579.8L684.7 574.9Z" fill="#a7e77e" stroke="#a7e77e"/>
<path d="M684.7 574.9L686.3 579.8L722.6 539.2L721.1 534.4Z" fill="#baeb74" stroke="#baeb74"/>
<path d="M721.1 534.4L722.6 539.2L757.3 500.4L755.9 495.7Z" fill="#ceef6b" stroke="#ceef6b"/>
<path d="M755.9 495.7L757.3 500.4L790.6 463.2L789.2 458.5Z" fill="#e0f164" stroke="#e0f164"/>
<path d="M789.2 458.5L790.6 463.2L822.5 427.5L821.2 422.9Z" fill="#eeef5e" stroke="#eeef5e"/>
<path d="M821.2 422.9L822.5 427.5L853.1 393.3L851.9 388.8Z" fill="#faec59" stroke="#faec59"/>
<path d="M851.9 388.8L853.1 393.3L882.6 360.4L881.4 355.9Z" fill="#fce052" stroke="#fce052"/>
<path d="M623.7 627.8L625.4 633.7M643.5 606L645.1 611.9M662.8 584.7L664.4 590.5M681.7 563.8L683.2 569.6M700.1 543.4L701.6 549.2M718.2 523.5L719.6 529.2M735.8 504L737.2 509.7M753.1 484.9L754.5 490.5M770 466.2L771.4 471.8M786.5 447.9L787.9 453.5M802.8 430L804.1 435.5M818.6 412.5L819.9 417.9M834.2 395.3L835.4 400.7M849.4 378.4L850.6 383.8M864.4 361.9L865.6 367.3M641.6 608.1L638.4 619.3M711.3 531L708.3 541.7M775.6 460.1L772.8 470.2M834.9 394.5L832.4 404.1" class="m"/>
<path d="M603.5 650.2L605.2 656.1M879 345.8L880.2 351.1" class="b"/>
<path d="M608.6 666.6L610.2 671.2L649.9 626.7L648.3 622.2Z" fill="#99e78f" stroke="#99e78f"/>
<path d="M648.3 622.2L649.9 626.7L687.8 584.2L686.3 579.8Z" fill="#abea7e" stroke="#abea7e"/>
<path d="M686.3 579.8L687.8 584.2L724 543.6L722.6 539.2Z" fill="#bfee74" stroke="#bfee74"/>
<path d="M722.6 539.2L724 543.6L758.7 504.7L757.3 500.4Z" fill="#d3f36b" stroke="#d3f36b"/>
<path d="M757.3 500.4L758.7 504.7L791.9 467.4L790.6 463.2Z" fill="#e4f464" stroke="#e4f464"/>
<path d="M790.6 463.2L791.9 467.4L823.8 431.7L822.5 427.5Z" fill="#f2f25f" stroke="#f2f25f"/>
<path d="M822.5 427.5L823.8 431.7L854.4 397.4L853.1 393.3Z" fill="#fded59" stroke="#fded59"/>
<path d="M853.1 393.3L854.4 397.4L883.8 364.4L882.6 360.4Z" fill="#ffe152" stroke="#ffe152"/>
<path d="M625.4 633.7L627 639.2M645.1 611.9L646.7 617.3M664.4 590.5L665.9 595.8M683.2 569.6L684.7 574.9M701.6 549.2L703.1 554.4M719.6 529.2L721.1 534.4M737.2 509.7L738.7 514.8M754.5 490.5L755.9 495.7M771.4 471.8L772.7 476.9M787.9 453.5L789.2 458.5M804.1 435.5L805.4 440.5M819.9 417.9L821.2 422.9M835.4 400.7L836.7 405.7M850.6 383.8L851.9 388.8M865.6 367.3L866.8 372.2M638.4 619.3L635.2 630.1M708.3 541.7L705.4 551.9M772.8 470.2L770 479.9M832.4 404.1L829.8 413.4" class="m"/>
<path d="M605.2 656.1L606.9 661.6M880.2 351.1L881.4 355.9" class="b"/>
<path d="M610.2 671.2L611.9 675.4L651.5 630.8L649.9 626.7Z" fill="#9deb8f" stroke="#9deb8f"/>
<path d="M649.9 626.7L651.5 630.8L689.3 588.3L687.8 584.2Z" fill="#afed7d" stroke="#afed7d"/>
<path d="M687.8 584.2L689.3 588.3L725.5 547.6L724 543.6Z" fill="#c4f274" stroke="#c4f274"/>
<path d="M724 543.6L725.5 547.6L760.1 508.6L758.7 504.7Z" fill="#d8f66b" stroke="#d8f66b"/>
<path d="M758.7 504.7L760.1 508.6L793.3 471.3L791.9 467.4Z" fill="#e9f665" stroke="#e9f665"/>
<path d="M791.9 467.4L793.3 471.3L825.1 435.5L823.8 431.7Z" fill="#f7f55f" stroke="#f7f55f"/>
<path d="M823.8 431.7L825.1 435.5L855.7 401.1L854.4 397.4Z" fill="#ffef59" stroke="#ffef59"/>
<path d="M854.4 397.4L855.7 401.1L885 368.1L883.8 364.4Z" fill="#ffe252" stroke="#ffe252"/>
<path d="M627 639.2L628.7 644.1M646.7 617.3L648.3 622.2M665.9 595.8L667.5 600.7M684.7 574.9L686.3 579.8M703.1 554.4L704.6 559.3M721.1 534.4L722.6 539.2M738.7 514.8L740.1 519.6M755.9 495.7L757.3 500.4M772.7 476.9L774.1 481.6M789.2 458.5L790.6 463.2M805.4 440.5L806.7 445.2M821.2 422.9L822.5 427.5M836.7 405.7L838 410.2M851.9 388.8L853.1 393.3M866.8 372.2L868 376.7M635.2 630.1L631.9 640.5M705.4 551.9L702.4 561.8M770 479.9L767.3 489.2M829.8 413.4L827.2 422.2" class="m"/>
<path d="M606.9 661.6L608.6 666.6M881.4 355.9L882.6 360.4" class="b"/>
<path d="M611.9 675.4L613.5 679.2L653 634.6L651.5 630.8Z" fill="#a2ee8e" stroke="#a2ee8e"/>
<path d="M651.5 630.8L653 634.6L690.8 592L689.3 588.3Z" fill="#b4f17e" stroke="#b4f17e"/>
<path d="M689.3 588.3L690.8 592L726.9 551.2L725.5 547.6Z" fill="#c9f575" stroke="#c9f575"/>
<path d="M725.5 547.6L726.9 551.2L761.5 512.2L760.1 508.6Z" fill="#defa6b" stroke="#defa6b"/>
<path d="M760.1 508.6L761.5 512.2L794.7 474.8L793.3 471.3Z" fill="#edf965" stroke="#edf965"/>
<path d="M793.3 471.3L794.7 474.8L826.4 438.9L825.1 435.5Z" fill="#fcf760" stroke="#fcf760"/>
<path d="M825.1 435.5L826.4 438.9L857 404.5L855.7 401.1Z" fill="#fff05a" stroke="#fff05a"/>
<path d="M855.7 401.1L857 404.5L886.3 371.5L885 368.1Z" fill="#ffe352" stroke="#ffe352"/>
<path d="M628.7 644.1L630.3 648.7M648.3 622.2L649.9 626.7M667.5 600.7L669 605.2M686.3 579.8L687.8 584.2M704.6 559.3L706.1 563.7M722.6 539.2L724 543.6M740.1 519.6L741.5 523.9M757.3 500.4L758.7 504.7M774.1 481.6L775.5 485.8M790.6 463.2L791.9 467.4M806.7 445.2L808 449.4M822.5 427.5L823.8 431.7M838 410.2L839.3 414.3M853.1 393.3L854.4 397.4M868 376.7L869.2 380.7M631.9 640.5L628.6 650.6M702.4 561.8L699.3 571.2M767.3 489.2L764.5 498.2M827.2 422.2L824.7 430.7M882.6 360.7L880.5 368.1" class="m"/>
<path d="M608.6 666.6L610.2 671.2M882.6 360.4L883.8 364.4" class="b"/>
<path d="M613.5 679.2L615.1 682.7L654.6 638.1L653 634.6Z" fill="#a6f18e" stroke="#a6f18e"/>
<path d="M653 634.6L654.6 638.1L692.3 595.4L690.8 592Z" fill="#b9f47e" stroke="#b9f47e"/>
<path d="M690.8 592L692.3 595.4L728.4 554.5L726.9 551.2Z" fill="#cef975" stroke="#cef975"/>
<path d="M726.9 551.2L728.4 554.5L762.9 515.5L761.5 512.2Z" fill="#e3fd6c" stroke="#e3fd6c"/>
<path d="M761.5 512.2L762.9 515.5L796 478L794.7 474.8Z" fill="#f2fc66" stroke="#f2fc66"/>
<path d="M794.7 474.8L796 478L827.8 442.1L826.4 438.9Z" fill="#fffa60" stroke="#fffa60"/>
<path d="M826.4 438.9L827.8 442.1L858.3 407.6L857 404.5Z" fill="#fff15a" stroke="#fff15a"/>
<path d="M857 404.5L858.3 407.6L887.5 374.5L886.3 371.5Z" fill="#ffe452" stroke="#ffe452"/>
<path d="M630.3 648.7L631.9 652.8M649.9 626.7L651.5 630.8M669 605.2L670.6 609.3M687.8 584.2L689.3 588.3M706.1 563.7L707.6 567.7M724 543.6L725.5 547.6M741.5 523.9L743 527.9M758.7 504.7L760.1 508.6M775.5 485.8L776.9 489.7M791.9 467.4L793.3 471.3M808 449.4L809.4 453.2M823.8 431.7L825.1 435.5M839.3 414.3L840.5 418.1M854.4 397.4L855.7 401.1M869.2 380.7L870.5 384.4M628.6 650.6L625.3 660.3M699.3 571.2L696.3 580.4M764.5 498.2L761.7 506.8M824.7 430.7L822.1 438.8M880.5 368.1L878.1 375.8" class="m"/>
<path d="M610.2 671.2L611.9 675.4M883.8 364.4L885 368.1" class="b"/>
<path d="M615.1 682.7L616.7 686L656.1 641.2L654.6 638.1Z" fill="#aaf48d" stroke="#aaf48d"/>
<path d="M654.6 638.1L656.1 641.2L693.8 598.5L692.3 595.4Z" fill="#bdf77e" stroke="#bdf77e"/>
<path d="M692.3 595.4L693.8 598.5L729.8 557.6L728.4 554.5Z" fill="#d3fc75" stroke="#d3fc75"/>
<path d="M728.4 554.5L729.8 557.6L764.4 518.5L762.9 515.5Z" fill="#e8ff6c" stroke="#e8ff6c"/>
<path d="M762.9 515.5L764.4 518.5L797.4 481L796 478Z" fill="#f7ff66" stroke="#f7ff66"/>
<path d="M796 478L797.4 481L829.1 445L827.8 442.1Z" fill="#fffd61" stroke="#fffd61"/>
<path d="M827.8 442.1L829.1 445L859.6 410.5L858.3 407.6Z" fill="#fff25a" stroke="#fff25a"/>
<path d="M858.3 407.6L859.6 410.5L888.8 377.3L887.5 374.5Z" fill="#ffe552" stroke="#ffe552"/>
<path d="M631.9 652.8L633.5 656.6M651.5 630.8L653 634.6M670.6 609.3L672.1 613M689.3 588.3L690.8 592M707.6 567.7L709.1 571.4M725.5 547.6L726.9 551.2M743 527.9L744.4 531.5M760.1 508.6L761.5 512.2M776.9 489.7L778.3 493.3M793.3 471.3L794.7 474.8M809.4 453.2L810.7 456.7M825.1 435.5L826.4 438.9M840.5 418.1L841.9 421.6M855.7 401.1L857 404.5M870.5 384.4L871.8 387.8M625.3 660.3L621.9 669.7M696.3 580.4L693.3 589.2M761.7 506.8L758.9 515.1M822.1 438.8L819.6 446.7M878.1 375.8L875.8 383.3" class="m"/>
<path d="M611.9 675.4L613.5 679.2M885 368.1L886.3 371.5" class="b"/>
<path d="M616.7 686L618.2 689L657.6 644.2L656.1 641.2Z" fill="#aef78c" stroke="#aef78c"/>
<path d="M656.1 641.2L657.6 644.2L695.3 601.3L693.8 598.5Z" fill="#c2fa7e" stroke="#c2fa7e"/>
<path d="M693.8 598.5L695.3 601.3L731.3 560.4L729.8 557.6Z" fill="#d7ff75" stroke="#d7ff75"/>
<path d="M729.8 557.6L731.3 560.4L765.8 521.2L764.4 518.5Z" fill="#ecff6c" stroke="#ecff6c"/>
<path d="M764.4 518.5L765.8 521.2L798.8 483.7L797.4 481Z" fill="#fbff67" stroke="#fbff67"/>
<path d="M797.4 481L798.8 483.7L830.5 447.7L829.1 445Z" fill="#ffff61" stroke="#ffff61"/>
<path d="M829.1 445L830.5 447.7L860.9 413.1L859.6 410.5Z" fill="#fff35a" stroke="#fff35a"/>
<path d="M859.6 410.5L860.9 413.1L890.1 379.9L888.8 377.3Z" fill="#ffe652" stroke="#ffe652"/>
<path d="M633.5 656.6L635 660.1M653 634.6L654.6 638.1M672.1 613L673.6 616.5M690.8 592L692.3 595.4M709.1 571.4L710.5 574.7M726.9 551.2L728.4 554.5M744.4 531.5L745.8 534.8M761.5 512.2L762.9 515.5M778.3 493.3L779.7 496.5M794.7 474.8L796 478M810.7 456.7L812.1 459.9M826.4 438.9L827.8 442.1M841.9 421.6L843.2 424.7M857 404.5L858.3 407.6M871.8 387.8L873 390.9M621.9 669.7L618.5 678.8M693.3 589.2L690.2 597.8M758.9 515.1L756.1 523.1M819.6 446.7L817 454.3M875.8 383.3L873.5 390.4" class="m"/>
<path d="M613.5 679.2L615.1 682.7M886.3 371.5L887.5 374.5" class="b"/>
<path d="M618.2 689L619.8 691.7L659.2 646.8L657.6 644.2Z" fill="#b2f98b" stroke="#b2f98b"/>
<path d="M657.6 644.2L659.2 646.8L696.8 604L695.3 601.3Z" fill="#c6fd7e" stroke="#c6fd7e"/>
<path d="M695.3 601.3L696.8 604L732.8 563L731.3 560.4Z" fill="#dcff75" stroke="#dcff75"/>
<path d="M731.3 560.4L732.8 563L767.2 523.8L765.8 521.2Z" fill="#f0ff6c" stroke="#f0ff6c"/>
<path d="M765.8 521.2L767.2 523.8L800.2 486.2L798.8 483.7Z" fill="#ffff67" stroke="#ffff67"/>
<path d="M798.8 483.7L800.2 486.2L831.8 450.1L830.5 447.7Z" fill="#ffff61" stroke="#ffff61"/>
<path d="M830.5 447.7L831.8 450.1L862.2 415.5L860.9 413.1Z" fill="#fff359" stroke="#fff359"/>
<path d="M860.9 413.1L862.2 415.5L891.4 382.2L890.1 379.9Z" fill="#ffe652" stroke="#ffe652"/>
<path d="M635 660.1L636.6 663.3M654.6 638.1L656.1 641.2M673.6 616.5L675.2 619.6M692.3 595.4L693.8 598.5M710.5 574.7L712 577.8M728.4 554.5L729.8 557.6M745.8 534.8L747.3 537.8M762.9 515.5L764.4 518.5M779.7 496.5L781.1 499.5M796 478L797.4 481M812.1 459.9L813.4 462.8M827.8 442.1L829.1 445M843.2 424.7L844.5 427.6M858.3 407.6L859.6 410.5M873 390.9L874.3 393.7M618.5 678.8L616.2 685M690.2 597.8L687.1 606.1M756.1 523.1L753.3 531M817 454.3L814.5 461.6M873.5 390.4L871.1 397.4" class="m"/>
<path d="M615.1 682.7L616.7 686M887.5 374.5L888.8 377.3" class="b"/>
<path d="M619.8 691.7L621.4 694.2L660.7 649.3L659.2 646.8Z" fill="#b4fa89" stroke="#b4fa89"/>
<path d="M659.2 646.8L660.7 649.3L698.3 606.4L696.8 604Z" fill="#c9fe7d" stroke="#c9fe7d"/>
<path d="M696.8 604L698.3 606.4L734.2 565.4L732.8 563Z" fill="#dfff74" stroke="#dfff74"/>
<path d="M732.8 563L734.2 565.4L768.6 526.1L767.2 523.8Z" fill="#f2ff6c" stroke="#f2ff6c"/>
<path d="M767.2 523.8L768.6 526.1L801.6 488.4L800.2 486.2Z" fill="#ffff66" stroke="#ffff66"/>
<path d="M800.2 486.2L801.6 488.4L833.2 452.3L831.8 450.1Z" fill="#ffff60" stroke="#ffff60"/>
<path d="M831.8 450.1L833.2 452.3L863.6 417.7L862.2 415.5Z" fill="#fff259" stroke="#fff259"/>
<path d="M862.2 415.5L863.6 417.7L892.7 384.4L891.4 382.2Z" fill="#ffe551" stroke="#ffe551"/>
<path d="M636.6 663.3L638.2 666.3M656.1 641.2L657.6 644.2M675.2 619.6L676.7 622.5M693.8 598.5L695.3 601.3M712 577.8L713.5 580.7M729.8 557.6L731.3 560.4M747.3 537.8L748.7 540.6M764.4 518.5L765.8 521.2M781.1 499.5L782.5 502.3M797.4 481L798.8 483.7M813.4 462.8L814.8 465.5M829.1 445L830.5 447.7M844.5 427.6L845.8 430.2M859.6 410.5L860.9 413.1M874.3 393.7L875.6 396.3M687.1 606.1L684 614.2M753.3 531L750.5 538.6M814.5 461.6L811.9 468.7M871.1 397.4L868.8 404.1" class="m"/>
<path d="M616.7 686L618.2 689M888.8 377.3L890.1 379.9" class="b"/>
<path d="M621.4 694.2L622.9 696.6L662.2 651.6L660.7 649.3Z" fill="#b7fa87" stroke="#b7fa87"/>
<path d="M660.7 649.3L662.2 651.6L699.8 608.7L698.3 606.4Z" fill="#ccfe7c" stroke="#ccfe7c"/>
<path d="M698.3 606.4L699.8 608.7L735.7 567.6L734.2 565.4Z" fill="#e2ff72" stroke="#e2ff72"/>
<path d="M734.2 565.4L735.7 567.6L770.1 528.2L768.6 526.1Z" fill="#f4ff6b" stroke="#f4ff6b"/>
<path d="M768.6 526.1L770.1 528.2L803 490.5L801.6 488.4Z" fill="#ffff65" stroke="#ffff65"/>
<path d="M801.6 488.4L803 490.5L834.6 454.4L833.2 452.3Z" fill="#fffe5f" stroke="#fffe5f"/>
<path d="M833.2 452.3L834.6 454.4L864.9 419.7L863.6 417.7Z" fill="#fff058" stroke="#fff058"/>
<path d="M863.6 417.7L864.9 419.7L894 386.4L892.7 384.4Z" fill="#ffe350" stroke="#ffe350"/>
<path d="M638.2 666.3L639.7 669M657.6 644.2L659.2 646.8M676.7 622.5L678.2 625.2M695.3 601.3L696.8 604M713.5 580.7L715 583.3M731.3 560.4L732.8 563M748.7 540.6L750.2 543.2M765.8 521.2L767.2 523.8M782.5 502.3L783.9 504.8M798.8 483.7L800.2 486.2M814.8 465.5L816.2 467.9M830.5 447.7L831.8 450.1M845.8 430.2L847.2 432.6M860.9 413.1L862.2 415.5M875.6 396.3L877 398.7M684 614.2L680.9 622.1M750.5 538.6L747.7 546M811.9 468.7L809.4 475.7M868.8 404.1L866.5 410.7" class="m"/>
<path d="M618.2 689L619.8 691.7M890.1 379.9L891.4 382.2" class="b"/>
<path d="M622.9 696.6L624.5 698.8L663.8 653.8L662.2 651.6Z" fill="#b9fa85" stroke="#b9fa85"/>
<path d="M662.2 651.6L663.8 653.8L701.3 610.8L699.8 608.7Z" fill="#ceff7b" stroke="#ceff7b"/>
<path d="M699.8 608.7L701.3 610.8L737.1 569.6L735.7 567.6Z" fill="#e4ff71" stroke="#e4ff71"/>
<path d="M735.7 567.6L737.1 569.6L771.5 530.2L770.1 528.2Z" fill="#f6ff6a" stroke="#f6ff6a"/>
<path d="M770.1 528.2L771.5 530.2L804.4 492.5L803 490.5Z" fill="#ffff65" stroke="#ffff65"/>
<path d="M803 490.5L804.4 492.5L836 456.3L834.6 454.4Z" fill="#fffc5e" stroke="#fffc5e"/>
<path d="M834.6 454.4L836 456.3L866.3 421.6L864.9 419.7Z" fill="#ffef57" stroke="#ffef57"/>
<path d="M864.9 419.7L866.3 421.6L895.4 388.2L894 386.4Z" fill="#ffe14f" stroke="#ffe14f"/>
<path d="M639.7 669L641.3 671.5M659.2 646.8L660.7 649.3M678.2 625.2L679.7 627.6M696.8 604L698.3 606.4M715 583.3L716.5 585.7M732.8 563L734.2 565.4M750.2 543.2L751.6 545.5M767.2 523.8L768.6 526.1M783.9 504.8L785.3 507.1M800.2 486.2L801.6 488.4M816.2 467.9L817.6 470.2M831.8 450.1L833.2 452.3M847.2 432.6L848.5 434.8M862.2 415.5L863.6 417.7M877 398.7L878.3 400.9M680.9 622.1L677.7 629.9M747.7 546L744.9 553.2M809.4 475.7L806.8 482.5M866.5 410.7L864.1 417" class="m"/>
<path d="M619.8 691.7L621.4 694.2M891.4 382.2L892.7 384.4" class="b"/>
<path d="M624.5 698.8L626 700.9L665.3 655.8L663.8 653.8Z" fill="#bbfb83" stroke="#bbfb83"/>
<path d="M663.8 653.8L665.3 655.8L702.8 612.7L701.3 610.8Z" fill="#d1ff7a" stroke="#d1ff7a"/>
<path d="M701.3 610.8L702.8 612.7L738.6 571.5L737.1 569.6Z" fill="#e7ff70" stroke="#e7ff70"/>
<path d="M737.1 569.6L738.6 571.5L772.9 532.1L771.5 530.2Z" fill="#f7ff6a" stroke="#f7ff6a"/>
<path d="M771.5 530.2L772.9 532.1L805.8 494.3L804.4 492.5Z" fill="#ffff64" stroke="#ffff64"/>
<path d="M804.4 492.5L805.8 494.3L837.3 458.1L836 456.3Z" fill="#fffa5d" stroke="#fffa5d"/>
<path d="M836 456.3L837.3 458.1L867.6 423.3L866.3 421.6Z" fill="#ffed56" stroke="#ffed56"/>
<path d="M866.3 421.6L867.6 423.3L896.7 389.9L895.4 388.2Z" fill="#ffde4e" stroke="#ffde4e"/>
<path d="M641.3 671.5L642.8 673.9M660.7 649.3L662.2 651.6M679.7 627.6L681.2 629.9M698.3 606.4L699.8 608.7M716.5 585.7L717.9 587.9M734.2 565.4L735.7 567.6M751.6 545.5L753.1 547.7M768.6 526.1L770.1 528.2M785.3 507.1L786.7 509.2M801.6 488.4L803 490.5M817.6 470.2L819 472.3M833.2 452.3L834.6 454.4M848.5 434.8L849.9 436.9M863.6 417.7L864.9 419.7M878.3 400.9L879.6 402.9M677.7 629.9L674.6 637.5M744.9 553.2L742 560.3M806.8 482.5L804.2 489.1M864.1 417L861.8 423.3" class="m"/>
<path d="M621.4 694.2L622.9 696.6M892.7 384.4L894 386.4" class="b"/>
<path d="M626 700.9L627.6 702.8L666.8 657.6L665.3 655.8Z" fill="#befc82" stroke="#befc82"/>
<path d="M665.3 655.8L666.8 657.6L704.2 614.5L702.8 612.7Z" fill="#d4ff78" stroke="#d4ff78"/>
<path d="M702.8 612.7L704.2 614.5L740.1 573.3L738.6 571.5Z" fill="#eaff6f" stroke="#eaff6f"/>
<path d="M738.6 571.5L740.1 573.3L774.4 533.8L772.9 532.1Z" fill="#f9ff69" stroke="#f9ff69"/>
<path d="M772.9 532.1L774.4 533.8L807.2 496L805.8 494.3Z" fill="#ffff63" stroke="#ffff63"/>
<path d="M805.8 494.3L807.2 496L838.7 459.7L837.3 458.1Z" fill="#fff95c" stroke="#fff95c"/>
<path d="M837.3 458.1L838.7 459.7L869 424.9L867.6 423.3Z" fill="#ffeb55" stroke="#ffeb55"/>
<path d="M867.6 423.3L869 424.9L898 391.5L896.7 389.9Z" fill="#ffdc4e" stroke="#ffdc4e"/>
<path d="M642.8 673.9L644.3 676M662.2 651.6L663.8 653.8M681.2 629.9L682.7 632M699.8 608.7L701.3 610.8M717.9 587.9L719.4 590M735.7 567.6L737.1 569.6M753.1 547.7L754.5 549.7M770.1 528.2L771.5 530.2M786.7 509.2L788.1 511.2M803 490.5L804.4 492.5M819 472.3L820.3 474.2M834.6 454.4L836 456.3M849.9 436.9L851.3 438.8M864.9 419.7L866.3 421.6M879.6 402.9L881 404.7M674.6 637.5L671.4 645M742 560.3L739.1 567.3M804.2 489.1L801.6 495.7M861.8 423.3L859.4 429.4" class="m"/>
<path d="M622.9 696.6L624.5 698.8M894 386.4L895.4 388.2" class="b"/>
<path d="M627.6 702.8L629.1 704.6L668.3 659.4L666.8 657.6Z" fill="#c1fc81" stroke="#c1fc81"/>
<path d="M666.8 657.6L668.3 659.4L705.7 616.2L704.2 614.5Z" fill="#d7ff77" stroke="#d7ff77"/>
<path d="M704.2 614.5L705.7 616.2L741.5 575L740.1 573.3Z" fill="#ecff6e" stroke="#ecff6e"/>
<path d="M740.1 573.3L741.5 575L775.8 535.4L774.4 533.8Z" fill="#fbff68" stroke="#fbff68"/>
<path d="M774.4 533.8L775.8 535.4L808.6 497.6L807.2 496Z" fill="#ffff63" stroke="#ffff63"/>
<path d="M807.2 496L808.6 497.6L840.1 461.3L838.7 459.7Z" fill="#fff75c" stroke="#fff75c"/>
<path d="M838.7 459.7L840.1 461.3L870.3 426.4L869 424.9Z" fill="#ffea54" stroke="#ffea54"/>
<path d="M869 424.9L870.3 426.4L899.4 392.9L898 391.5Z" fill="#ffd94d" stroke="#ffd94d"/>
<path d="M644.3 676L645.9 678.1M663.8 653.8L665.3 655.8M682.7 632L684.2 634M701.3 610.8L702.8 612.7M719.4 590L720.9 591.9M737.1 569.6L738.6 571.5M754.5 549.7L756 551.6M771.5 530.2L772.9 532.1M788.1 511.2L789.5 513M804.4 492.5L805.8 494.3M820.3 474.2L821.7 476M836 456.3L837.3 458.1M851.3 438.8L852.6 440.5M866.3 421.6L867.6 423.3M881 404.7L882.3 406.4M671.4 645L668.2 652.4M739.1 567.3L736.3 574.2M801.6 495.7L799 502.1M859.4 429.4L857.1 435.4" class="m"/>
<path d="M624.5 698.8L626 700.9M895.4 388.2L896.7 389.9" class="b"/>
<path d="M629.1 704.6L630.7 706.3L669.8 661.1L668.3 659.4Z" fill="#c3fd80" stroke="#c3fd80"/>
<path d="M668.3 659.4L669.8 661.1L707.2 617.9L705.7 616.2Z" fill="#d9ff76" stroke="#d9ff76"/>
<path d="M705.7 616.2L707.2 617.9L743 576.5L741.5 575Z" fill="#eeff6d" stroke="#eeff6d"/>
<path d="M741.5 575L743 576.5L777.2 537L775.8 535.4Z" fill="#fdff68" stroke="#fdff68"/>
<path d="M775.8 535.4L777.2 537L810.1 499.1L808.6 497.6Z" fill="#ffff62" stroke="#ffff62"/>
<path d="M808.6 497.6L810.1 499.1L841.5 462.7L840.1 461.3Z" fill="#fff55b" stroke="#fff55b"/>
<path d="M840.1 461.3L841.5 462.7L871.7 427.8L870.3 426.4Z" fill="#ffe853" stroke="#ffe853"/>
<path d="M870.3 426.4L871.7 427.8L900.7 394.3L899.4 392.9Z" fill="#ffd74c" stroke="#ffd74c"/>
<path d="M645.9 678.1L647.4 680M665.3 655.8L666.8 657.6M684.2 634L685.7 635.8M702.8 612.7L704.2 614.5M720.9 591.9L722.4 593.7M738.6 571.5L740.1 573.3M756 551.6L757.4 553.3M772.9 532.1L774.4 533.8M789.5 513L791 514.7M805.8 494.3L807.2 496M821.7 476L823.1 477.7M837.3 458.1L838.7 459.7M852.6 440.5L854 442.1M867.6 423.3L869 424.9M882.3 406.4L883.7 408M668.2 652.4L665 659.7M736.3 574.2L733.4 581M799 502.1L796.4 508.4M857.1 435.4L854.7 441.3" class="m"/>
<path d="M626 700.9L627.6 702.8M896.7 389.9L898 391.5" class="b"/>
<path d="M630.7 706.3L632.2 707.9L671.3 662.6L669.8 661.1Z" fill="#c6fd7e" stroke="#c6fd7e"/>
<path d="M669.8 661.1L671.3 662.6L708.7 619.4L707.2 617.9Z" fill="#dcff75" stroke="#dcff75"/>
<path d="M707.2 617.9L708.7 619.4L744.5 578L743 576.5Z" fill="#f0ff6c" stroke="#f0ff6c"/>
<path d="M743 576.5L744.5 578L778.7 538.4L777.2 537Z" fill="#ffff67" stroke="#ffff67"/>
<path d="M777.2 537L778.7 538.4L811.5 500.5L810.1 499.1Z" fill="#ffff61" stroke="#ffff61"/>
<path d="M810.1 499.1L811.5 500.5L842.9 464.1L841.5 462.7Z" fill="#fff45a" stroke="#fff45a"/>
<path d="M841.5 462.7L842.9 464.1L873.1 429.2L871.7 427.8Z" fill="#ffe652" stroke="#ffe652"/>
<path d="M871.7 427.8L873.1 429.2L902.1 395.6L900.7 394.3Z" fill="#ffd44b" stroke="#ffd44b"/>
<path d="M647.4 680L648.9 681.7M666.8 657.6L668.3 659.4M685.7 635.8L687.2 637.6M704.2 614.5L705.7 616.2M722.4 593.7L723.8 595.4M740.1 573.3L741.5 575M757.4 553.3L758.9 555M774.4 533.8L775.8 535.4M791 514.7L792.4 516.3M807.2 496L808.6 497.6M823.1 477.7L824.5 479.2M838.7 459.7L840.1 461.3M854 442.1L855.4 443.7M869 424.9L870.3 426.4M883.7 408L885 409.5M665 659.7L661.7 667M733.4 581L730.5 587.7M796.4 508.4L793.8 514.7M854.7 441.3L852.4 447.2" class="m"/>
<path d="M627.6 702.8L629.1 704.6M898 391.5L899.4 392.9" class="b"/>
<path d="M632.2 707.9L633.7 709.5L672.9 664.1L671.3 662.6Z" fill="#c8fc7c" stroke="#c8fc7c"/>
<path d="M671.3 662.6L672.9 664.1L710.2 620.8L708.7 619.4Z" fill="#ddff73" stroke="#ddff73"/>
<path d="M708.7 619.4L710.2 620.8L745.9 579.4L744.5 578Z" fill="#f0ff6b" stroke="#f0ff6b"/>
<path d="M744.5 578L745.9 579.4L780.1 539.8L778.7 538.4Z" fill="#ffff66" stroke="#ffff66"/>
<path d="M778.7 538.4L780.1 539.8L812.9 501.8L811.5 500.5Z" fill="#fffe60" stroke="#fffe60"/>
<path d="M811.5 500.5L812.9 501.8L844.3 465.4L842.9 464.1Z" fill="#fff158" stroke="#fff158"/>
<path d="M842.9 464.1L844.3 465.4L874.5 430.4L873.1 429.2Z" fill="#ffe451" stroke="#ffe451"/>
<path d="M873.1 429.2L874.5 430.4L903.5 396.8L902.1 395.6Z" fill="#ffd04a" stroke="#ffd04a"/>
<path d="M648.9 681.7L650.5 683.4M668.3 659.4L669.8 661.1M687.2 637.6L688.7 639.2M705.7 616.2L707.2 617.9M723.8 595.4L725.3 597M741.5 575L743 576.5M758.9 555L760.3 556.5M775.8 535.4L777.2 537M792.4 516.3L793.8 517.8M808.6 497.6L810.1 499.1M824.5 479.2L826 480.7M840.1 461.3L841.5 462.7M855.4 443.7L856.8 445.1M870.3 426.4L871.7 427.8M885 409.5L886.4 410.9M661.7 667L658.5 674.2M730.5 587.7L727.5 594.4M793.8 514.7L791.2 520.9M852.4 447.2L850 452.9" class="m"/>
<path d="M629.1 704.6L630.7 706.3M899.4 392.9L900.7 394.3" class="b"/>
<path d="M633.7 709.5L635.3 710.9L674.4 665.6L672.9 664.1Z" fill="#c9fc7b" stroke="#c9fc7b"/>
<path d="M672.9 664.1L674.4 665.6L711.7 622.2L710.2 620.8Z" fill="#dfff71" stroke="#dfff71"/>
<path d="M710.2 620.8L711.7 622.2L747.4 580.8L745.9 579.4Z" fill="#f1ff6a" stroke="#f1ff6a"/>
<path d="M745.9 579.4L747.4 580.8L781.6 541.1L780.1 539.8Z" fill="#ffff64" stroke="#ffff64"/>
<path d="M780.1 539.8L781.6 541.1L814.3 503.1L812.9 501.8Z" fill="#fffb5e" stroke="#fffb5e"/>
<path d="M812.9 501.8L814.3 503.1L845.7 466.6L844.3 465.4Z" fill="#ffee57" stroke="#ffee57"/>
<path d="M844.3 465.4L845.7 466.6L875.9 431.6L874.5 430.4Z" fill="#ffe14f" stroke="#ffe14f"/>
<path d="M874.5 430.4L875.9 431.6L904.8 398L903.5 396.8Z" fill="#ffcc49" stroke="#ffcc49"/>
<path d="M650.5 683.4L652 685M669.8 661.1L671.3 662.6M688.7 639.2L690.2 640.8M707.2 617.9L708.7 619.4M725.3 597L726.8 598.5M743 576.5L744.5 578M760.3 556.5L761.8 558M777.2 537L778.7 538.4M793.8 517.8L795.3 519.2M810.1 499.1L811.5 500.5M826 480.7L827.4 482.1M841.5 462.7L842.9 464.1M856.8 445.1L858.2 446.4M871.7 427.8L873.1 429.2M886.4 410.9L887.7 412.2M658.5 674.2L655.2 681.4M727.5 594.4L724.6 601M791.2 520.9L788.5 527M850 452.9L847.6 458.7" class="m"/>
<path d="M630.7 706.3L632.2 707.9M900.7 394.3L902.1 395.6" class="b"/>
<path d="M635.3 710.9L636.8 712.4L675.9 666.9L674.4 665.6Z" fill="#cbfb79" stroke="#cbfb79"/>
<path d="M674.4 665.6L675.9 666.9L713.2 623.5L711.7 622.2Z" fill="#e0ff6f" stroke="#e0ff6f"/>
<path d="M711.7 622.2L713.2 623.5L748.9 582L747.4 580.8Z" fill="#f1ff69" stroke="#f1ff69"/>
<path d="M747.4 580.8L748.9 582L783 542.3L781.6 541.1Z" fill="#fffe63" stroke="#fffe63"/>
<path d="M781.6 541.1L783 542.3L815.8 504.3L814.3 503.1Z" fill="#fff85d" stroke="#fff85d"/>
<path d="M814.3 503.1L815.8 504.3L847.1 467.8L845.7 466.6Z" fill="#ffeb55" stroke="#ffeb55"/>
<path d="M845.7 466.6L847.1 467.8L877.3 432.7L875.9 431.6Z" fill="#ffdd4e" stroke="#ffdd4e"/>
<path d="M875.9 431.6L877.3 432.7L906.2 399.1L904.8 398Z" fill="#ffc948" stroke="#ffc948"/>
<path d="M652 685L653.5 686.5M671.3 662.6L672.9 664.1M690.2 640.8L691.7 642.2M708.7 619.4L710.2 620.8M726.8 598.5L728.3 599.9M744.5 578L745.9 579.4M761.8 558L763.2 559.4M778.7 538.4L780.1 539.8M795.3 519.2L796.7 520.6M811.5 500.5L812.9 501.8M827.4 482.1L828.8 483.4M842.9 464.1L844.3 465.4M858.2 446.4L859.6 447.7M873.1 429.2L874.5 430.4M887.7 412.2L889.1 413.5M655.2 681.4L651.8 688.5M724.6 601L721.6 607.6M788.5 527L785.9 533.2M847.6 458.7L845.2 464.4M902.2 395.7L900.2 400.6" class="m"/>
<path d="M632.2 707.9L633.7 709.5M902.1 395.6L903.5 396.8" class="b"/>
<path d="M636.8 712.4L638.4 713.7L677.4 668.3L675.9 666.9Z" fill="#ccfa77" stroke="#ccfa77"/>
<path d="M675.9 666.9L677.4 668.3L714.7 624.8L713.2 623.5Z" fill="#e2ff6e" stroke="#e2ff6e"/>
<path d="M713.2 623.5L714.7 624.8L750.4 583.3L748.9 582Z" fill="#f2fe67" stroke="#f2fe67"/>
<path d="M748.9 582L750.4 583.3L784.5 543.5L783 542.3Z" fill="#fffc62" stroke="#fffc62"/>
<path d="M783 542.3L784.5 543.5L817.2 505.4L815.8 504.3Z" fill="#fff55b" stroke="#fff55b"/>
<path d="M815.8 504.3L817.2 505.4L848.6 468.9L847.1 467.8Z" fill="#ffe854" stroke="#ffe854"/>
<path d="M847.1 467.8L848.6 468.9L878.7 433.8L877.3 432.7Z" fill="#ffda4d" stroke="#ffda4d"/>
<path d="M877.3 432.7L878.7 433.8L907.6 400.1L906.2 399.1Z" fill="#ffc546" stroke="#ffc546"/>
<path d="M653.5 686.5L655.1 688M672.9 664.1L674.4 665.6M691.7 642.2L693.2 643.6M710.2 620.8L711.7 622.2M728.3 599.9L729.8 601.3M745.9 579.4L747.4 580.8M763.2 559.4L764.7 560.7M780.1 539.8L781.6 541.1M796.7 520.6L798.1 521.9M812.9 501.8L814.3 503.1M828.8 483.4L830.2 484.6M844.3 465.4L845.7 466.6M859.6 447.7L861 448.9M874.5 430.4L875.9 431.6M889.1 413.5L890.5 414.6M651.8 688.5L648.5 695.6M721.6 607.6L718.6 614.2M785.9 533.2L783.2 539.2M845.2 464.4L842.8 470M900.2 400.6L898 405.9" class="m"/>
<path d="M633.7 709.5L635.3 710.9M903.5 396.8L904.8 398" class="b"/>
<path d="M638.4 713.7L639.9 715L678.9 669.5L677.4 668.3Z" fill="#cef975" stroke="#cef975"/>
<path d="M677.4 668.3L678.9 669.5L716.2 626L714.7 624.8Z" fill="#e3fe6c" stroke="#e3fe6c"/>
<path d="M714.7 624.8L716.2 626L751.8 584.5L750.4 583.3Z" fill="#f2fd66" stroke="#f2fd66"/>
<path d="M750.4 583.3L751.8 584.5L785.9 544.7L784.5 543.5Z" fill="#fffb61" stroke="#fffb61"/>
<path d="M784.5 543.5L785.9 544.7L818.6 506.5L817.2 505.4Z" fill="#fff25a" stroke="#fff25a"/>
<path d="M817.2 505.4L818.6 506.5L850 470L848.6 468.9Z" fill="#ffe553" stroke="#ffe553"/>
<path d="M848.6 468.9L850 470L880.1 434.9L878.7 433.8Z" fill="#ffd64c" stroke="#ffd64c"/>
<path d="M878.7 433.8L880.1 434.9L909 401.1L907.6 400.1Z" fill="#ffc245" stroke="#ffc245"/>
<path d="M655.1 688L656.6 689.4M674.4 665.6L675.9 666.9M693.2 643.6L694.7 645M711.7 622.2L713.2 623.5M729.8 601.3L731.2 602.6M747.4 580.8L748.9 582M764.7 560.7L766.1 562M781.6 541.1L783 542.3M798.1 521.9L799.6 523.1M814.3 503.1L815.8 504.3M830.2 484.6L831.6 485.8M845.7 466.6L847.1 467.8M861 448.9L862.4 450.1M875.9 431.6L877.3 432.7M890.5 414.6L891.9 415.7M648.5 695.6L645.2 702.7M718.6 614.2L715.6 620.7M783.2 539.2L780.5 545.3M842.8 470L840.4 475.6M898 405.9L895.9 411.1" class="m"/>
<path d="M635.3 710.9L636.8 712.4M904.8 398L906.2 399.1" class="b"/>
<path d="M639.9 715L641.4 716.3L680.4 670.8L678.9 669.5Z" fill="#d0f974" stroke="#d0f974"/>
<path d="M678.9 669.5L680.4 670.8L717.7 627.2L716.2 626Z" fill="#e4fd6b" stroke="#e4fd6b"/>
<path d="M716.2 626L717.7 627.2L753.3 585.6L751.8 584.5Z" fill="#f3fb65" stroke="#f3fb65"/>
<path d="M751.8 584.5L753.3 585.6L787.4 545.8L785.9 544.7Z" fill="#fff960" stroke="#fff960"/>
<path d="M785.9 544.7L787.4 545.8L820.1 507.6L818.6 506.5Z" fill="#ffef59" stroke="#ffef59"/>
<path d="M818.6 506.5L820.1 507.6L851.4 471L850 470Z" fill="#ffe351" stroke="#ffe351"/>
<path d="M850 470L851.4 471L881.5 435.9L880.1 434.9Z" fill="#ffd24a" stroke="#ffd24a"/>
<path d="M880.1 434.9L881.5 435.9L910.3 402.1L909 401.1Z" fill="#ffbe44" stroke="#ffbe44"/>
<path d="M656.6 689.4L658.1 690.7M675.9 666.9L677.4 668.3M694.7 645L696.3 646.3M713.2 623.5L714.7 624.8M731.2 602.6L732.7 603.8M748.9 582L750.4 583.3M766.1 562L767.6 563.2M783 542.3L784.5 543.5M799.6 523.1L801 524.3M815.8 504.3L817.2 505.4M831.6 485.8L833 487M847.1 467.8L848.6 468.9M862.4 450.1L863.8 451.2M877.3 432.7L878.7 433.8M891.9 415.7L893.3 416.8M645.2 702.7L641.8 709.7M715.6 620.7L712.6 627.2M780.5 545.3L777.8 551.3M840.4 475.6L838 481.2M895.9 411.1L893.7 416.3" class="m"/>
<path d="M636.8 712.4L638.4 713.7M906.2 399.1L907.6 400.1" class="b"/>
<path d="M641.4 716.3L643 717.6L681.9 671.9L680.4 670.8Z" fill="#d1f872" stroke="#d1f872"/>
<path d="M680.4 670.8L681.9 671.9L719.2 628.4L717.7 627.2Z" fill="#e5fc69" stroke="#e5fc69"/>
<path d="M717.7 627.2L719.2 628.4L754.8 586.7L753.3 585.6Z" fill="#f4fa64" stroke="#f4fa64"/>
<path d="M753.3 585.6L754.8 586.7L788.9 546.8L787.4 545.8Z" fill="#fff85e" stroke="#fff85e"/>
<path d="M787.4 545.8L788.9 546.8L821.5 508.6L820.1 507.6Z" fill="#ffed57" stroke="#ffed57"/>
<path d="M820.1 507.6L821.5 508.6L852.8 472L851.4 471Z" fill="#ffe050" stroke="#ffe050"/>
<path d="M851.4 471L852.8 472L882.9 436.8L881.5 435.9Z" fill="#ffcf49" stroke="#ffcf49"/>
<path d="M881.5 435.9L882.9 436.8L911.7 403.1L910.3 402.1Z" fill="#ffbb43" stroke="#ffbb43"/>
<path d="M658.1 690.7L659.6 692M677.4 668.3L678.9 669.5M696.3 646.3L697.8 647.5M714.7 624.8L716.2 626M732.7 603.8L734.2 605M750.4 583.3L751.8 584.5M767.6 563.2L769.1 564.3M784.5 543.5L785.9 544.7M801 524.3L802.5 525.4M817.2 505.4L818.6 506.5M833 487L834.5 488.1M848.6 468.9L850 470M863.8 451.2L865.2 452.2M878.7 433.8L880.1 434.9M893.3 416.8L894.7 417.8M641.8 709.7L639.4 714.6M712.6 627.2L709.6 633.8M777.8 551.3L775.1 557.4M838 481.2L835.5 486.8M893.7 416.3L891.5 421.5" class="m"/>
<path d="M638.4 713.7L639.9 715M907.6 400.1L909 401.1" class="b"/>
<path d="M643 717.6L644.5 718.8L683.5 673.1L681.9 671.9Z" fill="#d3f870" stroke="#d3f870"/>
<path d="M681.9 671.9L683.5 673.1L720.7 629.5L719.2 628.4Z" fill="#e6fa68" stroke="#e6fa68"/>
<path d="M719.2 628.4L720.7 629.5L756.3 587.8L754.8 586.7Z" fill="#f4f963" stroke="#f4f963"/>
<path d="M754.8 586.7L756.3 587.8L790.3 547.9L788.9 546.8Z" fill="#fff75d" stroke="#fff75d"/>
<path d="M788.9 546.8L790.3 547.9L823 509.6L821.5 508.6Z" fill="#ffea56" stroke="#ffea56"/>
<path d="M821.5 508.6L823 509.6L854.2 473L852.8 472Z" fill="#ffdd4f" stroke="#ffdd4f"/>
<path d="M852.8 472L854.2 473L884.3 437.8L882.9 436.8Z" fill="#ffcc48" stroke="#ffcc48"/>
<path d="M882.9 436.8L884.3 437.8L913.1 404L911.7 403.1Z" fill="#ffb842" stroke="#ffb842"/>
<path d="M659.6 692L661.2 693.3M678.9 669.5L680.4 670.8M697.8 647.5L699.3 648.7M716.2 626L717.7 627.2M734.2 605L735.7 606.2M751.8 584.5L753.3 585.6M769.1 564.3L770.5 565.5M785.9 544.7L787.4 545.8M802.5 525.4L803.9 526.5M818.6 506.5L820.1 507.6M834.5 488.1L835.9 489.1M850 470L851.4 471M865.2 452.2L866.6 453.2M880.1 434.9L881.5 435.9M894.7 417.8L896 418.8M709.6 633.8L706.5 640.3M775.1 557.4L772.3 563.4M835.5 486.8L833.1 492.4M891.5 421.5L889.3 426.7" class="m"/>
<path d="M639.9 715L641.4 716.3M909 401.1L910.3 402.1" class="b"/>
<path d="M644.5 718.8L646 720L685 674.3L683.5 673.1Z" fill="#d5f76f" stroke="#d5f76f"/>
<path d="M683.5 673.1L685 674.3L722.2 630.6L720.7 629.5Z" fill="#e7f967" stroke="#e7f967"/>
<path d="M720.7 629.5L722.2 630.6L757.7 588.9L756.3 587.8Z" fill="#f5f762" stroke="#f5f762"/>
<path d="M756.3 587.8L757.7 588.9L791.8 548.9L790.3 547.9Z" fill="#fff45c" stroke="#fff45c"/>
<path d="M790.3 547.9L791.8 548.9L824.4 510.6L823 509.6Z" fill="#ffe855" stroke="#ffe855"/>
<path d="M823 509.6L824.4 510.6L855.7 473.9L854.2 473Z" fill="#ffdb4e" stroke="#ffdb4e"/>
<path d="M854.2 473L855.7 473.9L885.7 438.7L884.3 437.8Z" fill="#ffc847" stroke="#ffc847"/>
<path d="M884.3 437.8L885.7 438.7L914.5 404.8L913.1 404Z" fill="#ffb441" stroke="#ffb441"/>
<path d="M661.2 693.3L662.7 694.5M680.4 670.8L681.9 671.9M699.3 648.7L700.8 649.9M717.7 627.2L719.2 628.4M735.7 606.2L737.2 607.3M753.3 585.6L754.8 586.7M770.5 565.5L772 566.6M787.4 545.8L788.9 546.8M803.9 526.5L805.4 527.5M820.1 507.6L821.5 508.6M835.9 489.1L837.3 490.1M851.4 471L852.8 472M866.6 453.2L868 454.2M881.5 435.9L882.9 436.8M896 418.8L897.4 419.8M706.5 640.3L703.4 646.8M772.3 563.4L769.6 569.4M833.1 492.4L830.6 498M889.3 426.7L887.1 431.9" class="m"/>
<path d="M641.4 716.3L643 717.6M910.3 402.1L911.7 403.1" class="b"/>
<path d="M646 720L647.6 721.1L686.5 675.4L685 674.3Z" fill="#d6f76d" stroke="#d6f76d"/>
<path d="M685 674.3L686.5 675.4L723.7 631.7L722.2 630.6Z" fill="#e8f866" stroke="#e8f866"/>
<path d="M722.2 630.6L723.7 631.7L759.2 589.9L757.7 588.9Z" fill="#f6f661" stroke="#f6f661"/>
<path d="M757.7 588.9L759.2 589.9L793.2 549.9L791.8 548.9Z" fill="#fff25b" stroke="#fff25b"/>
<path d="M791.8 548.9L793.2 549.9L825.8 511.6L824.4 510.6Z" fill="#ffe554" stroke="#ffe554"/>
<path d="M824.4 510.6L825.8 511.6L857.1 474.8L855.7 473.9Z" fill="#ffd94c" stroke="#ffd94c"/>
<path d="M855.7 473.9L857.1 474.8L887.1 439.6L885.7 438.7Z" fill="#ffc546" stroke="#ffc546"/>
<path d="M885.7 438.7L887.1 439.6L915.9 405.7L914.5 404.8Z" fill="#ffb140" stroke="#ffb140"/>
<path d="M662.7 694.5L664.2 695.7M681.9 671.9L683.5 673.1M700.8 649.9L702.3 651.1M719.2 628.4L720.7 629.5M737.2 607.3L738.7 608.4M754.8 586.7L756.3 587.8M772 566.6L773.5 567.6M788.9 546.8L790.3 547.9M805.4 527.5L806.8 528.6M821.5 508.6L823 509.6M837.3 490.1L838.8 491.1M852.8 472L854.2 473M868 454.2L869.4 455.2M882.9 436.8L884.3 437.8M897.4 419.8L898.8 420.7M703.4 646.8L700.3 653.3M769.6 569.4L766.8 575.4M830.6 498L828.1 503.6M887.1 431.9L884.8 437.1" class="m"/>
<path d="M643 717.6L644.5 718.8M911.7 403.1L913.1 404" class="b"/>
<path d="M647.6 721.1L652.7 724.8L691.5 678.9L686.5 675.4Z" fill="#dbf66a" stroke="#dbf66a"/>
<path d="M686.5 675.4L691.5 678.9L728.7 635.1L723.7 631.7Z" fill="#eaf664" stroke="#eaf664"/>
<path d="M723.7 631.7L728.7 635.1L764.2 593.2L759.2 589.9Z" fill="#f8f45f" stroke="#f8f45f"/>
<path d="M759.2 589.9L764.2 593.2L798.1 553.1L793.2 549.9Z" fill="#ffed58" stroke="#ffed58"/>
<path d="M793.2 549.9L798.1 553.1L830.7 514.6L825.8 511.6Z" fill="#ffe051" stroke="#ffe051"/>
<path d="M825.8 511.6L830.7 514.6L861.9 477.8L857.1 474.8Z" fill="#ffd24a" stroke="#ffd24a"/>
<path d="M857.1 474.8L861.9 477.8L891.8 442.4L887.1 439.6Z" fill="#ffbf44" stroke="#ffbf44"/>
<path d="M887.1 439.6L891.8 442.4L920.6 408.4L915.9 405.7Z" fill="#ffab3e" stroke="#ffab3e"/>
<path d="M664.2 695.7L665.7 696.8M683.5 673.1L685 674.3M702.3 651.1L703.8 652.2M720.7 629.5L722.2 630.6M738.7 608.4L740.2 609.5M756.3 587.8L757.7 588.9M773.5 567.6L774.9 568.7M790.3 547.9L791.8 548.9M806.8 528.6L808.3 529.6M823 509.6L824.4 510.6M838.8 491.1L840.2 492.1M854.2 473L855.7 473.9M869.4 455.2L870.8 456.1M884.3 437.8L885.7 438.7M898.8 420.7L900.2 421.6M700.3 653.3L697.2 659.9M766.8 575.4L764 581.5M828.1 503.6L825.6 509.2M884.8 437.1L882.6 442.3" class="m"/>
<path d="M644.5 718.8L646 720M913.1 404L914.5 404.8" class="b"/>
<path d="M652.7 724.8L657.8 728.4L696.6 682.4L691.5 678.9Z" fill="#e0f566" stroke="#e0f566"/>
<path d="M691.5 678.9L696.6 682.4L733.7 638.4L728.7 635.1Z" fill="#eef361" stroke="#eef361"/>
<path d="M728.7 635.1L733.7 638.4L769.1 596.3L764.2 593.2Z" fill="#fcf25c" stroke="#fcf25c"/>
<path d="M764.2 593.2L769.1 596.3L803 556.1L798.1 553.1Z" fill="#ffe655" stroke="#ffe655"/>
<path d="M798.1 553.1L803 556.1L835.5 517.5L830.7 514.6Z" fill="#ffda4e" stroke="#ffda4e"/>
<path d="M830.7 514.6L835.5 517.5L866.6 480.6L861.9 477.8Z" fill="#ffc947" stroke="#ffc947"/>
<path d="M861.9 477.8L866.6 480.6L896.5 445.1L891.8 442.4Z" fill="#ffb541" stroke="#ffb541"/>
<path d="M891.8 442.4L896.5 445.1L925.2 411L920.6 408.4Z" fill="#ffa03b" stroke="#ffa03b"/>
<path d="M665.7 696.8L667.3 698M685 674.3L686.5 675.4M703.8 652.2L705.3 653.3M722.2 630.6L723.7 631.7M740.2 609.5L741.6 610.5M757.7 588.9L759.2 589.9M774.9 568.7L776.4 569.7M791.8 548.9L793.2 549.9M808.3 529.6L809.7 530.5M824.4 510.6L825.8 511.6M840.2 492.1L841.6 493M855.7 473.9L857.1 474.8M870.8 456.1L872.2 457M885.7 438.7L887.1 439.6M900.2 421.6L901.6 422.5M697.2 659.9L694.1 666.5M764 581.5L761.2 587.5M825.6 509.2L823.1 514.8M882.6 442.3L880.3 447.5" class="m"/>
<path d="M646 720L647.6 721.1M914.5 404.8L915.9 405.7" class="b"/>
<path d="M657.8 728.4L663 731.9L701.7 685.7L696.6 682.4Z" fill="#e5f364" stroke="#e5f364"/>
<path d="M696.6 682.4L701.7 685.7L738.7 641.6L733.7 638.4Z" fill="#f3f15e" stroke="#f3f15e"/>
<path d="M733.7 638.4L738.7 641.6L774.1 599.4L769.1 596.3Z" fill="#fdec59" stroke="#fdec59"/>
<path d="M769.1 596.3L774.1 599.4L807.9 559L803 556.1Z" fill="#ffe051" stroke="#ffe051"/>
<path d="M803 556.1L807.9 559L840.3 520.4L835.5 517.5Z" fill="#ffd34a" stroke="#ffd34a"/>
<path d="M835.5 517.5L840.3 520.4L871.4 483.3L866.6 480.6Z" fill="#ffc044" stroke="#ffc044"/>
<path d="M866.6 480.6L871.4 483.3L901.3 447.7L896.5 445.1Z" fill="#ffac3e" stroke="#ffac3e"/>
<path d="M896.5 445.1L901.3 447.7L929.9 413.6L925.2 411Z" fill="#ff9438" stroke="#ff9438"/>
<path d="M667.3 698L672.3 701.6M686.5 675.4L691.5 678.9M705.3 653.3L710.3 656.8M723.7 631.7L728.7 635.1M741.6 610.5L746.6 613.9M759.2 589.9L764.2 593.2M776.4 569.7L781.3 572.9M793.2 549.9L798.1 553.1M809.7 530.5L814.6 533.6M825.8 511.6L830.7 514.6M841.6 493L846.4 496M857.1 474.8L861.9 477.8M872.2 457L877 459.9M887.1 439.6L891.8 442.4M901.6 422.5L906.3 425.3M694.1 666.5L683.5 688.5M761.2 587.5L751.8 607.8M823.1 514.8L814.7 533.5M880.3 447.5L872.8 464.9" class="m"/>
<path d="M647.6 721.1L652.7 724.8M915.9 405.7L920.6 408.4" class="b"/>
<path d="M663 731.9L668.1 735.3L706.8 689L701.7 685.7Z" fill="#eaf261" stroke="#eaf261"/>
<path d="M701.7 685.7L706.8 689L743.7 644.7L738.7 641.6Z" fill="#f8f05c" stroke="#f8f05c"/>
<path d="M738.7 641.6L743.7 644.7L779.1 602.4L774.1 599.4Z" fill="#fde655" stroke="#fde655"/>
<path d="M774.1 599.4L779.1 602.4L812.9 561.9L807.9 559Z" fill="#ffda4e" stroke="#ffda4e"/>
<path d="M807.9 559L812.9 561.9L845.2 523.1L840.3 520.4Z" fill="#ffcb48" stroke="#ffcb48"/>
<path d="M840.3 520.4L845.2 523.1L876.2 485.9L871.4 483.3Z" fill="#ffb741" stroke="#ffb741"/>
<path d="M871.4 483.3L876.2 485.9L906 450.3L901.3 447.7Z" fill="#ffa33b" stroke="#ffa33b"/>
<path d="M901.3 447.7L906 450.3L934.6 416L929.9 413.6Z" fill="#ff8935" stroke="#ff8935"/>
<path d="M672.3 701.6L677.4 705.1M691.5 678.9L696.6 682.4M710.3 656.8L715.4 660.1M728.7 635.1L733.7 638.4M746.6 613.9L751.6 617.1M764.2 593.2L769.1 596.3M781.3 572.9L786.2 576M798.1 553.1L803 556.1M814.6 533.6L819.4 536.6M830.7 514.6L835.5 517.5M846.4 496L851.2 498.9M861.9 477.8L866.6 480.6M877 459.9L881.7 462.7M891.8 442.4L896.5 445.1M906.3 425.3L911 427.9M683.5 688.5L672.7 710.8M751.8 607.8L742.1 628.4M814.7 533.5L806 552.5M872.8 464.9L865.1 482.4M923 409.8L919.7 417.6" class="m"/>
<path d="M652.7 724.8L657.8 728.4M920.6 408.4L925.2 411" class="b"/>
<path d="M668.1 735.3L673.3 738.8L711.9 692.2L706.8 689Z" fill="#eff05f" stroke="#eff05f"/>
<path d="M706.8 689L711.9 692.2L748.8 647.8L743.7 644.7Z" fill="#fbed59" stroke="#fbed59"/>
<path d="M743.7 644.7L748.8 647.8L784.1 605.4L779.1 602.4Z" fill="#fee152" stroke="#fee152"/>
<path d="M779.1 602.4L784.1 605.4L817.8 564.8L812.9 561.9Z" fill="#ffd54b" stroke="#ffd54b"/>
<path d="M812.9 561.9L817.8 564.8L850.1 525.9L845.2 523.1Z" fill="#ffc245" stroke="#ffc245"/>
<path d="M845.2 523.1L850.1 525.9L881.1 488.6L876.2 485.9Z" fill="#ffaf3f" stroke="#ffaf3f"/>
<path d="M876.2 485.9L881.1 488.6L910.8 452.8L906 450.3Z" fill="#ff9839" stroke="#ff9839"/>
<path d="M906 450.3L910.8 452.8L939.3 418.4L934.6 416Z" fill="#ff7e33" stroke="#ff7e33"/>
<path d="M677.4 705.1L682.6 708.5M696.6 682.4L701.7 685.7M715.4 660.1L720.4 663.4M733.7 638.4L738.7 641.6M751.6 617.1L756.6 620.2M769.1 596.3L774.1 599.4M786.2 576L791.2 579M803 556.1L807.9 559M819.4 536.6L824.3 539.5M835.5 517.5L840.3 520.4M851.2 498.9L856.1 501.6M866.6 480.6L871.4 483.3M881.7 462.7L886.5 465.3M896.5 445.1L901.3 447.7M911 427.9L915.7 430.5M672.7 710.8L662.5 731.6M742.1 628.4L732.3 649.2M806 552.5L797.3 571.7M865.1 482.4L857.2 500.2M919.7 417.6L912.7 434.1" class="m"/>
<path d="M657.8 728.4L663 731.9M925.2 411L929.9 413.6" class="b"/>
<path d="M673.3 738.8L678.5 742.1L717 695.5L711.9 692.2Z" fill="#f5ef5d" stroke="#f5ef5d"/>
<path d="M711.9 692.2L717 695.5L753.9 650.9L748.8 647.8Z" fill="#fce856" stroke="#fce856"/>
<path d="M748.8 647.8L753.9 650.9L789.1 608.3L784.1 605.4Z" fill="#fedb4f" stroke="#fedb4f"/>
<path d="M784.1 605.4L789.1 608.3L822.8 567.6L817.8 564.8Z" fill="#ffcd48" stroke="#ffcd48"/>
<path d="M817.8 564.8L822.8 567.6L855 528.6L850.1 525.9Z" fill="#ffba42" stroke="#ffba42"/>
<path d="M850.1 525.9L855 528.6L885.9 491.2L881.1 488.6Z" fill="#ffa73c" stroke="#ffa73c"/>
<path d="M881.1 488.6L885.9 491.2L915.6 455.3L910.8 452.8Z" fill="#ff8d36" stroke="#ff8d36"/>
<path d="M910.8 452.8L915.6 455.3L944.1 420.8L939.3 418.4Z" fill="#ff7430" stroke="#ff7430"/>
<path d="M682.6 708.5L687.7 711.9M701.7 685.7L706.8 689M720.4 663.4L725.5 666.6M738.7 641.6L743.7 644.7M756.6 620.2L761.6 623.3M774.1 599.4L779.1 602.4M791.2 579L796.1 581.9M807.9 559L812.9 561.9M824.3 539.5L829.2 542.3M840.3 520.4L845.2 523.1M856.1 501.6L860.9 504.3M871.4 483.3L876.2 485.9M886.5 465.3L891.3 467.9M901.3 447.7L906 450.3M915.7 430.5L920.5 433M732.3 649.2L722.2 670.5M797.3 571.7L788.3 591.3M857.2 500.2L849.2 518.4M912.7 434.1L905.5 450.9" class="m"/>
<path d="M663 731.9L668.1 735.3M929.9 413.6L934.6 416" class="b"/>
<path d="M678.5 742.1L683.7 745.5L722.2 698.7L717 695.5Z" fill="#faee5a" stroke="#faee5a"/>
<path d="M717 695.5L722.2 698.7L759 654L753.9 650.9Z" fill="#fde253" stroke="#fde253"/>
<path d="M753.9 650.9L759 654L794.1 611.3L789.1 608.3Z" fill="#ffd64c" stroke="#ffd64c"/>
<path d="M789.1 608.3L794.1 611.3L827.7 570.4L822.8 567.6Z" fill="#ffc546" stroke="#ffc546"/>
<path d="M822.8 567.6L827.7 570.4L859.9 531.3L855 528.6Z" fill="#ffb240" stroke="#ffb240"/>
<path d="M855 528.6L859.9 531.3L890.8 493.8L885.9 491.2Z" fill="#ff9c3a" stroke="#ff9c3a"/>
<path d="M885.9 491.2L890.8 493.8L920.4 457.8L915.6 455.3Z" fill="#ff8333" stroke="#ff8333"/>
<path d="M915.6 455.3L920.4 457.8L948.8 423.2L944.1 420.8Z" fill="#ff692e" stroke="#ff692e"/>
<path d="M687.7 711.9L692.8 715.2M706.8 689L711.9 692.2M725.5 666.6L730.6 669.8M743.7 644.7L748.8 647.8M761.6 623.3L766.6 626.4M779.1 602.4L784.1 605.4M796.1 581.9L801.1 584.8M812.9 561.9L817.8 564.8M829.2 542.3L834.1 545.1M845.2 523.1L850.1 525.9M860.9 504.3L865.8 507M876.2 485.9L881.1 488.6M891.3 467.9L896.1 470.5M906 450.3L910.8 452.8M920.5 433L925.2 435.4M722.2 670.5L711.9 692.2M788.3 591.3L779.1 611.3M849.2 518.4L841 536.8M905.5 450.9L898.2 467.9" class="m"/>
<path d="M668.1 735.3L673.3 738.8M934.6 416L939.3 418.4" class="b"/>
<path d="M683.7 745.5L688.9 748.9L727.4 701.9L722.2 698.7Z" fill="#fbea57" stroke="#fbea57"/>
<path d="M722.2 698.7L727.4 701.9L764.1 657.1L759 654Z" fill="#fddd50" stroke="#fddd50"/>
<path d="M759 654L764.1 657.1L799.2 614.2L794.1 611.3Z" fill="#ffd049" stroke="#ffd049"/>
<path d="M794.1 611.3L799.2 614.2L832.7 573.2L827.7 570.4Z" fill="#ffbd43" stroke="#ffbd43"/>
<path d="M827.7 570.4L832.7 573.2L864.9 534L859.9 531.3Z" fill="#ffaa3d" stroke="#ffaa3d"/>
<path d="M859.9 531.3L864.9 534L895.7 496.4L890.8 493.8Z" fill="#ff9137" stroke="#ff9137"/>
<path d="M890.8 493.8L895.7 496.4L925.2 460.3L920.4 457.8Z" fill="#ff7831" stroke="#ff7831"/>
<path d="M920.4 457.8L925.2 460.3L953.6 425.6L948.8 423.2Z" fill="#ff5e2c" stroke="#ff5e2c"/>
<path d="M692.8 715.2L698 718.5M711.9 692.2L717 695.5M730.6 669.8L735.7 672.9M748.8 647.8L753.9 650.9M766.6 626.4L771.7 629.4M784.1 605.4L789.1 608.3M801.1 584.8L806.1 587.7M817.8 564.8L822.8 567.6M834.1 545.1L839.1 547.9M850.1 525.9L855 528.6M865.8 507L870.6 509.7M881.1 488.6L885.9 491.2M896.1 470.5L900.9 473M910.8 452.8L915.6 455.3M925.2 435.4L930 437.9M711.9 692.2L701.4 714.4M779.1 611.3L769.8 631.7M841 536.8L832.7 555.6M898.2 467.9L890.7 485.3" class="m"/>
<path d="M673.3 738.8L678.5 742.1M939.3 418.4L944.1 420.8" class="b"/>
<path d="M688.9 748.9L694.1 752.3L732.5 705.2L727.4 701.9Z" fill="#fce454" stroke="#fce454"/>
<path d="M727.4 701.9L732.5 705.2L769.2 660.2L764.1 657.1Z" fill="#fed84d" stroke="#fed84d"/>
<path d="M764.1 657.1L769.2 660.2L804.2 617.2L799.2 614.2Z" fill="#ffc847" stroke="#ffc847"/>
<path d="M799.2 614.2L804.2 617.2L837.7 576.1L832.7 573.2Z" fill="#ffb541" stroke="#ffb541"/>
<path d="M832.7 573.2L837.7 576.1L869.8 536.7L864.9 534Z" fill="#ffa03b" stroke="#ffa03b"/>
<path d="M864.9 534L869.8 536.7L900.5 498.9L895.7 496.4Z" fill="#ff8735" stroke="#ff8735"/>
<path d="M895.7 496.4L900.5 498.9L930 462.8L925.2 460.3Z" fill="#ff6e2e" stroke="#ff6e2e"/>
<path d="M925.2 460.3L930 462.8L958.3 428L953.6 425.6Z" fill="#ff532a" stroke="#ff532a"/>
<path d="M698 718.5L703.2 721.8M717 695.5L722.2 698.7M735.7 672.9L740.8 676.1M753.9 650.9L759 654M771.7 629.4L776.7 632.4M789.1 608.3L794.1 611.3M806.1 587.7L811.1 590.6M822.8 567.6L827.7 570.4M839.1 547.9L844 550.6M855 528.6L859.9 531.3M870.6 509.7L875.5 512.3M885.9 491.2L890.8 493.8M900.9 473L905.7 475.6M915.6 455.3L920.4 457.8M930 437.9L934.7 440.3M701.4 714.4L690.6 737.1M769.8 631.7L760.2 652.5M832.7 555.6L824.1 574.8M890.7 485.3L883.1 503M944.3 420.9L937.7 436.7" class="m"/>
<path d="M678.5 742.1L683.7 745.5M944.1 420.8L948.8 423.2" class="b"/>
<path d="M694.1 752.3L699.4 755.7L737.7 708.4L732.5 705.2Z" fill="#fddf52" stroke="#fddf52"/>
<path d="M732.5 705.2L737.7 708.4L774.3 663.3L769.2 660.2Z" fill="#ffd34b" stroke="#ffd34b"/>
<path d="M769.2 660.2L774.3 663.3L809.3 620.1L804.2 617.2Z" fill="#ffc044" stroke="#ffc044"/>
<path d="M804.2 617.2L809.3 620.1L842.7 578.9L837.7 576.1Z" fill="#ffad3e" stroke="#ffad3e"/>
<path d="M837.7 576.1L842.7 578.9L874.8 539.4L869.8 536.7Z" fill="#ff9638" stroke="#ff9638"/>
<path d="M869.8 536.7L874.8 539.4L905.4 501.5L900.5 498.9Z" fill="#ff7d32" stroke="#ff7d32"/>
<path d="M900.5 498.9L905.4 501.5L934.9 465.2L930 462.8Z" fill="#ff632c" stroke="#ff632c"/>
<path d="M930 462.8L934.9 465.2L963.1 430.4L958.3 428Z" fill="#ff4728" stroke="#ff4728"/>
<path d="M703.2 721.8L708.4 725.1M722.2 698.7L727.4 701.9M740.8 676.1L745.9 679.3M759 654L764.1 657.1M776.7 632.4L781.8 635.4M794.1 611.3L799.2 614.2M811.1 590.6L816.1 593.5M827.7 570.4L832.7 573.2M844 550.6L849 553.4M859.9 531.3L864.9 534M875.5 512.3L880.4 515M890.8 493.8L895.7 496.4M905.7 475.6L910.6 478.1M920.4 457.8L925.2 460.3M934.7 440.3L939.5 442.8M690.6 737.1L685.9 747M760.2 652.5L750.4 673.8M824.1 574.8L815.5 594.3M883.1 503L875.4 521.1M937.7 436.7L930.8 453.4" class="m"/>
<path d="M683.7 745.5L688.9 748.9M948.8 423.2L953.6 425.6" class="b"/>
<path d="M699.4 755.7L704.7 759.1L743 711.6L737.7 708.4Z" fill="#feda4f" stroke="#feda4f"/>
<path d="M737.7 708.4L743 711.6L779.5 666.4L774.3 663.3Z" fill="#ffcc48" stroke="#ffcc48"/>
<path d="M774.3 663.3L779.5 666.4L814.4 623.1L809.3 620.1Z" fill="#ffb842" stroke="#ffb842"/>
<path d="M809.3 620.1L814.4 623.1L847.8 581.7L842.7 578.9Z" fill="#ffa53c" stroke="#ffa53c"/>
<path d="M842.7 578.9L847.8 581.7L879.7 542.1L874.8 539.4Z" fill="#ff8b36" stroke="#ff8b36"/>
<path d="M874.8 539.4L879.7 542.1L910.4 504.1L905.4 501.5Z" fill="#ff722f" stroke="#ff722f"/>
<path d="M905.4 501.5L910.4 504.1L939.7 467.7L934.9 465.2Z" fill="#ff572b" stroke="#ff572b"/>
<path d="M934.9 465.2L939.7 467.7L962.9 439.1L965.8 431.7L963.1 430.4Z" fill="#ff3a26" stroke="#ff3a26"/>
<path d="M708.4 725.1L713.6 728.5M727.4 701.9L732.5 705.2M745.9 679.3L751.1 682.4M764.1 657.1L769.2 660.2M781.8 635.4L786.9 638.4M799.2 614.2L804.2 617.2M816.1 593.5L821.2 596.4M832.7 573.2L837.7 576.1M849 553.4L853.9 556.2M864.9 534L869.8 536.7M880.4 515L885.3 517.6M895.7 496.4L900.5 498.9M910.6 478.1L915.4 480.7M925.2 460.3L930 462.8M939.5 442.8L944.3 445.2M750.4 673.8L740.4 695.5M815.5 594.3L806.6 614.3M875.4 521.1L867.5 539.6M930.8 453.4L923.7 470.5" class="m"/>
<path d="M688.9 748.9L694.1 752.3M953.6 425.6L958.3 428" class="b"/>
<path d="M704.7 759.1L710 762.5L748.2 714.9L743 711.6Z" fill="#fed54c" stroke="#fed54c"/>
<path d="M743 711.6L748.2 714.9L784.7 669.5L779.5 666.4Z" fill="#ffc445" stroke="#ffc445"/>
<path d="M779.5 666.4L784.7 669.5L819.5 626.1L814.4 623.1Z" fill="#ffb03f" stroke="#ffb03f"/>
<path d="M814.4 623.1L819.5 626.1L852.8 584.6L847.8 581.7Z" fill="#ff9a39" stroke="#ff9a39"/>
<path d="M847.8 581.7L852.8 584.6L884.7 544.8L879.7 542.1Z" fill="#ff8133" stroke="#ff8133"/>
<path d="M879.7 542.1L884.7 544.8L915.3 506.8L910.4 504.1Z" fill="#ff672d" stroke="#ff672d"/>
<path d="M910.4 504.1L915.3 506.8L944.6 470.2L939.7 467.7Z" fill="#ff4c29" stroke="#ff4c29"/>
<path d="M939.7 467.7L944.6 470.2L956.2 455.9L962.9 439.1Z" fill="#ff3625" stroke="#ff3625"/>
<path d="M713.6 728.5L718.8 731.8M732.5 705.2L737.7 708.4M751.1 682.4L756.3 685.6M769.2 660.2L774.3 663.3M786.9 638.4L792 641.5M804.2 617.2L809.3 620.1M821.2 596.4L826.2 599.3M837.7 576.1L842.7 578.9M853.9 556.2L858.9 558.9M869.8 536.7L874.8 539.4M885.3 517.6L890.3 520.3M900.5 498.9L905.4 501.5M915.4 480.7L920.3 483.2M930 462.8L934.9 465.2M944.3 445.2L949.1 447.6M740.4 695.5L730.2 717.7M806.6 614.3L797.5 634.7M867.5 539.6L859.4 558.4M923.7 470.5L916.5 487.9" class="m"/>
<path d="M694.1 752.3L699.4 755.7M958.3 428L963.1 430.4" class="b"/>
<path d="M710 762.5L715.3 765.9L753.4 718.2L748.2 714.9Z" fill="#ffcf49" stroke="#ffcf49"/>
<path d="M748.2 714.9L753.4 718.2L789.9 672.6L784.7 669.5Z" fill="#ffbc43" stroke="#ffbc43"/>
<path d="M784.7 669.5L789.9 672.6L824.6 629L819.5 626.1Z" fill="#ffa83d" stroke="#ffa83d"/>
<path d="M819.5 626.1L824.6 629L857.9 587.4L852.8 584.6Z" fill="#ff9037" stroke="#ff9037"/>
<path d="M852.8 584.6L857.9 587.4L889.7 547.6L884.7 544.8Z" fill="#ff7731" stroke="#ff7731"/>
<path d="M884.7 544.8L889.7 547.6L920.2 509.4L915.3 506.8Z" fill="#ff5c2b" stroke="#ff5c2b"/>
<path d="M915.3 506.8L920.2 509.4L949.3 473L949.4 472.7L944.6 470.2Z" fill="#ff3d26" stroke="#ff3d26"/>
<path d="M944.6 470.2L949.4 472.7L956.2 455.9Z" fill="#ff3225" stroke="#ff3225"/>
<path d="M718.8 731.8L724 735.1M737.7 708.4L743 711.6M756.3 685.6L761.4 688.7M774.3 663.3L779.5 666.4M792 641.5L797.1 644.5M809.3 620.1L814.4 623.1M826.2 599.3L831.3 602.2M842.7 578.9L847.8 581.7M858.9 558.9L863.9 561.7M874.8 539.4L879.7 542.1M890.3 520.3L895.2 522.9M905.4 501.5L910.4 504.1M920.3 483.2L925.2 485.8M934.9 465.2L939.7 467.7M949.1 447.6L954 450.1M730.2 717.7L719.8 740.4M797.5 634.7L788.2 655.5M859.4 558.4L851.1 577.6M916.5 487.9L909.2 505.6" class="m"/>
<path d="M699.4 755.7L704.7 759.1M963.1 430.4L965.8 431.7M965.8 431.7L962.9 439.1" class="b"/>
<path d="M715.3 765.9L720.6 769.4L758.7 721.4L753.4 718.2Z" fill="#ffc747" stroke="#ffc747"/>
<path d="M753.4 718.2L758.7 721.4L795.1 675.7L789.9 672.6Z" fill="#ffb440" stroke="#ffb440"/>
<path d="M789.9 672.6L795.1 675.7L829.8 632L824.6 629Z" fill="#ff9f3a" stroke="#ff9f3a"/>
<path d="M824.6 629L829.8 632L863 590.3L857.9 587.4Z" fill="#ff8534" stroke="#ff8534"/>
<path d="M857.9 587.4L863 590.3L894.8 550.3L889.7 547.6Z" fill="#ff6c2e" stroke="#ff6c2e"/>
<path d="M889.7 547.6L894.8 550.3L925.2 512L920.2 509.4Z" fill="#ff512a" stroke="#ff512a"/>
<path d="M920.2 509.4L925.2 512L942.4 490.4L949.3 473Z" fill="#ff3926" stroke="#ff3926"/>
<path d="M724 735.1L729.3 738.4M743 711.6L748.2 714.9M761.4 688.7L766.6 691.9M779.5 666.4L784.7 669.5M797.1 644.5L802.3 647.5M814.4 623.1L819.5 626.1M831.3 602.2L836.4 605.1M847.8 581.7L852.8 584.6M863.9 561.7L869 564.5M879.7 542.1L884.7 544.8M895.2 522.9L900.2 525.6M910.4 504.1L915.3 506.8M925.2 485.8L930.1 488.3M939.7 467.7L944.6 470.2M954 450.1L957.7 452M719.8 740.4L709.7 762.3M788.2 655.5L778.7 676.9M851.1 577.6L842.7 597.2M909.2 505.6L901.7 523.7" class="m"/>
<path d="M704.7 759.1L710 762.5M962.9 439.1L956.2 455.9" class="b"/>
<path d="M720.6 769.4L726 772.8L764 724.7L758.7 721.4Z" fill="#ffbf44" stroke="#ffbf44"/>
<path d="M758.7 721.4L764 724.7L800.3 678.8L795.1 675.7Z" fill="#ffac3e" stroke="#ffac3e"/>
<path d="M795.1 675.7L800.3 678.8L834.9 635L829.8 632Z" fill="#ff9438" stroke="#ff9438"/>
<path d="M829.8 632L834.9 635L868.1 593.1L863 590.3Z" fill="#ff7b32" stroke="#ff7b32"/>
<path d="M863 590.3L868.1 593.1L899.8 553L894.8 550.3Z" fill="#ff612c" stroke="#ff612c"/>
<path d="M894.8 550.3L899.8 553L930.2 514.6L925.2 512Z" fill="#ff4628" stroke="#ff4628"/>
<path d="M925.2 512L930.2 514.6L935.3 508.2L942.4 490.4Z" fill="#ff3325" stroke="#ff3325"/>
<path d="M729.3 738.4L734.6 741.8M748.2 714.9L753.4 718.2M766.6 691.9L771.9 695.1M784.7 669.5L789.9 672.6M802.3 647.5L807.4 650.6M819.5 626.1L824.6 629M836.4 605.1L841.5 608M852.8 584.6L857.9 587.4M869 564.5L874 567.3M884.7 544.8L889.7 547.6M900.2 525.6L905.2 528.3M915.3 506.8L920.2 509.4M930.1 488.3L935 490.9M944.6 470.2L949.4 472.7M778.7 676.9L769 698.6M842.7 597.2L834.1 617.2M901.7 523.7L894 542.2" class="m"/>
<path d="M710 762.5L715.3 765.9M956.2 455.9L949.3 473" class="b"/>
<path d="M726 772.8L731.3 776.3L769.3 728L764 724.7Z" fill="#ffb741" stroke="#ffb741"/>
<path d="M764 724.7L769.3 728L805.5 682L800.3 678.8Z" fill="#ffa33b" stroke="#ffa33b"/>
<path d="M800.3 678.8L805.5 682L840.1 638L834.9 635Z" fill="#ff8a35" stroke="#ff8a35"/>
<path d="M834.9 635L840.1 638L873.2 596L868.1 593.1Z" fill="#ff712f" stroke="#ff712f"/>
<path d="M868.1 593.1L873.2 596L904.9 555.8L899.8 553Z" fill="#ff562a" stroke="#ff562a"/>
<path d="M899.8 553L904.9 555.8L928 526.4L932.3 515.7L930.2 514.6Z" fill="#ff3926" stroke="#ff3926"/>
<path d="M930.2 514.6L932.3 515.7L935.3 508.2Z" fill="#ff3024" stroke="#ff3024"/>
<path d="M734.6 741.8L739.9 745.1M753.4 718.2L758.7 721.4M771.9 695.1L777.1 698.3M789.9 672.6L795.1 675.7M807.4 650.6L812.6 653.6M824.6 629L829.8 632M841.5 608L846.6 610.9M857.9 587.4L863 590.3M874 567.3L879 570.1M889.7 547.6L894.8 550.3M905.2 528.3L910.1 530.9M920.2 509.4L925.2 512M935 490.9L940 493.4M769 698.6L759.1 720.9M834.1 617.2L825.3 637.7M894 542.2L886.2 561.1" class="m"/>
<path d="M715.3 765.9L720.6 769.4M949.3 473L942.4 490.4" class="b"/>
<path d="M731.3 776.3L736.7 779.7L774.6 731.3L769.3 728Z" fill="#ffaf3f" stroke="#ffaf3f"/>
<path d="M769.3 728L774.6 731.3L810.8 685.1L805.5 682Z" fill="#ff9939" stroke="#ff9939"/>
<path d="M805.5 682L810.8 685.1L845.3 641L840.1 638Z" fill="#ff8033" stroke="#ff8033"/>
<path d="M840.1 638L845.3 641L878.3 598.9L873.2 596Z" fill="#ff662d" stroke="#ff662d"/>
<path d="M873.2 596L878.3 598.9L909.9 558.5L904.9 555.8Z" fill="#ff4b29" stroke="#ff4b29"/>
<path d="M904.9 555.8L909.9 558.5L920.6 544.9L928 526.4Z" fill="#ff3625" stroke="#ff3625"/>
<path d="M739.9 745.1L745.2 748.5M758.7 721.4L764 724.7M777.1 698.3L782.4 701.5M795.1 675.7L800.3 678.8M812.6 653.6L817.8 656.7M829.8 632L834.9 635M846.6 610.9L851.7 613.8M863 590.3L868.1 593.1M879 570.1L884.1 572.9M894.8 550.3L899.8 553M910.1 530.9L915.2 533.6M925.2 512L930.2 514.6M940 493.4L941 494M759.1 720.9L749 743.7M825.3 637.7L816.3 658.6M886.2 561.1L878.2 580.3" class="m"/>
<path d="M720.6 769.4L726 772.8M942.4 490.4L935.3 508.2" class="b"/>
<path d="M736.7 779.7L742.1 783.2L780 734.6L774.6 731.3Z" fill="#ffa73c" stroke="#ffa73c"/>
<path d="M774.6 731.3L780 734.6L816.1 688.3L810.8 685.1Z" fill="#ff8e36" stroke="#ff8e36"/>
<path d="M810.8 685.1L816.1 688.3L850.5 644.1L845.3 641Z" fill="#ff7530" stroke="#ff7530"/>
<path d="M845.3 641L850.5 644.1L883.5 601.8L878.3 598.9Z" fill="#ff5b2b" stroke="#ff5b2b"/>
<path d="M878.3 598.9L883.5 601.8L913.1 563.8L914.2 560.9L909.9 558.5Z" fill="#ff3c26" stroke="#ff3c26"/>
<path d="M909.9 558.5L914.2 560.9L920.6 544.9Z" fill="#ff3125" stroke="#ff3125"/>
<path d="M745.2 748.5L750.5 751.8M764 724.7L769.3 728M782.4 701.5L787.6 704.7M800.3 678.8L805.5 682M817.8 656.7L823 659.8M834.9 635L840.1 638M851.7 613.8L856.8 616.8M868.1 593.1L873.2 596M884.1 572.9L889.2 575.7M899.8 553L904.9 555.8M915.2 533.6L920.2 536.3M930.2 514.6L932.3 515.7M749 743.7L738.6 767M816.3 658.6L807.1 679.9M878.2 580.3L870 600" class="m"/>
<path d="M726 772.8L731.3 776.3M935.3 508.2L928 526.4" class="b"/>
<path d="M742.1 783.2L747.5 786.7L785.3 738L780 734.6Z" fill="#ff9d3a" stroke="#ff9d3a"/>
<path d="M780 734.6L785.3 738L821.3 691.5L816.1 688.3Z" fill="#ff8434" stroke="#ff8434"/>
<path d="M816.1 688.3L821.3 691.5L855.8 647.1L850.5 644.1Z" fill="#ff6b2e" stroke="#ff6b2e"/>
<path d="M850.5 644.1L855.8 647.1L888.6 604.7L883.5 601.8Z" fill="#ff4f29" stroke="#ff4f29"/>
<path d="M883.5 601.8L888.6 604.7L905.4 583.1L913.1 563.8Z" fill="#ff3826" stroke="#ff3826"/>
<path d="M750.5 751.8L755.9 755.2M769.3 728L774.6 731.3M787.6 704.7L792.9 708M805.5 682L810.8 685.1M823 659.8L828.2 662.8M840.1 638L845.3 641M856.8 616.8L862 619.7M873.2 596L878.3 598.9M889.2 575.7L894.3 578.5M904.9 555.8L909.9 558.5M920.2 536.3L923.4 538M738.6 767L733.8 777.8M807.1 679.9L797.8 701.8M870 600L861.7 620.1" class="m"/>
<path d="M731.3 776.3L736.7 779.7M928 526.4L920.6 544.9" class="b"/>
<path d="M747.5 786.7L753 790.2L790.7 741.3L785.3 738Z" fill="#ff9337" stroke="#ff9337"/>
<path d="M785.3 738L790.7 741.3L826.7 694.7L821.3 691.5Z" fill="#ff7a31" stroke="#ff7a31"/>
<path d="M821.3 691.5L826.7 694.7L861 650.1L855.8 647.1Z" fill="#ff5f2c" stroke="#ff5f2c"/>
<path d="M855.8 647.1L861 650.1L893.8 607.6L888.6 604.7Z" fill="#ff4428" stroke="#ff4428"/>
<path d="M888.6 604.7L893.8 607.6L897.5 602.8L905.4 583.1Z" fill="#ff3225" stroke="#ff3225"/>
<path d="M755.9 755.2L761.3 758.6M774.6 731.3L780 734.6M792.9 708L798.2 711.2M810.8 685.1L816.1 688.3M828.2 662.8L833.5 665.9M845.3 641L850.5 644.1M862 619.7L867.2 622.7M878.3 598.9L883.5 601.8M894.3 578.5L899.4 581.3M909.9 558.5L914.2 560.9M797.8 701.8L788.1 724.1M861.7 620.1L853.2 640.6" class="m"/>
<path d="M736.7 779.7L742.1 783.2M920.6 544.9L913.1 563.8" class="b"/>
<path d="M753 790.2L758.4 793.7L796.1 744.6L790.7 741.3Z" fill="#ff8835" stroke="#ff8835"/>
<path d="M790.7 741.3L796.1 744.6L832 697.9L826.7 694.7Z" fill="#ff6f2f" stroke="#ff6f2f"/>
<path d="M826.7 694.7L832 697.9L866.3 653.2L861 650.1Z" fill="#ff542a" stroke="#ff542a"/>
<path d="M861 650.1L866.3 653.2L889.4 623L895.3 608.4L893.8 607.6Z" fill="#ff3826" stroke="#ff3826"/>
<path d="M893.8 607.6L895.3 608.4L897.5 602.8Z" fill="#ff2f24" stroke="#ff2f24"/>
<path d="M761.3 758.6L766.7 762M780 734.6L785.3 738M798.2 711.2L803.5 714.4M816.1 688.3L821.3 691.5M833.5 665.9L838.7 669M850.5 644.1L855.8 647.1M867.2 622.7L872.4 625.6M883.5 601.8L888.6 604.7M899.4 581.3L904.5 584.2M788.1 724.1L778.3 747M853.2 640.6L844.5 661.6" class="m"/>
<path d="M742.1 783.2L747.5 786.7M913.1 563.8L905.4 583.1" class="b"/>
<path d="M758.4 793.7L763.9 797.2L801.5 748L796.1 744.6Z" fill="#ff7e32" stroke="#ff7e32"/>
<path d="M796.1 744.6L801.5 748L837.3 701.1L832 697.9Z" fill="#ff642d" stroke="#ff642d"/>
<path d="M832 697.9L837.3 701.1L871.5 656.3L866.3 653.2Z" fill="#ff4928" stroke="#ff4928"/>
<path d="M866.3 653.2L871.5 656.3L881.2 643.6L889.4 623Z" fill="#ff3525" stroke="#ff3525"/>
<path d="M766.7 762L772.1 765.4M785.3 738L790.7 741.3M803.5 714.4L808.9 717.7M821.3 691.5L826.7 694.7M838.7 669L844 672.1M855.8 647.1L861 650.1M872.4 625.6L877.6 628.6M888.6 604.7L893.8 607.6M904.5 584.2L904.9 584.3M778.3 747L768.3 770.3M844.5 661.6L835.6 683" class="m"/>
<path d="M747.5 786.7L753 790.2M905.4 583.1L897.5 602.8" class="b"/>
<path d="M763.9 797.2L769.4 800.8L806.9 751.4L801.5 748Z" fill="#ff7430" stroke="#ff7430"/>
<path d="M801.5 748L806.9 751.4L842.7 704.3L837.3 701.1Z" fill="#ff592b" stroke="#ff592b"/>
<path d="M837.3 701.1L842.7 704.3L872.8 664.6L875.3 658.4L871.5 656.3Z" fill="#ff3b26" stroke="#ff3b26"/>
<path d="M871.5 656.3L875.3 658.4L881.2 643.6Z" fill="#ff3124" stroke="#ff3124"/>
<path d="M772.1 765.4L777.5 768.9M790.7 741.3L796.1 744.6M808.9 717.7L814.2 721M826.7 694.7L832 697.9M844 672.1L849.3 675.3M861 650.1L866.3 653.2M877.6 628.6L882.8 631.6M893.8 607.6L895.3 608.4M768.3 770.3L758.3 793.6M835.6 683L826.6 704.9" class="m"/>
<path d="M753 790.2L758.4 793.7M897.5 602.8L889.4 623" class="b"/>
<path d="M769.4 800.8L774.9 804.3L812.4 754.8L806.9 751.4Z" fill="#ff692e" stroke="#ff692e"/>
<path d="M806.9 751.4L812.4 754.8L848.1 707.5L842.7 704.3Z" fill="#ff4e29" stroke="#ff4e29"/>
<path d="M842.7 704.3L848.1 707.5L864.2 686.1L872.8 664.6Z" fill="#ff3725" stroke="#ff3725"/>
<path d="M777.5 768.9L782.9 772.3M796.1 744.6L801.5 748M814.2 721L819.6 724.3M832 697.9L837.3 701.1M849.3 675.3L854.6 678.4M866.3 653.2L871.5 656.3M882.8 631.6L885.4 633.1M826.6 704.9L817.3 727.3" class="m"/>
<path d="M758.4 793.7L763.9 797.2M889.4 623L881.2 643.6" class="b"/>
<path d="M774.9 804.3L780.5 807.9L817.8 758.2L812.4 754.8Z" fill="#ff5e2c" stroke="#ff5e2c"/>
<path d="M812.4 754.8L817.8 758.2L853.5 710.7L848.1 707.5Z" fill="#ff4327" stroke="#ff4327"/>
<path d="M848.1 707.5L853.5 710.7L855.4 708.1L864.2 686.1Z" fill="#ff3225" stroke="#ff3225"/>
<path d="M782.9 772.3L788.4 775.8M801.5 748L806.9 751.4M819.6 724.3L825 727.5M837.3 701.1L842.7 704.3M854.6 678.4L860 681.5M871.5 656.3L875.3 658.4M817.3 727.3L807.8 750.3" class="m"/>
<path d="M763.9 797.2L769.4 800.8M881.2 643.6L872.8 664.6" class="b"/>
<path d="M780.5 807.9L786 811.5L823.3 761.6L817.8 758.2Z" fill="#ff532a" stroke="#ff532a"/>
<path d="M817.8 758.2L823.3 761.6L846.5 730.6L854.2 711.2L853.5 710.7Z" fill="#ff3826" stroke="#ff3826"/>
<path d="M853.5 710.7L854.2 711.2L855.4 708.1Z" fill="#ff2f24" stroke="#ff2f24"/>
<path d="M788.4 775.8L793.9 779.2M806.9 751.4L812.4 754.8M825 727.5L830.4 730.9M842.7 704.3L848.1 707.5M860 681.5L864.9 684.5M807.8 750.3L798 773.7" class="m"/>
<path d="M769.4 800.8L774.9 804.3M872.8 664.6L864.2 686.1" class="b"/>
<path d="M786 811.5L791.6 815L828.8 765L823.3 761.6Z" fill="#ff4728" stroke="#ff4728"/>
<path d="M823.3 761.6L828.8 765L837.3 753.6L846.5 730.6Z" fill="#ff3425" stroke="#ff3425"/>
<path d="M793.9 779.2L799.4 782.7M812.4 754.8L817.8 758.2M830.4 730.9L835.9 734.2M848.1 707.5L853.5 710.7M798 773.7L788.1 797.7" class="m"/>
<path d="M774.9 804.3L780.5 807.9M864.2 686.1L855.4 708.1" class="b"/>
<path d="M791.6 815L797.2 818.6L827.9 777.1L832 766.9L828.8 765Z" fill="#ff3a26" stroke="#ff3a26"/>
<path d="M828.8 765L832 766.9L837.3 753.6Z" fill="#ff3024" stroke="#ff3024"/>
<path d="M799.4 782.7L804.9 786.2M817.8 758.2L823.3 761.6M835.9 734.2L841.3 737.5M853.5 710.7L854.2 711.2M788.1 797.7L783.2 809.6" class="m"/>
<path d="M780.5 807.9L786 811.5M855.4 708.1L846.5 730.6" class="b"/>
<path d="M797.2 818.6L802.8 822.3L818.3 801.2L827.9 777.1Z" fill="#ff3625" stroke="#ff3625"/>
<path d="M804.9 786.2L810.4 789.7M823.3 761.6L828.8 765M841.3 737.5L843.2 738.7" class="m"/>
<path d="M786 811.5L791.6 815M846.5 730.6L837.3 753.6" class="b"/>
<path d="M802.8 822.3L808.4 825.9L808.4 825.9L818.3 801.2Z" fill="#ff3124" stroke="#ff3124"/>
<path d="M810.4 789.7L816 793.2M828.8 765L832 766.9" class="m"/>
<path d="M791.6 815L797.2 818.6M837.3 753.6L827.9 777.1" class="b"/>
<path d="M816 793.2L820.4 796" class="m"/>
<path d="M797.2 818.6L802.8 822.3M827.9 777.1L818.3 801.2" class="b"/>
<path d="M802.8 822.3L808.4 825.9M818.3 801.2L808.4 825.9" class="b"/>
</g>
<path d="M412.5 371.3L821.1 605.6M821.1 605.6L993.4 213.5M813.2 843.2L821.1 605.6" fill="none" stroke="#606060" stroke-opacity="0.85" stroke-width="1.7"/>
<text transform="translate(393.74,408.08) scale(0.5382,1)" font-size="47.04" stroke="#000" stroke-width="0.7" vector-effect="non-scaling-stroke" stroke-linejoin="round">3</text>
<text transform="translate(399.33,474.45) scale(0.6051,1)" font-size="46.86" stroke="#000" stroke-width="0.7" vector-effect="non-scaling-stroke" stroke-linejoin="round">2</text>
<text transform="translate(407.15,537.95) scale(0.4963,1)" font-size="48.26" stroke="#000" stroke-width="0.7" vector-effect="non-scaling-stroke" stroke-linejoin="round">1</text>
<text transform="translate(412.29,598.97) scale(0.5539,1)" font-size="47.89" stroke="#000" stroke-width="0.7" vector-effect="non-scaling-stroke" stroke-linejoin="round">0</text>
<text transform="translate(403.99,649.5) scale(0.6013,1)" font-size="45.14" stroke="#000" stroke-width="0.7" vector-effect="non-scaling-stroke" stroke-linejoin="round">−5</text>
<text transform="translate(551.1,735.79) scale(0.5662,1)" font-size="46.48" stroke="#000" stroke-width="0.7" vector-effect="non-scaling-stroke" stroke-linejoin="round">0</text>
<text transform="translate(694.92,829.47) scale(0.593,1)" font-size="47.57" stroke="#000" stroke-width="0.7" vector-effect="non-scaling-stroke" stroke-linejoin="round">5</text>
<text transform="translate(823.66,862.6) scale(0.6091,1)" font-size="44.93" stroke="#000" stroke-width="0.7" vector-effect="non-scaling-stroke" stroke-linejoin="round">0</text>
<text transform="translate(894.21,682.65) scale(0.622,1)" font-size="46.29" stroke="#000" stroke-width="0.7" vector-effect="non-scaling-stroke" stroke-linejoin="round">2</text>
<text transform="translate(953.68,531.35) scale(0.575,1)" font-size="46.96" stroke="#000" stroke-width="0.7" vector-effect="non-scaling-stroke" stroke-linejoin="round">4</text>
<text transform="translate(557.21,858.65) scale(0.5677,1)" font-size="108.49" stroke="#000" stroke-width="1.3" vector-effect="non-scaling-stroke" stroke-linejoin="round" font-style="italic">x</text>
<text transform="translate(939.2,692.27) scale(0.5358,1)" font-size="118.32" stroke="#000" stroke-width="1.3" vector-effect="non-scaling-stroke" stroke-linejoin="round" font-style="italic">t</text>
<text transform="translate(-6.52,483.36) scale(0.7481,1)" font-size="96.91">|</text>
<text transform="translate(359.7,483.36) scale(0.7223,1)" font-size="96.91">|</text>
<text transform="translate(23.09,483.13) scale(0.5868,1)" font-size="87.32" stroke="#000" stroke-width="1.2" vector-effect="non-scaling-stroke" stroke-linejoin="round">Θ</text>
<text transform="translate(64.19,503.72) scale(0.4351,1)" font-size="82.52" stroke="#000" stroke-width="0.96" vector-effect="non-scaling-stroke" stroke-linejoin="round">1</text>
<text transform="translate(104.59,503.72) scale(0.4351,1)" font-size="82.52" stroke="#000" stroke-width="0.96" vector-effect="non-scaling-stroke" stroke-linejoin="round">1</text>
<text transform="translate(153.89,503.72) scale(0.4351,1)" font-size="82.52" stroke="#000" stroke-width="0.96" vector-effect="non-scaling-stroke" stroke-linejoin="round">1</text>
<text transform="translate(86.17,504.2) scale(0.7562,1)" font-size="72.38">.</text>
<text transform="translate(134.97,504.2) scale(0.7417,1)" font-size="72.38">.</text>
<text transform="translate(177.8,482.25) scale(0.5969,1)" font-size="111.66" stroke="#000" stroke-width="1.2" vector-effect="non-scaling-stroke" stroke-linejoin="round">(x,0,t)</text></g>
<g id="pb"><rect x="1223.9" y="16.3" width="750.6" height="737.7" fill="#7A1E87"/>
<path d="M1531.2 754 L1667.2 754 L1854.8 16.3 L1718.9 16.3 Z" fill="#3F7BD2"/>
<path d="M1548.5 754 L1649.9 754 L1837.5 16.3 L1736.2 16.3 Z" fill="#52A08E"/>
<path d="M1560.2 754 L1638.2 754 L1825.8 16.3 L1747.9 16.3 Z" fill="#98B244"/>
<path d="M1570 754 L1628.4 754 L1816.1 16.3 L1757.6 16.3 Z" fill="#D69C32"/>
<path d="M1580 754 L1618.4 754 L1806 16.3 L1767.7 16.3 Z" fill="#E65E2E"/>
<defs><path id="mq0" d="M0 0h182M264 0h184M182 2h2M172 4h12M182 6h2M0 8h8M152 8h32M268 8h12M440 8h8M182 10h4M172 12h14M268 12h4M184 14h2M268 14h2M0 16h16M112 16h16M144 16h42M270 16h98M432 16h16M186 18h2M270 18h2M176 20h12M270 20h6M186 22h2M270 22h4M152 24h36M272 24h24M186 26h4M272 26h2M180 28h10M272 28h12M188 30h2M272 30h2M0 32h190M272 32h176M190 34h2M180 36h12M190 38h2M160 40h32M276 40h12M190 42h4M180 44h14M276 44h4M192 46h2M144 48h50M276 48h44M336 48h32M416 48h16M194 50h2M184 52h12M280 52h4M194 54h2M168 56h28M280 56h16M194 58h4M188 60h10M280 60h4M196 62h2M0 64h198M280 64h168M198 66h2M188 68h4M196 68h4M284 68h8M198 70h2M168 72h32M284 72h20M188 76h4M196 76h4M284 76h12M144 80h60M284 80h84M384 80h16M416 80h32M200 84h4M288 84h12M288 86h2M184 88h20M288 88h24M288 90h2M288 92h12M288 94h2M0 96h208M288 96h160M200 100h8M290 100h6M290 102h4M176 104h32M292 104h20M320 104h8M292 106h2M204 108h4M292 108h8M292 110h2M144 112h16M176 112h36M294 112h42M352 112h48M294 114h2M204 116h8M294 116h14M294 118h4M184 120h28M296 120h16M320 120h8M296 122h2M208 124h4M296 124h12M296 126h2M0 128h216M296 128h152M212 132h4M300 132h4M184 136h8M200 136h16M300 136h20M212 140h4M300 140h8M300 142h2M176 144h44M302 144h34M352 144h16M400 144h16M302 146h2M216 148h4M302 148h6M302 150h4M184 152h8M208 152h12M304 152h16M304 154h2M304 156h12M304 158h2M0 160h224M304 160h144M216 164h8M308 164h4M192 168h32M308 168h36M220 172h4M308 172h8M160 176h68M308 176h92M416 176h16M220 180h8M312 180h4M200 184h28M312 184h16M312 186h2M224 188h4M312 188h8M312 190h2M0 192h232M312 192h136M224 196h8M316 196h4M216 200h16M316 200h28M230 202h4M224 204h10M316 204h8M232 206h2M160 208h74M316 208h84M416 208h16M234 210h2M224 212h12M320 212h4M234 214h2M216 216h20M320 216h32M234 218h4M228 220h10M320 220h8M236 222h2M0 224h240M320 224h128M232 228h8M324 228h4M216 232h24M324 232h20M236 236h4M324 236h8M192 240h52M324 240h92M432 240h16M236 244h8M328 244h4M224 248h20M328 248h16M240 252h4M328 252h8M0 256h248M328 256h120M246 258h2M330 258h2M236 260h12M330 260h10M246 262h2M330 262h4M232 264h16M332 264h20M246 266h4M332 266h2M236 268h14M332 268h12M248 270h2M208 272h42M332 272h84M250 274h2M244 276h8M336 276h12M250 278h2M240 280h12M336 280h24M250 282h4M252 284h2M336 284h8M0 288h256M336 288h112M252 292h4M340 292h4M240 296h16M340 296h20M256 298h2M252 300h6M340 300h8M256 302h2M192 304h16M224 304h34M340 304h76M258 306h2M256 308h4M344 308h4M352 308h4M258 310h2M240 312h20M344 312h32M258 314h4M256 316h6M344 316h12M260 318h2M0 320h264M344 320h104M256 324h8M348 324h4M248 328h16M348 328h28M260 332h4M348 332h8M192 336h76M348 336h52M432 336h16M260 340h8M352 340h4M232 344h36M352 344h32M264 348h4M352 348h8M0 352h272M352 352h96M264 356h8M356 356h4M248 360h24M356 360h20M268 364h4M356 364h8M240 368h36M356 368h76M268 372h8M360 372h4M256 376h20M360 376h16M272 380h4M360 380h8M0 384h280M360 384h88M278 386h2M268 388h12M364 388h4M278 390h2M264 392h16M364 392h20M278 394h4M268 396h14M364 396h8M280 398h2M240 400h42M364 400h52M282 402h2M276 404h8M368 404h4M282 406h2M264 408h20M368 408h24M282 410h4M280 412h6M368 412h8M0 416h288M368 416h80M370 418h2M280 420h8M370 420h10M370 422h4M256 424h32M372 424h20M288 426h2M372 426h2M284 428h6M372 428h12M288 430h2M372 430h2M0 432h16M240 432h50M374 432h74M290 434h2M374 434h2M284 436h8M374 436h14M290 438h2M374 438h4M0 440h8M264 440h28M376 440h32M290 442h4M288 444h6M376 444h12M292 446h2M0 448h294M376 448h72"/><path id="mq1" d="M0 0v448M8 0v8M8 440v8M16 0v16M16 432v16M32 0v448M64 0v448M96 0v448M112 0v16M128 0v448M144 0v16M144 32v48M144 96v16M152 0v24M160 0v448M168 0v72M172 0v12M176 0v224M180 0v44M182 0v10M184 4v84M184 96v24M184 128v24M186 12v14M188 20v56M190 28v14M192 36v412M194 44v14M196 52v24M198 60v10M200 68v68M200 160v32M204 84v32M208 100v188M208 304v48M212 116v24M216 132v84M216 224v8M216 248v8M220 148v32M220 188v4M224 164v284M228 180v44M230 198v4M232 196v68M232 328v16M234 204v14M236 212v32M236 256v12M238 220v4M240 228v220M244 244v32M246 256v10M248 260v100M250 268v14M252 276v24M254 284v2M256 128v16M256 292v156M258 300v14M260 308v32M262 316v4M264 324v124M268 0v12M268 340v32M268 384v12M270 14v6M272 0v28M272 356v92M274 22v10M276 20v24M276 372v32M278 384v10M280 0v60M280 388v60M282 396v14M284 28v4M284 52v24M284 404v32M284 444v4M286 412v2M288 0v92M288 420v28M290 86v10M290 98v2M290 428v14M292 68v40M292 436v12M294 102v14M294 444v4M296 24v16M296 56v68M298 118v10M300 84v12M300 108v32M302 142v6M304 0v156M306 150v10M308 116v12M308 140v32M312 88v100M314 186v6M316 156v4M316 172v32M320 0v220M324 192v4M324 204v32M328 104v24M328 160v92M330 256v4M332 236v32M334 262v8M336 0v48M336 64v32M336 112v172M340 256v44M344 168v16M344 192v124M348 276v8M348 300v32M352 0v348M356 308v16M356 332v32M360 280v100M364 364v32M368 16v16M368 80v48M368 160v252M370 416v4M372 396v32M374 422v14M376 312v132M378 438v4M380 416v32M384 0v448M388 436v12M392 408v40M400 80v16M400 112v32M400 208v64M400 288v160M408 440v8M416 0v448M432 0v16M432 48v48M432 176v16M432 208v32M432 320v16M432 368v32M432 432v16M440 0v8M440 440v8M448 0v448"/><path id="mq2" d="M0 432l16 16M0 416l32 32M0 384l64 64M0 352l96 96M0 320l128 128M0 288l160 160M0 256l192 192M0 224l224 224M0 192l256 256M256 432l16 16M272 440l8 8M0 160l288 288M288 444l4 4M272 424l22 22M288 436l6 6M240 384l52 52M284 424l6 6M272 408l18 18M284 416l4 4M0 128l286 286M276 400l10 10M264 384l20 20M272 388l10 10M224 336l58 58M276 384l4 4M256 360l22 22M272 372l6 6M0 96l276 276M268 360l6 6M256 344l18 18M268 352l4 4M224 304l46 46M264 340l6 6M248 320l20 20M260 328l6 6M376 444l4 4M0 64l266 266M374 438l10 10M256 316l8 8M374 434l10 10M248 304l14 14M372 428l20 20M256 308l6 6M370 422l10 10M192 240l16 16M224 272l36 36M370 418l30 30M256 300l2 2M368 412l8 8M248 288l10 10M366 406l26 26M366 402l6 6M0 32l256 256M364 396l52 52M244 272l10 10M362 390l6 6M232 256l20 20M362 386l22 22M240 260l10 10M360 380l4 4M208 224l42 42M358 374l74 74M244 256l4 4M358 370l6 6M224 232l22 22M356 364l20 20M240 244l6 6M354 358l6 6M0 0l244 244M354 354l94 94M236 232l6 6M352 348l4 4M224 216l18 18M350 342l18 18M232 220l8 8M350 338l6 6M176 160l62 62M348 332l52 52M228 208l10 10M346 326l6 6M208 184l28 28M346 322l22 22M224 196l10 10M344 316l4 4M32 0l202 202M342 310l106 106M228 192l4 4M342 306l6 6M208 168l22 22M340 300l28 28M224 180l6 6M338 294l6 6M176 128l52 52M338 290l46 46M416 368l16 16M220 168l6 6M336 284l4 4M216 160l10 10M334 278l26 26M220 160l4 4M334 274l6 6M64 0l160 160M332 268l116 116M330 262l10 10M208 136l12 12M330 258l22 22M328 252l8 8M144 64l16 16M176 96l40 40M326 246l58 58M326 242l6 6M184 96l30 30M324 236l28 28M208 116l6 6M322 230l6 6M96 0l116 116M322 226l126 126M204 104l6 6M320 220l4 4M184 80l8 8M200 96l10 10M318 214l18 18M204 96l4 4M318 210l6 6M144 32l64 64M316 204l52 52M400 288l16 16M314 198l6 6M176 56l28 28M314 194l22 22M312 188l4 4M128 0l74 74M310 182l138 138M192 60l8 8M310 178l6 6M168 32l30 30M308 172l28 28M188 48l10 10M306 166l6 6M144 0l52 52M306 162l46 46M376 232l24 24M184 36l10 10M304 156l4 4M168 16l26 26M302 150l18 18M184 28l8 8M302 146l10 10M160 0l30 30M300 140l148 148M180 16l10 10M298 134l6 6M168 0l20 20M298 130l22 22M176 4l10 10M296 124l4 4M176 0l10 10M294 118l90 90M180 0l4 4M294 114l10 10M292 108l20 20M290 102l10 10M290 98l158 158M288 92l4 4M286 86l18 18M286 82l10 10M284 76l52 52M376 168l8 8M282 70l10 10M282 66l30 30M280 56l168 168M276 44l12 12M272 32l48 48M272 28l4 4M270 22l10 10M270 18l10 10M268 12l180 180M264 0l16 16M272 0l48 48M288 0l160 160M320 16l16 16M344 40l8 8M320 0l128 128M352 0l96 96M384 0l64 64M416 0l32 32M432 0l16 16"/><path id="mq3" d="M0 8l4 -4M0 16l16 -16M0 32l32 -32M112 16l16 -16M136 8l8 -8M128 32l32 -32M164 4l4 -4M152 24l24 -24M176 4l4 -4M168 16l16 -16M180 8l4 -4M128 64l56 -56M180 16l6 -6M168 32l18 -18M182 22l6 -6M152 56l36 -36M184 28l4 -4M176 40l14 -14M184 36l6 -6M128 96l64 -64M188 40l4 -4M176 56l16 -16M188 48l6 -6M168 72l26 -26M190 54l6 -6M180 68l16 -16M192 60l4 -4M128 128l70 -70M194 66l4 -4M184 80l16 -16M198 70l2 -2M168 104l32 -32M268 4l4 -4M188 92l4 -4M196 84l8 -8M268 12l4 -4M268 16l2 -2M144 144l60 -60M270 18l18 -18M270 22l4 -4M192 104l12 -12M272 24l8 -8M272 28l4 -4M168 136l8 -8M184 120l24 -24M272 32l32 -32M204 104l4 -4M276 32l4 -4M200 112l8 -8M276 36l8 -8M208 108l2 -2M160 160l50 -50M276 44l44 -44M208 116l4 -4M200 128l12 -12M276 52l8 -8M210 122l2 -2M184 152l30 -30M280 56l24 -24M320 16l16 -16M212 128l2 -2M208 136l8 -8M280 64l8 -8M282 66l2 -2M160 192l56 -56M282 70l70 -70M284 72l2 -2M212 148l8 -8M284 76l12 -12M284 80l6 -6M176 192l44 -44M286 82l18 -18M312 56l8 -8M286 86l6 -6M208 168l12 -12M288 88l12 -12M288 92l4 -4M160 224l64 -64M288 96l96 -96M220 168l4 -4M290 98l6 -6M208 184l4 -4M216 176l8 -8M290 102l14 -14M224 172l2 -2M292 104l2 -2M200 200l26 -26M292 108l28 -28M344 56l8 -8M224 180l4 -4M292 112l6 -6M216 192l12 -12M294 114l10 -10M226 186l2 -2M294 118l6 -6M192 224l38 -38M296 120l72 -72M384 32l32 -32M224 196l2 -2M228 192l2 -2M296 124l4 -4M220 204l12 -12M296 128l12 -12M228 200l4 -4M298 130l6 -6M192 240l8 -8M208 224l24 -24M298 134l30 -30M228 208l6 -6M300 136l2 -2M224 216l10 -10M300 140l16 -16M230 214l6 -6M300 144l4 -4M0 448l16 -16M192 256l44 -44M302 146l114 -114M432 16l16 -16M232 220l4 -4M302 150l4 -4M224 232l14 -14M304 152l8 -8M236 224l2 -2M304 156l4 -4M208 256l32 -32M304 160l16 -16M336 128l8 -8M236 232l4 -4M306 162l6 -6M232 240l8 -8M306 166l14 -14M240 236l2 -2M308 168l2 -2M192 288l50 -50M308 172l140 -140M240 244l4 -4M308 176l4 -4M228 260l16 -16M310 178l10 -10M324 164l4 -4M242 250l2 -2M310 182l2 -2M224 272l22 -22M312 184l24 -24M240 260l6 -6M312 188l4 -4M236 268l12 -12M312 192l12 -12M244 264l4 -4M314 194l4 -4M192 320l56 -56M314 198l86 -86M416 96l32 -32M244 272l6 -6M316 200l2 -2M244 276l6 -6M316 204l12 -12M246 278l6 -6M316 208l4 -4M208 320l8 -8M224 304l28 -28M318 210l34 -34M250 282l2 -2M318 214l2 -2M248 288l6 -6M320 216l8 -8M332 204l4 -4M320 220l4 -4M192 352l64 -64M320 224l128 -128M322 226l2 -2M248 304l8 -8M322 230l14 -14M256 300l2 -2M324 232l2 -2M224 336l34 -34M324 236l28 -28M360 200l24 -24M256 308l4 -4M324 240l4 -4M248 320l4 -4M256 312l4 -4M326 242l10 -10M256 316l4 -4M326 246l2 -2M208 368l54 -54M328 248l120 -120M260 320l2 -2M328 252l4 -4M252 332l12 -12M328 256l12 -12M260 328l4 -4M330 258l2 -2M240 352l24 -24M330 262l38 -38M376 216l8 -8M264 332l2 -2M332 264l4 -4M248 352l4 -4M256 344l10 -10M332 268l12 -12M264 340l4 -4M332 272l6 -6M208 400l60 -60M334 274l114 -114M266 346l2 -2M334 278l2 -2M338 274l2 -2M256 360l14 -14M336 280l16 -16M268 352l2 -2M336 284l4 -4M248 376l24 -24M336 288l32 -32M376 248l16 -16M268 360l4 -4M338 290l2 -2M264 368l8 -8M338 294l14 -14M272 364l2 -2M340 296l2 -2M224 416l50 -50M340 300l92 -92M272 372l4 -4M340 304l4 -4M260 388l16 -16M342 306l14 -14M274 378l2 -2M342 310l2 -2M248 408l30 -30M344 312l24 -24M392 264l8 -8M272 388l6 -6M344 316l4 -4M268 396l12 -12M344 320l16 -16M276 392l4 -4M346 322l2 -2M224 448l56 -56M346 326l102 -102M276 400l6 -6M348 328l2 -2M272 408l10 -10M348 332l16 -16M278 406l6 -6M348 336l4 -4M256 432l28 -28M350 338l34 -34M392 296l8 -8M282 410l2 -2M350 342l2 -2M272 424l14 -14M352 344l8 -8M364 332l4 -4M284 416l2 -2M352 348l4 -4M256 448l32 -32M352 352l96 -96M284 424l4 -4M354 354l2 -2M272 440l4 -4M280 432l8 -8M354 358l14 -14M288 428l2 -2M356 360l2 -2M272 448l18 -18M356 364l28 -28M408 312l8 -8M288 436l4 -4M356 368l4 -4M280 448l12 -12M358 370l10 -10M288 444l4 -4M358 374l2 -2M288 448l6 -6M360 376l88 -88M292 448l2 -2M360 380l4 -4M360 384l12 -12M362 386l2 -2M362 390l30 -30M364 392l2 -2M364 396l12 -12M364 400l4 -4M366 402l82 -82M366 406l2 -2M368 408l8 -8M368 412l4 -4M368 416l32 -32M416 368l8 -8M370 418l2 -2M370 422l14 -14M372 424l4 -4M372 428l76 -76M372 432l6 -6M374 434l14 -14M374 438l6 -6M376 440l24 -24M376 444l4 -4M376 448l16 -16M382 446l2 -2M384 448l64 -64M392 448l4 -4M400 448l24 -24M416 448l32 -32M432 448l16 -16M440 448l4 -4"/></defs>
<g transform="translate(1223.9,754) scale(1.67545,-1.64665)" fill="none" stroke="#000" stroke-linecap="butt">
<use href="#mq0" stroke-opacity="0.3" stroke-width="1.91"/>
<use href="#mq0" stroke-opacity="0.14" stroke-width="0.657"/>
<use href="#mq1" stroke-opacity="0.3" stroke-width="1.91"/>
<use href="#mq1" stroke-opacity="0.14" stroke-width="0.657"/>
<use href="#mq2" stroke-opacity="0.3" stroke-width="1.91"/>
<use href="#mq2" stroke-opacity="0.14" stroke-width="0.657"/>
<use href="#mq3" stroke-opacity="0.3" stroke-width="1.91"/>
<use href="#mq3" stroke-opacity="0.14" stroke-width="0.657"/>
<path d="M182 0h82M184 2h2M234 2h4M240 2h4M246 2h4M254 2h2M184 4h36M228 4h40M184 6h2M234 6h4M242 6h8M254 6h4M184 8h84M186 10h2M236 10h4M242 10h4M248 10h4M254 10h4M186 12h34M236 12h32M186 14h4M238 14h8M250 14h2M256 14h4M266 14h2M186 16h84M188 18h2M244 18h4M250 18h4M258 18h2M266 18h4M188 20h4M196 20h24M236 20h34M188 22h2M246 22h8M258 22h4M268 22h2M188 24h84M190 26h2M252 26h4M258 26h4M270 26h2M190 28h34M236 28h36M190 30h2M254 30h2M260 30h4M270 30h2M190 32h82M192 34h2M200 34h4M208 34h2M214 34h8M242 34h4M248 34h4M254 34h2M192 36h36M236 36h40M192 38h2M202 38h4M208 38h4M214 38h4M220 38h4M242 38h4M250 38h6M192 40h84M194 42h2M202 42h4M210 42h8M222 42h4M244 42h4M250 42h4M194 44h38M240 44h16M260 44h8M272 44h4M194 46h4M204 46h2M210 46h4M216 46h4M222 46h4M246 46h8M194 48h82M196 50h2M204 50h4M212 50h2M218 50h8M246 50h4M252 50h4M196 52h36M240 52h24M276 52h4M196 54h2M206 54h4M212 54h4M218 54h4M224 54h4M246 54h4M254 54h2M196 56h84M198 58h2M206 58h4M214 58h8M226 58h4M248 58h4M254 58h2M198 60h38M244 60h20M276 60h4M198 62h4M208 62h2M214 62h4M220 62h4M226 62h4M250 62h6M198 64h82M200 66h2M208 66h4M216 66h2M222 66h2M200 68h36M248 68h36M200 70h2M210 70h4M216 70h4M222 70h2M200 72h84M202 74h2M210 74h4M218 74h6M200 76h36M252 76h24M280 76h4M212 78h2M218 78h4M204 80h80M212 82h4M220 82h2M204 84h4M212 84h24M252 84h28M284 84h4M214 86h4M220 86h4M204 88h84M222 90h2M204 92h36M252 92h28M284 92h4M222 94h2M208 96h80M258 98h4M264 98h4M270 98h4M278 98h2M286 98h4M208 100h4M216 100h28M256 100h34M266 102h8M278 102h4M288 102h2M208 104h84M266 106h4M272 106h4M278 106h4M290 106h2M208 108h4M216 108h28M260 108h32M274 110h2M280 110h4M290 110h2M212 112h82M274 114h4M282 114h2M290 114h4M212 116h4M220 116h24M260 116h34M282 118h4M292 118h2M212 120h84M282 122h4M294 122h2M212 124h36M260 124h36M286 126h2M294 126h2M216 128h80M216 132h4M224 132h28M264 132h36M288 134h2M216 136h40M264 136h36M288 138h2M216 140h4M224 140h28M268 140h32M288 142h4M298 142h2M220 144h82M290 146h2M298 146h4M220 148h4M228 148h24M268 148h34M290 150h4M300 150h2M220 152h84M290 154h4M302 154h2M220 156h36M276 156h28M292 158h4M302 158h2M224 160h80M232 162h4M240 162h2M246 162h8M288 162h2M224 164h36M272 164h36M234 166h4M240 166h4M246 166h4M252 166h4M288 166h2M224 168h84M234 170h4M242 170h8M254 170h4M288 170h4M294 170h4M224 172h4M232 172h32M276 172h24M304 172h4M242 174h4M248 174h4M254 174h4M290 174h2M296 174h4M228 176h80M244 178h2M250 178h8M290 178h4M298 178h2M228 180h4M236 180h28M272 180h40M246 182h2M250 182h4M256 182h4M288 182h6M298 182h4M308 182h2M228 184h84M250 186h4M258 186h4M280 186h2M288 186h2M292 186h4M298 186h4M310 186h2M228 188h40M276 188h36M254 190h2M258 190h4M282 190h4M288 190h2M294 190h2M300 190h4M310 190h2M232 192h80M288 194h2M232 196h4M240 196h28M280 196h36M290 198h4M232 200h84M290 202h4M296 202h2M234 204h2M240 204h28M284 204h24M312 204h4M234 206h4M288 206h6M298 206h2M234 208h82M236 210h2M288 210h2M292 210h4M298 210h4M236 212h32M284 212h28M316 212h4M236 214h2M288 214h2M294 214h8M306 214h4M236 216h84M238 218h2M246 218h4M288 218h4M294 218h4M300 218h4M306 218h4M238 220h34M284 220h36M238 222h4M248 222h2M290 222h8M302 222h2M308 222h4M240 224h80M240 228h4M248 228h28M288 228h36M240 232h84M240 236h4M248 236h28M292 236h24M320 236h4M244 240h80M244 244h4M252 244h8M264 244h12M292 244h28M324 244h4M244 248h84M244 252h24M272 252h8M300 252h12M316 252h4M324 252h4M248 256h80M248 258h2M298 258h4M304 258h4M310 258h4M318 258h2M326 258h4M248 260h12M264 260h12M292 260h38M248 262h2M298 262h4M306 262h8M318 262h2M328 262h2M248 264h84M250 266h2M300 266h4M306 266h4M312 266h4M318 266h2M330 266h2M250 268h34M300 268h24M328 268h4M250 270h4M302 270h8M314 270h2M250 272h82M252 274h2M308 274h4M314 274h4M252 276h4M260 276h24M300 276h28M332 276h4M252 278h2M310 278h8M252 280h84M254 282h2M316 282h4M254 284h34M300 284h28M332 284h4M254 286h2M318 286h2M256 288h80M256 290h2M264 290h4M272 290h2M278 290h8M306 290h4M312 290h4M318 290h2M256 292h36M300 292h40M256 294h2M266 294h4M272 294h4M278 294h4M284 294h4M306 294h4M314 294h6M256 296h84M258 298h2M266 298h4M274 298h8M286 298h4M308 298h4M314 298h4M258 300h38M304 300h28M336 300h4M258 302h4M268 302h2M274 302h4M280 302h4M286 302h4M310 302h8M258 304h82M260 306h2M268 306h4M276 306h2M282 306h8M310 306h4M316 306h4M260 308h36M304 308h32M340 308h4M260 310h2M270 310h4M276 310h4M282 310h4M288 310h4M310 310h4M318 310h2M260 312h84M262 314h2M270 314h4M278 314h8M290 314h4M312 314h4M318 314h2M262 316h38M308 316h28M340 316h4M262 318h4M272 318h2M278 318h4M284 318h4M290 318h4M314 318h6M264 320h80M290 322h4M314 322h4M264 324h4M272 324h28M308 324h40M294 326h2M314 326h4M264 328h84M316 330h4M264 332h4M272 332h32M312 332h28M344 332h4M318 334h2M268 336h80M318 338h2M268 340h4M276 340h24M312 340h32M348 340h4M318 342h2M268 344h84M268 348h36M316 348h28M348 348h4M272 352h80M294 354h8M272 356h4M280 356h28M316 356h12M332 356h24M294 358h4M300 358h4M322 358h4M272 360h84M302 362h4M324 362h4M272 364h4M280 364h32M320 364h16M340 364h8M352 364h4M302 366h4M326 366h8M276 368h80M326 370h4M332 370h4M276 372h4M284 372h28M320 372h24M356 372h4M326 374h4M334 374h8M276 376h84M328 378h4M334 378h4M340 378h4M276 380h36M324 380h24M356 380h4M330 382h8M342 382h2M348 382h2M280 384h80M280 386h2M280 388h36M328 388h36M280 390h2M280 392h84M282 394h2M282 396h34M328 396h28M360 396h4M282 398h4M282 400h82M284 402h2M334 402h4M284 404h4M292 404h24M328 404h32M364 404h4M284 406h2M334 406h4M284 408h84M286 410h2M336 410h4M342 410h4M286 412h38M332 412h28M364 412h4M286 414h2M338 414h8M288 416h80M288 418h2M296 418h4M304 418h2M310 418h8M338 418h4M344 418h4M350 418h2M358 418h2M366 418h4M288 420h36M332 420h38M288 422h2M298 422h4M304 422h4M310 422h4M316 422h4M338 422h4M346 422h6M358 422h4M368 422h2M288 424h84M290 426h2M298 426h4M306 426h8M318 426h2M340 426h4M346 426h4M370 426h2M290 428h34M336 428h36M290 430h4M300 430h2M306 430h4M312 430h4M318 430h2M342 430h8M370 430h2M290 432h84M292 434h2M300 434h4M308 434h2M314 434h6M342 434h4M348 434h4M370 434h4M292 436h32M340 436h28M372 436h2M292 438h2M302 438h4M308 438h4M314 438h4M342 438h4M350 438h2M292 440h84M294 442h2M302 442h4M310 442h8M346 442h2M350 442h2M294 444h34M340 444h28M372 444h4M294 446h4M304 446h2M310 446h4M316 446h4M350 446h2M294 448h82M184 0v4M186 0v12M188 0v20M190 14v14M192 0v36M194 32v12M196 0v16M196 20v32M198 46v14M200 0v68M202 32v4M202 38v4M202 62v12M204 0v84M206 38v4M206 46v6M206 54v4M208 0v100M210 34v6M210 42v4M210 54v4M210 62v6M210 70v4M212 0v116M214 32v14M214 50v6M214 58v4M214 70v4M214 78v6M216 0v132M218 32v30M218 66v6M218 74v4M218 86v4M220 4v88M220 96v16M220 116v32M222 32v46M222 82v6M222 90v4M224 0v164M226 42v22M226 160v2M228 0v4M228 32v112M228 148v32M230 58v6M232 0v196M234 0v6M234 160v4M234 166v4M234 202v2M236 0v28M236 32v4M236 60v4M236 68v108M236 180v32M238 0v14M238 166v4M238 206v14M240 0v228M242 0v18M242 32v6M242 162v6M242 170v4M242 222v2M244 0v64M244 100v108M244 212v32M246 2v20M246 32v22M246 160v14M246 178v4M246 214v4M248 0v260M250 2v4M250 8v6M250 18v8M250 32v32M250 160v26M250 222v2M250 256v12M252 0v92M252 132v108M252 244v32M254 0v2M254 6v4M254 18v4M254 24v6M254 34v30M254 160v30M254 270v14M256 0v128M256 144v148M258 6v4M258 12v6M258 22v4M258 96v2M258 170v22M258 288v12M260 0v32M260 36v8M260 48v12M260 64v60M260 164v76M260 244v8M260 260v12M260 276v32M262 22v4M262 28v4M262 96v6M262 186v6M262 302v14M264 0v324M266 10v8M266 96v10M266 288v4M266 294v4M266 318v2M268 12v32M268 52v8M268 64v84M268 188v4M268 196v56M268 260v80M270 20v12M270 98v12M270 294v4M270 302v6M270 310v4M272 28v328M274 98v4M274 104v6M274 290v6M274 298v4M274 310v4M274 318v2M276 44v32M276 80v112M276 228v16M276 248v88M276 340v32M278 96v2M278 102v4M278 114v4M278 288v14M278 306v6M278 314v4M280 60v328M282 102v4M282 108v6M282 118v4M282 186v6M282 288v30M282 384v12M284 76v80M284 160v60M284 268v8M284 280v88M284 372v32M286 96v2M286 118v4M286 124v2M286 190v2M286 288v32M286 398v14M288 92v328M290 100v14M290 134v4M290 140v6M290 150v4M290 162v4M290 168v6M290 178v14M290 194v30M290 298v24M290 416v12M292 108v124M292 236v8M292 256v4M292 288v112M292 404v32M294 116v12M294 150v4M294 156v4M294 166v4M294 178v4M294 184v6M294 198v26M294 314v12M294 352v6M294 430v14M296 124v324M298 138v8M298 172v6M298 182v4M298 202v4M298 210v14M298 256v6M298 352v10M298 416v4M298 422v4M298 446v2M300 140v144M300 288v4M300 316v132M302 148v12M302 182v4M302 188v4M302 210v4M302 216v6M302 256v14M302 352v14M302 422v4M302 430v6M302 438v4M304 156v292M306 214v4M306 256v18M306 288v6M306 362v8M306 418v6M306 426v4M306 438v4M306 446v2M308 172v32M308 208v44M308 256v68M308 352v96M310 182v10M310 214v4M310 220v4M310 258v20M310 288v22M310 416v14M310 434v6M310 442v4M312 188v260M314 258v4M314 264v6M314 274v8M314 288v38M314 416v30M316 204v32M316 240v12M316 256v92M316 352v4M316 388v60M318 222v2M318 256v2M318 262v4M318 274v4M318 280v6M318 290v52M318 416v32M320 220v228M322 354v4M324 236v32M324 272v112M324 412v36M326 256v2M326 358v16M328 252v196M330 260v6M330 362v22M332 268v32M332 304v48M332 356v64M334 366v18M334 398v8M336 284v164M338 370v14M338 402v20M340 300v32M340 336v16M340 356v8M340 368v76M342 376v6M342 406v32M344 316v132M346 410v32M348 332v32M348 372v76M350 382v2M350 418v28M352 348v100M356 364v32M356 400v48M358 416v2M360 380v68M362 422v4M364 396v32M364 432v16M366 416v2M368 412v36M370 420v14M372 428v20M374 436v2M376 444v4M294 446l2 2M294 442l6 6M292 436l12 12M290 430l6 6M300 440l8 8M290 426l22 22M288 420l4 4M296 428l20 20M286 414l34 34M286 410l6 6M296 420l28 28M284 404l44 44M282 398l6 6M292 408l6 6M300 416l28 28M282 394l54 54M280 388l4 4M294 402l6 6M302 410l4 4M308 416l16 16M278 382l50 50M336 440l8 8M278 378l6 6M290 390l4 4M296 396l6 6M304 404l6 6M312 412l8 8M346 446l2 2M276 372l76 76M274 366l6 6M284 376l6 6M296 388l24 24M340 432l14 14M274 362l86 86M272 356l4 4M286 370l6 6M294 378l4 4M302 386l6 6M310 394l6 6M336 420l24 24M270 350l98 98M270 346l6 6M282 358l4 4M288 364l6 6M296 372l6 6M304 380l6 6M332 408l20 20M354 430l6 6M362 438l4 4M268 340l108 108M266 334l6 6M276 344l6 6M288 356l24 24M332 400l22 22M356 424l6 6M372 440l4 4M266 330l108 108M264 324l4 4M278 338l6 6M286 346l4 4M292 352l16 16M328 388l24 24M356 416l8 8M368 428l6 6M262 318l110 110M262 314l6 6M274 326l4 4M280 332l6 6M288 340l6 6M296 348l12 12M324 376l12 12M338 390l6 6M346 398l6 6M354 406l4 4M364 416l6 6M260 308l110 110M258 302l6 6M268 312l8 8M280 324l24 24M324 368l16 16M342 386l4 4M348 392l6 6M364 408l4 4M258 298l108 108M256 292l4 4M264 300l20 20M286 322l6 6M294 330l6 6M320 356l28 28M350 386l6 6M360 396l6 6M256 288l108 108M254 282l6 6M264 292l36 36M316 344l4 4M322 350l2 2M356 384l6 6M252 276l110 110M250 270l6 6M260 280l6 6M268 288l28 28M316 336l6 6M324 344l6 6M356 376l4 4M250 266l108 108M248 260l4 4M262 274l6 6M270 282l4 4M276 288l16 16M312 324l24 24M352 364l6 6M246 254l110 110M246 250l6 6M258 262l4 4M264 268l6 6M272 276l6 6M280 284l12 12M308 312l12 12M322 326l6 6M330 334l6 6M338 342l4 4M352 356l2 2M244 244l110 110M242 238l6 6M252 248l4 4M308 304l14 14M326 322l4 4M332 328l6 6M348 344l4 4M242 234l42 42M288 280l62 62M240 228l4 4M254 242l2 2M304 292l24 24M334 322l6 6M344 332l6 6M238 222l110 110M238 218l6 6M250 230l4 4M306 286l14 14M322 302l6 6M330 310l4 4M340 320l6 6M236 212l52 52M296 272l50 50M234 206l6 6M244 216l8 8M300 272l6 6M308 280l6 6M316 288l6 6M324 296l6 6M340 312l4 4M234 202l108 108M232 196l4 4M246 210l6 6M254 218l4 4M262 226l6 6M270 234l6 6M296 260l24 24M326 290l6 6M336 300l6 6M230 190l50 50M288 248l52 52M230 186l6 6M242 198l4 4M248 204l6 6M256 212l6 6M264 220l6 6M300 256l20 20M322 278l4 4M332 288l6 6M228 180l110 110M226 174l6 6M236 184l6 6M248 196l24 24M308 256l14 14M332 280l4 4M226 170l62 62M292 236l42 42M224 164l4 4M238 178l6 6M246 186l4 4M254 194l6 6M262 202l6 6M316 256l8 8M328 268l6 6M224 160l108 108M224 156l4 4M232 164l30 30M288 220l8 8M298 230l6 6M306 238l6 6M314 246l4 4M324 256l6 6M220 148l52 52M280 208l50 50M228 152l6 6M236 160l28 28M284 208l16 16M302 226l4 4M308 232l6 6M324 248l4 4M216 136l110 110M230 146l6 6M238 154l4 4M244 160l16 16M280 196l28 28M310 226l6 6M320 236l6 6M214 126l110 110M214 122l6 6M226 134l4 4M232 140l6 6M240 148l6 6M248 156l12 12M276 184l36 36M316 224l6 6M212 116l110 110M210 110l6 6M220 120l6 6M232 132l24 24M276 176l6 6M284 184l8 8M294 194l4 4M300 200l6 6M316 216l4 4M210 106l46 46M264 160l54 54M208 100l4 4M222 114l6 6M230 122l4 4M238 130l6 6M246 138l6 6M272 164l28 28M302 194l6 6M312 204l6 6M208 96l108 108M218 102l4 4M224 108l6 6M232 116l6 6M240 124l6 6M276 160l4 4M282 166l22 22M308 192l6 6M204 84l52 52M264 144l50 50M224 100l24 24M286 162l18 18M308 184l4 4M202 74l108 108M200 68l4 4M208 76l18 18M230 98l6 6M238 106l6 6M264 132l28 28M294 162l6 6M304 172l6 6M198 62l50 50M256 120l52 52M198 58l6 6M208 68l22 22M232 92l6 6M266 126l6 6M274 134l6 6M282 142l14 14M300 160l6 6M196 52l110 110M194 46l6 6M204 56l36 36M260 112l6 6M268 120l6 6M278 130l4 4M284 136l12 12M300 152l4 4M194 42l108 108M192 36l4 4M200 44l28 28M230 74l6 6M256 100l24 24M286 130l6 6M296 140l6 6M190 30l110 110M190 26l6 6M200 36l30 30M258 94l30 30M292 128l6 6M188 20l52 52M248 80l50 50M186 14l6 6M196 24l6 6M204 32l28 28M252 80l6 6M260 88l6 6M268 96l20 20M292 120l4 4M186 10l108 108M184 4l4 4M198 18l6 6M206 26l4 4M212 32l16 16M248 68l24 24M276 96l8 8M288 108l6 6M184 0l108 108M194 6l4 4M200 12l6 6M208 20l6 6M216 28l12 12M244 56l12 12M258 70l6 6M266 78l6 6M274 86l4 4M284 96l6 6M192 0l98 98M200 4l24 24M244 48l12 12M262 66l4 4M268 72l6 6M284 88l4 4M200 0l86 86M206 2l6 6M214 10l6 6M240 36l16 16M270 66l6 6M280 76l6 6M208 0l76 76M212 0l2 2M242 30l14 14M276 64l6 6M216 0l8 8M232 16l50 50M236 16l6 6M244 24l6 6M252 32l4 4M224 0l56 56M232 4l28 28M232 0l44 44M236 0l28 28M240 0l32 32M244 0l20 20M268 24l4 4M248 0l22 22M252 0l8 8M264 12l6 6M256 0l12 12M184 4l4 -4M184 8l8 -8M186 10l2 -2M192 4l4 -4M186 14l14 -14M188 16l2 -2M194 10l4 -4M200 4l2 -2M188 20l20 -20M188 24l4 -4M196 16l2 -2M200 12l12 -12M190 26l26 -26M190 30l2 -2M196 24l4 -4M204 16l12 -12M192 32l32 -32M192 36l4 -4M200 28l18 -18M192 40l32 -32M228 4l4 -4M194 42l2 -2M200 36l4 -4M206 30l14 -14M232 4l4 -4M194 46l46 -46M196 48l2 -2M200 44l20 -20M234 10l10 -10M196 52l28 -28M232 16l16 -16M196 56l4 -4M204 48l20 -20M236 16l16 -16M198 58l58 -58M198 62l2 -2M204 56l20 -20M238 22l20 -20M200 64l64 -64M200 68l4 -4M206 62l22 -22M240 28l20 -20M200 72l68 -68M202 74l2 -2M208 68l20 -20M240 36l20 -20M264 12l2 -2M204 76l64 -64M208 76l22 -22M242 42l10 -10M254 30l10 -10M266 18l2 -2M204 84l66 -66M212 80l20 -20M244 48l12 -12M260 32l4 -4M268 24l2 -2M204 92l68 -68M214 86l18 -18M244 56l12 -12M268 32l4 -4M208 96l64 -64M208 100l4 -4M218 90l16 -16M248 60l8 -8M208 104l32 -32M244 68l32 -32M210 106l2 -2M216 100l4 -4M222 94l14 -14M248 68l8 -8M210 110l66 -66M212 112l2 -2M218 106l4 -4M224 100l2 -2M228 96l8 -8M252 72l8 -8M212 116l28 -28M248 80l28 -28M212 120l4 -4M220 112l2 -2M224 108l16 -16M252 80l14 -14M214 122l66 -66M214 126l2 -2M220 120l4 -4M228 112l12 -12M254 86l18 -18M216 128l64 -64M224 124l18 -18M256 92l12 -12M272 76l4 -4M280 68l2 -2M216 136l66 -66M224 132l4 -4M230 126l14 -14M256 100l16 -16M274 82l2 -2M280 76l4 -4M220 140l28 -28M256 104l28 -28M226 138l4 -4M232 132l2 -2M236 128l8 -8M260 104l8 -8M270 94l2 -2M274 90l4 -4M282 82l2 -2M220 148l66 -66M228 144l2 -2M232 140l16 -16M260 112l20 -20M284 88l2 -2M220 156l32 -32M256 120l32 -32M228 152l4 -4M236 144l12 -12M262 118l20 -20M284 96l4 -4M224 160l64 -64M224 164l4 -4M232 156l18 -18M264 124l20 -20M288 100l2 -2M224 168l32 -32M260 132l30 -30M226 170l2 -2M232 164l4 -4M238 158l14 -14M264 132l20 -20M288 108l4 -4M226 174l66 -66M228 176l2 -2M234 170l18 -18M268 136l8 -8M278 126l2 -2M282 122l6 -6M290 114l2 -2M228 180l28 -28M264 144l30 -30M228 184l4 -4M236 176l20 -20M270 142l12 -12M284 128l4 -4M292 120l2 -2M230 186l66 -66M230 190l2 -2M236 184l4 -4M242 178l14 -14M274 146l16 -16M292 128l4 -4M232 192l32 -32M268 156l28 -28M232 196l4 -4M240 188l20 -20M278 150l6 -6M288 140l4 -4M296 132l2 -2M232 200l66 -66M234 202l2 -2M240 196l4 -4M246 190l14 -14M272 164l4 -4M282 154l10 -10M296 140l4 -4M234 206l34 -34M272 168l28 -28M236 208l2 -2M242 202l4 -4M248 196l2 -2M252 192l10 -10M276 168l8 -8M286 158l10 -10M298 146l2 -2M236 212l66 -66M236 216l4 -4M244 208l2 -2M248 204l16 -16M276 176l14 -14M292 160l4 -4M300 152l2 -2M238 218l66 -66M238 222l2 -2M244 216l4 -4M252 208l12 -12M276 184l20 -20M300 160l4 -4M240 224l64 -64M240 228l4 -4M246 222l20 -20M280 188l20 -20M304 164l2 -2M240 232l32 -32M276 196l30 -30M242 234l2 -2M248 228l20 -20M280 196l20 -20M304 172l4 -4M242 238l66 -66M244 240l2 -2M250 234l4 -4M260 224l8 -8M284 200l20 -20M306 178l2 -2M244 244l28 -28M280 208l30 -30M244 248l4 -4M252 240l2 -2M262 230l10 -10M284 208l14 -14M300 192l4 -4M308 184l2 -2M246 250l66 -66M246 254l2 -2M252 248l4 -4M266 234l6 -6M286 214l18 -18M308 192l4 -4M248 256l64 -64M248 260l4 -4M270 238l4 -4M288 220l14 -14M304 204l4 -4M312 196l2 -2M248 264l66 -66M250 266l2 -2M256 260l2 -2M274 242l2 -2M290 226l18 -18M312 204l4 -4M250 270l30 -30M288 232l28 -28M252 272l2 -2M258 266l4 -4M294 230l16 -16M314 210l2 -2M252 276l66 -66M252 280l4 -4M260 272l2 -2M264 268l2 -2M298 234l8 -8M308 224l4 -4M316 216l2 -2M254 282l26 -26M288 248l32 -32M254 286l2 -2M260 280l4 -4M268 272l2 -2M302 238l10 -10M316 224l4 -4M256 288l64 -64M256 292l4 -4M264 284l10 -10M306 242l2 -2M312 236l4 -4M320 228l2 -2M256 296l32 -32M292 260l30 -30M258 298l2 -2M264 292l4 -4M270 286l8 -8M296 260l4 -4M310 246l2 -2M314 242l2 -2M320 236l4 -4M258 302l66 -66M260 304l2 -2M264 300l18 -18M298 266l10 -10M314 250l4 -4M322 242l2 -2M260 308l28 -28M296 272l30 -30M260 312l4 -4M268 304l18 -18M300 272l16 -16M318 254l2 -2M324 248l2 -2M262 314l66 -66M262 318l2 -2M268 312l20 -20M302 278l18 -18M324 256l4 -4M264 320l64 -64M264 324l4 -4M270 318l22 -22M304 284l20 -20M328 260l2 -2M264 328l66 -66M266 330l2 -2M272 324l20 -20M304 292l16 -16M322 274l2 -2M328 268l4 -4M266 334l66 -66M268 336l2 -2M274 330l4 -4M280 324l2 -2M284 320l10 -10M306 298l10 -10M318 286l2 -2M322 282l4 -4M330 274l2 -2M268 340l66 -66M268 344l4 -4M276 336l2 -2M280 332l16 -16M308 304l14 -14M324 288l4 -4M332 280l2 -2M270 346l66 -66M270 350l2 -2M276 344l4 -4M284 336l12 -12M308 312l20 -20M332 288l4 -4M272 352l64 -64M272 356l4 -4M280 348l20 -20M312 316l12 -12M328 300l4 -4M336 292l2 -2M272 360l66 -66M274 362l2 -2M280 356l4 -4M286 350l14 -14M312 324l16 -16M330 306l2 -2M336 300l4 -4M274 366l66 -66M276 368l2 -2M282 362l4 -4M288 356l12 -12M314 330l10 -10M326 318l2 -2M330 314l4 -4M338 306l2 -2M276 372l28 -28M308 340l34 -34M276 376l4 -4M284 368l2 -2M288 364l16 -16M316 336l14 -14M332 320l4 -4M340 312l2 -2M278 378l66 -66M278 382l2 -2M284 376l4 -4M292 368l12 -12M316 344l20 -20M340 320l4 -4M280 384l64 -64M280 388l4 -4M288 380l20 -20M320 348l12 -12M336 332l4 -4M344 324l2 -2M280 392l66 -66M282 394l2 -2M288 388l4 -4M294 382l14 -14M320 356l2 -2M324 352l12 -12M338 338l2 -2M344 332l4 -4M282 398l66 -66M284 400l2 -2M290 394l4 -4M296 388l2 -2M300 384l8 -8M322 362l4 -4M334 350l2 -2M338 346l4 -4M346 338l2 -2M284 404l66 -66M284 408l4 -4M292 400l2 -2M296 396l16 -16M324 368l6 -6M340 352l4 -4M348 344l2 -2M286 410l66 -66M286 414l2 -2M292 408l4 -4M300 400l12 -12M324 376l10 -10M348 352l4 -4M288 416l64 -64M288 420l4 -4M296 412l18 -18M328 380l10 -10M352 356l2 -2M288 424l66 -66M290 426l2 -2M296 420l4 -4M302 414l14 -14M328 388l14 -14M352 364l4 -4M290 430l66 -66M292 432l2 -2M296 428l20 -20M332 392l14 -14M354 370l2 -2M292 436l66 -66M292 440l4 -4M300 432l20 -20M332 400l14 -14M348 384l2 -2M356 376l2 -2M294 442l66 -66M294 446l2 -2M300 440l20 -20M332 408l20 -20M356 384l4 -4M296 448l64 -64M302 446l20 -20M336 412l12 -12M352 396l4 -4M360 388l2 -2M304 448l58 -58M308 448l16 -16M336 420l16 -16M354 402l2 -2M360 396l4 -4M312 448l16 -16M332 428l32 -32M316 448l8 -8M338 426l14 -14M354 410l4 -4M362 402l2 -2M320 448l46 -46M324 448l4 -4M340 432l20 -20M364 408l2 -2M328 448l4 -4M336 440l32 -32M342 438l20 -20M364 416l4 -4M336 448l32 -32M344 444l12 -12M360 428l4 -4M368 420l2 -2M344 448l26 -26M348 448l12 -12M362 434l2 -2M368 428l4 -4M352 448l20 -20M358 446l2 -2M362 442l4 -4M370 434l2 -2M360 448l14 -14M364 448l4 -4M372 440l2 -2M368 448l8 -8M372 448l4 -4" stroke-opacity="0.45" stroke-width="1.015"/>
</g>
<path d="M1531.2 754L1718.9 16.3M1667.2 754L1854.8 16.3M1548.5 754L1736.2 16.3M1649.9 754L1837.5 16.3M1560.2 754L1747.9 16.3M1638.2 754L1825.8 16.3M1570 754L1757.6 16.3M1628.4 754L1816.1 16.3M1580 754L1767.7 16.3M1618.4 754L1806 16.3" fill="none" stroke="#000" stroke-opacity="0.45" stroke-width="1.1"/>
<g fill="none" stroke="#666" stroke-width="1.4">
<rect x="1208.8" y="0.9" width="781.1" height="768.5"/>
<path d="M1223.9 769.4v-5M1223.9 0.9v5M1250.7 769.4v-5M1250.7 0.9v5M1277.5 769.4v-8.8M1277.5 0.9v8.8M1304.3 769.4v-5M1304.3 0.9v5M1331.1 769.4v-5M1331.1 0.9v5M1357.9 769.4v-5M1357.9 0.9v5M1384.7 769.4v-8.8M1384.7 0.9v8.8M1411.6 769.4v-5M1411.6 0.9v5M1438.4 769.4v-5M1438.4 0.9v5M1465.2 769.4v-5M1465.2 0.9v5M1492 769.4v-8.8M1492 0.9v8.8M1518.8 769.4v-5M1518.8 0.9v5M1545.6 769.4v-5M1545.6 0.9v5M1572.4 769.4v-5M1572.4 0.9v5M1599.2 769.4v-8.8M1599.2 0.9v8.8M1626 769.4v-5M1626 0.9v5M1652.8 769.4v-5M1652.8 0.9v5M1679.6 769.4v-5M1679.6 0.9v5M1706.4 769.4v-8.8M1706.4 0.9v8.8M1733.2 769.4v-5M1733.2 0.9v5M1760 769.4v-5M1760 0.9v5M1786.8 769.4v-5M1786.8 0.9v5M1813.7 769.4v-8.8M1813.7 0.9v8.8M1840.5 769.4v-5M1840.5 0.9v5M1867.3 769.4v-5M1867.3 0.9v5M1894.1 769.4v-5M1894.1 0.9v5M1920.9 769.4v-8.8M1920.9 0.9v8.8M1947.7 769.4v-5M1947.7 0.9v5M1974.5 769.4v-5M1974.5 0.9v5M1208.8 754h9M1989.9 754h-9M1208.8 724.5h5.2M1989.9 724.5h-5.2M1208.8 695h5.2M1989.9 695h-5.2M1208.8 665.5h5.2M1989.9 665.5h-5.2M1208.8 636h5.2M1989.9 636h-5.2M1208.8 606.5h9M1989.9 606.5h-9M1208.8 577h5.2M1989.9 577h-5.2M1208.8 547.4h5.2M1989.9 547.4h-5.2M1208.8 517.9h5.2M1989.9 517.9h-5.2M1208.8 488.4h5.2M1989.9 488.4h-5.2M1208.8 458.9h9M1989.9 458.9h-9M1208.8 429.4h5.2M1989.9 429.4h-5.2M1208.8 399.9h5.2M1989.9 399.9h-5.2M1208.8 370.4h5.2M1989.9 370.4h-5.2M1208.8 340.9h5.2M1989.9 340.9h-5.2M1208.8 311.4h9M1989.9 311.4h-9M1208.8 281.9h5.2M1989.9 281.9h-5.2M1208.8 252.4h5.2M1989.9 252.4h-5.2M1208.8 222.9h5.2M1989.9 222.9h-5.2M1208.8 193.3h5.2M1989.9 193.3h-5.2M1208.8 163.8h9M1989.9 163.8h-9M1208.8 134.3h5.2M1989.9 134.3h-5.2M1208.8 104.8h5.2M1989.9 104.8h-5.2M1208.8 75.3h5.2M1989.9 75.3h-5.2M1208.8 45.8h5.2M1989.9 45.8h-5.2M1208.8 16.3h9M1989.9 16.3h-9"/>
</g>
<text transform="translate(1274.21,798.4)" font-size="24.6" text-anchor="middle" fill="#5e5e5e">−6</text>
<text transform="translate(1381.44,798.4)" font-size="24.6" text-anchor="middle" fill="#5e5e5e">−4</text>
<text transform="translate(1488.67,798.4)" font-size="24.6" text-anchor="middle" fill="#5e5e5e">−2</text>
<text transform="translate(1599.2,798.4)" font-size="24.6" text-anchor="middle" fill="#5e5e5e">0</text>
<text transform="translate(1706.43,798.4)" font-size="24.6" text-anchor="middle" fill="#5e5e5e">2</text>
<text transform="translate(1813.66,798.4)" font-size="24.6" text-anchor="middle" fill="#5e5e5e">4</text>
<text transform="translate(1920.89,798.4)" font-size="24.6" text-anchor="middle" fill="#5e5e5e">6</text>
<text transform="translate(1201.3,762.8)" font-size="24.6" text-anchor="end" fill="#5e5e5e">0</text>
<text transform="translate(1201.3,615.26)" font-size="24.6" text-anchor="end" fill="#5e5e5e">1</text>
<text transform="translate(1201.3,467.72)" font-size="24.6" text-anchor="end" fill="#5e5e5e">2</text>
<text transform="translate(1201.3,320.18)" font-size="24.6" text-anchor="end" fill="#5e5e5e">3</text>
<text transform="translate(1201.3,172.64)" font-size="24.6" text-anchor="end" fill="#5e5e5e">4</text>
<text transform="translate(1201.3,25.1)" font-size="24.6" text-anchor="end" fill="#5e5e5e">5</text>
<text transform="translate(1585.23,870.8) scale(0.8872,1)" font-size="57.17" font-style="italic" font-weight="bold">x</text>
<text transform="translate(1160.25,393.98) rotate(-90) scale(0.75,1)" font-size="64.55" font-style="italic" font-weight="bold">t</text></g>
<g id="pc"><g transform="scale(0.825,1)">
<g stroke="#7d7d7d" stroke-width="1.1" fill="none">
<path d="M453.2 1843.9H1584.3" stroke="#b4b4b4"/>
<path d="M1018.8 1138.3V1843.6"/>
<path d="M455.8 1843.6v-7.5M512.1 1843.6v-7.5M568.4 1843.6v-12.5M624.7 1843.6v-7.5M681 1843.6v-7.5M737.3 1843.6v-7.5M793.6 1843.6v-12.5M849.9 1843.6v-7.5M906.2 1843.6v-7.5M962.5 1843.6v-7.5M1075.1 1843.6v-7.5M1131.4 1843.6v-7.5M1187.7 1843.6v-7.5M1244 1843.6v-12.5M1300.3 1843.6v-7.5M1356.6 1843.6v-7.5M1412.9 1843.6v-7.5M1469.2 1843.6v-12.5M1525.5 1843.6v-7.5M1581.8 1843.6v-7.5M1018.8 1822.8h7.5M1018.8 1802.1h7.5M1018.8 1781.3h7.5M1018.8 1760.6h7.5M1018.8 1739.8h12M1018.8 1719h7.5M1018.8 1698.3h7.5M1018.8 1677.5h7.5M1018.8 1656.8h7.5M1018.8 1636h12M1018.8 1615.2h7.5M1018.8 1594.5h7.5M1018.8 1573.7h7.5M1018.8 1553h7.5M1018.8 1532.2h12M1018.8 1511.4h7.5M1018.8 1490.7h7.5M1018.8 1469.9h7.5M1018.8 1449.2h7.5M1018.8 1428.4h12M1018.8 1407.6h7.5M1018.8 1386.9h7.5M1018.8 1366.1h7.5M1018.8 1345.4h7.5M1018.8 1324.6h12M1018.8 1303.8h7.5M1018.8 1283.1h7.5M1018.8 1262.3h7.5M1018.8 1241.6h7.5M1018.8 1220.8h12M1018.8 1200h7.5M1018.8 1179.3h7.5M1018.8 1158.5h7.5M1018.8 1137.8h7.5"/>
</g>
<clipPath id="cc"><rect x="433.2" y="1100" width="1171.1" height="744"/></clipPath>
<g clip-path="url(#cc)">
<path d="M455.8 1843.6 460.1 1843.6 464.4 1843.6 468.8 1843.6 473.1 1843.6 477.4 1843.6 481.7 1843.6 486.1 1843.6 490.4 1843.6 494.7 1843.6 499.1 1843.6 503.4 1843.6 507.7 1843.6 512.1 1843.6 516.4 1843.6 520.7 1843.6 525.1 1843.5 529.4 1843.5 533.7 1843.5 538 1843.5 542.4 1843.5 546.7 1843.5 551 1843.5 555.4 1843.5 559.7 1843.5 564 1843.5 568.4 1843.5 572.7 1843.4 577 1843.4 581.4 1843.4 585.7 1843.4 590 1843.4 594.3 1843.4 598.7 1843.3 603 1843.3 607.3 1843.3 611.7 1843.2 616 1843.2 620.3 1843.2 624.7 1843.1 629 1843.1 633.3 1843 637.7 1843 642 1842.9 646.3 1842.8 650.7 1842.8 655 1842.7 659.3 1842.6 663.6 1842.5 668 1842.4 672.3 1842.3 676.6 1842.1 681 1842 685.3 1841.8 689.6 1841.7 694 1841.5 698.3 1841.3 702.6 1841 707 1840.8 711.3 1840.5 715.6 1840.2 719.9 1839.9 724.3 1839.5 728.6 1839.1 732.9 1838.7 737.3 1838.2 741.6 1837.6 745.9 1837 750.3 1836.4 754.6 1835.7 758.9 1834.9 763.3 1834.1 767.6 1833.1 771.9 1832.1 776.3 1831 780.6 1829.8 784.9 1828.4 789.2 1826.9 793.6 1825.3 797.9 1823.5 802.2 1821.6 806.6 1819.4 810.9 1817.1 815.2 1814.6 819.6 1811.8 823.9 1808.7 828.2 1805.4 832.6 1801.7 836.9 1797.7 841.2 1793.4 845.5 1788.6 849.9 1783.5 854.2 1777.9 858.5 1771.8 862.9 1765.1 867.2 1757.9 871.5 1750.1 875.9 1741.7 880.2 1732.5 884.5 1722.7 888.9 1712.1 893.2 1700.7 897.5 1688.4 901.9 1675.3 906.2 1661.3 910.5 1646.4 914.8 1630.6 919.2 1613.9 923.5 1596.2 927.8 1577.7 932.2 1558.3 936.5 1538.2 940.8 1517.3 945.2 1495.8 949.5 1473.8 953.8 1451.4 958.2 1428.9 962.5 1406.3 966.8 1384 971.1 1362.1 975.5 1340.8 979.8 1320.6 984.1 1301.5 988.5 1283.9 992.8 1268 997.1 1254.1 1001.5 1242.4 1005.8 1233.1 1010.1 1226.3 1014.5 1222.2 1018.8 1220.8 1023.1 1222.2 1027.4 1226.3 1031.8 1233.1 1036.1 1242.4 1040.4 1254.1 1044.8 1268 1049.1 1283.9 1053.4 1301.5 1057.8 1320.6 1062.1 1340.8 1066.4 1362.1 1070.8 1384 1075.1 1406.3 1079.4 1428.9 1083.8 1451.4 1088.1 1473.8 1092.4 1495.8 1096.7 1517.3 1101.1 1538.2 1105.4 1558.3 1109.7 1577.7 1114.1 1596.2 1118.4 1613.9 1122.7 1630.6 1127.1 1646.4 1131.4 1661.3 1135.7 1675.3 1140.1 1688.4 1144.4 1700.7 1148.7 1712.1 1153 1722.7 1157.4 1732.5 1161.7 1741.7 1166 1750.1 1170.4 1757.9 1174.7 1765.1 1179 1771.8 1183.4 1777.9 1187.7 1783.5 1192 1788.6 1196.4 1793.4 1200.7 1797.7 1205 1801.7 1209.4 1805.4 1213.7 1808.7 1218 1811.8 1222.3 1814.6 1226.7 1817.1 1231 1819.4 1235.3 1821.6 1239.7 1823.5 1244 1825.3 1248.3 1826.9 1252.7 1828.4 1257 1829.8 1261.3 1831 1265.7 1832.1 1270 1833.1 1274.3 1834.1 1278.6 1834.9 1283 1835.7 1287.3 1836.4 1291.6 1837 1296 1837.6 1300.3 1838.2 1304.6 1838.7 1309 1839.1 1313.3 1839.5 1317.6 1839.9 1322 1840.2 1326.3 1840.5 1330.6 1840.8 1335 1841 1339.3 1841.3 1343.6 1841.5 1347.9 1841.7 1352.3 1841.8 1356.6 1842 1360.9 1842.1 1365.3 1842.3 1369.6 1842.4 1373.9 1842.5 1378.3 1842.6 1382.6 1842.7 1386.9 1842.8 1391.3 1842.8 1395.6 1842.9 1399.9 1843 1404.2 1843 1408.6 1843.1 1412.9 1843.1 1417.2 1843.2 1421.6 1843.2 1425.9 1843.2 1430.2 1843.3 1434.6 1843.3 1438.9 1843.3 1443.2 1843.4 1447.6 1843.4 1451.9 1843.4 1456.2 1843.4 1460.6 1843.4 1464.9 1843.4 1469.2 1843.5 1473.5 1843.5 1477.9 1843.5 1482.2 1843.5 1486.5 1843.5 1490.9 1843.5 1495.2 1843.5 1499.5 1843.5 1503.9 1843.5 1508.2 1843.5 1512.5 1843.5 1516.9 1843.6 1521.2 1843.6 1525.5 1843.6 1529.8 1843.6 1534.2 1843.6 1538.5 1843.6 1542.8 1843.6 1547.2 1843.6 1551.5 1843.6 1555.8 1843.6 1560.2 1843.6 1564.5 1843.6 1568.8 1843.6 1573.2 1843.6 1577.5 1843.6 1581.8 1843.6" fill="none" stroke="#5E81B5" stroke-width="5.4" stroke-dasharray="34.4 35.7" stroke-dashoffset="6"/>
<path d="M455.8 1843.6 460.1 1843.6 464.4 1843.6 468.8 1843.6 473.1 1843.6 477.4 1843.6 481.7 1843.6 486.1 1843.6 490.4 1843.6 494.7 1843.6 499.1 1843.6 503.4 1843.6 507.7 1843.6 512.1 1843.6 516.4 1843.6 520.7 1843.6 525.1 1843.6 529.4 1843.6 533.7 1843.6 538 1843.6 542.4 1843.6 546.7 1843.6 551 1843.6 555.4 1843.6 559.7 1843.6 564 1843.6 568.4 1843.6 572.7 1843.6 577 1843.6 581.4 1843.6 585.7 1843.6 590 1843.6 594.3 1843.6 598.7 1843.6 603 1843.5 607.3 1843.5 611.7 1843.5 616 1843.5 620.3 1843.5 624.7 1843.5 629 1843.5 633.3 1843.5 637.7 1843.5 642 1843.5 646.3 1843.5 650.7 1843.5 655 1843.4 659.3 1843.4 663.6 1843.4 668 1843.4 672.3 1843.4 676.6 1843.3 681 1843.3 685.3 1843.3 689.6 1843.3 694 1843.2 698.3 1843.2 702.6 1843.1 707 1843.1 711.3 1843 715.6 1843 719.9 1842.9 724.3 1842.9 728.6 1842.8 732.9 1842.7 737.3 1842.6 741.6 1842.5 745.9 1842.4 750.3 1842.3 754.6 1842.2 758.9 1842 763.3 1841.9 767.6 1841.7 771.9 1841.5 776.3 1841.3 780.6 1841.1 784.9 1840.8 789.2 1840.6 793.6 1840.3 797.9 1839.9 802.2 1839.6 806.6 1839.2 810.9 1838.7 815.2 1838.3 819.6 1837.7 823.9 1837.2 828.2 1836.5 832.6 1835.8 836.9 1835.1 841.2 1834.2 845.5 1833.3 849.9 1832.3 854.2 1831.2 858.5 1830 862.9 1828.7 867.2 1827.2 871.5 1825.6 875.9 1823.9 880.2 1822 884.5 1819.9 888.9 1817.6 893.2 1815.1 897.5 1812.3 901.9 1809.3 906.2 1806 910.5 1802.5 914.8 1798.6 919.2 1794.3 923.5 1789.6 927.8 1784.5 932.2 1779 936.5 1773 940.8 1766.5 945.2 1759.4 949.5 1751.7 953.8 1743.4 958.2 1734.4 962.5 1724.7 966.8 1714.3 971.1 1703 975.5 1690.9 979.8 1678 984.1 1664.2 988.5 1649.5 992.8 1633.9 997.1 1617.3 1001.5 1599.8 1005.8 1581.5 1010.1 1562.3 1014.5 1542.3 1018.8 1521.5 1023.1 1500.1 1027.4 1478.2 1031.8 1455.9 1036.1 1433.4 1040.4 1410.8 1044.8 1388.4 1049.1 1366.4 1053.4 1345 1057.8 1324.5 1062.1 1305.2 1066.4 1287.3 1070.8 1271 1075.1 1256.7 1079.4 1244.6 1083.8 1234.7 1088.1 1227.4 1092.4 1222.8 1096.7 1220.9 1101.1 1221.7 1105.4 1225.3 1109.7 1231.5 1114.1 1240.3 1118.4 1251.6 1122.7 1265.1 1127.1 1280.6 1131.4 1297.8 1135.7 1316.6 1140.1 1336.7 1144.4 1357.8 1148.7 1379.5 1153 1401.8 1157.4 1424.4 1161.7 1446.9 1166 1469.3 1170.4 1491.4 1174.7 1513 1179 1534 1183.4 1554.4 1187.7 1573.9 1192 1592.6 1196.4 1610.4 1200.7 1627.3 1205 1643.3 1209.4 1658.4 1213.7 1672.6 1218 1685.9 1222.3 1698.3 1226.7 1709.9 1231 1720.6 1235.3 1730.6 1239.7 1739.9 1244 1748.5 1248.3 1756.4 1252.7 1763.7 1257 1770.5 1261.3 1776.7 1265.7 1782.4 1270 1787.6 1274.3 1792.5 1278.6 1796.9 1283 1800.9 1287.3 1804.7 1291.6 1808.1 1296 1811.2 1300.3 1814 1304.6 1816.6 1309 1819 1313.3 1821.2 1317.6 1823.1 1322 1825 1326.3 1826.6 1330.6 1828.1 1335 1829.5 1339.3 1830.8 1343.6 1831.9 1347.9 1832.9 1352.3 1833.9 1356.6 1834.8 1360.9 1835.5 1365.3 1836.3 1369.6 1836.9 1373.9 1837.5 1378.3 1838.1 1382.6 1838.6 1386.9 1839 1391.3 1839.4 1395.6 1839.8 1399.9 1840.1 1404.2 1840.4 1408.6 1840.7 1412.9 1841 1417.2 1841.2 1421.6 1841.4 1425.9 1841.6 1430.2 1841.8 1434.6 1842 1438.9 1842.1 1443.2 1842.2 1447.6 1842.4 1451.9 1842.5 1456.2 1842.6 1460.6 1842.7 1464.9 1842.8 1469.2 1842.8 1473.5 1842.9 1477.9 1843 1482.2 1843 1486.5 1843.1 1490.9 1843.1 1495.2 1843.2 1499.5 1843.2 1503.9 1843.2 1508.2 1843.3 1512.5 1843.3 1516.9 1843.3 1521.2 1843.4 1525.5 1843.4 1529.8 1843.4 1534.2 1843.4 1538.5 1843.4 1542.8 1843.4 1547.2 1843.5 1551.5 1843.5 1555.8 1843.5 1560.2 1843.5 1564.5 1843.5 1568.8 1843.5 1573.2 1843.5 1577.5 1843.5 1581.8 1843.5" fill="none" stroke="#E19C24" stroke-width="5.4"/>
<path d="M455.8 1843.6 460.1 1843.6 464.4 1843.6 468.8 1843.6 473.1 1843.6 477.4 1843.6 481.7 1843.6 486.1 1843.6 490.4 1843.6 494.7 1843.6 499.1 1843.6 503.4 1843.6 507.7 1843.6 512.1 1843.6 516.4 1843.6 520.7 1843.6 525.1 1843.6 529.4 1843.6 533.7 1843.6 538 1843.6 542.4 1843.6 546.7 1843.6 551 1843.6 555.4 1843.6 559.7 1843.6 564 1843.6 568.4 1843.6 572.7 1843.6 577 1843.6 581.4 1843.6 585.7 1843.6 590 1843.6 594.3 1843.6 598.7 1843.6 603 1843.6 607.3 1843.6 611.7 1843.6 616 1843.6 620.3 1843.6 624.7 1843.6 629 1843.6 633.3 1843.6 637.7 1843.6 642 1843.6 646.3 1843.6 650.7 1843.6 655 1843.6 659.3 1843.6 663.6 1843.6 668 1843.6 672.3 1843.6 676.6 1843.6 681 1843.5 685.3 1843.5 689.6 1843.5 694 1843.5 698.3 1843.5 702.6 1843.5 707 1843.5 711.3 1843.5 715.6 1843.5 719.9 1843.5 724.3 1843.5 728.6 1843.5 732.9 1843.4 737.3 1843.4 741.6 1843.4 745.9 1843.4 750.3 1843.4 754.6 1843.3 758.9 1843.3 763.3 1843.3 767.6 1843.3 771.9 1843.2 776.3 1843.2 780.6 1843.1 784.9 1843.1 789.2 1843.1 793.6 1843 797.9 1842.9 802.2 1842.9 806.6 1842.8 810.9 1842.7 815.2 1842.6 819.6 1842.5 823.9 1842.4 828.2 1842.3 832.6 1842.2 836.9 1842.1 841.2 1841.9 845.5 1841.7 849.9 1841.6 854.2 1841.4 858.5 1841.1 862.9 1840.9 867.2 1840.6 871.5 1840.3 875.9 1840 880.2 1839.7 884.5 1839.3 888.9 1838.8 893.2 1838.4 897.5 1837.9 901.9 1837.3 906.2 1836.7 910.5 1836 914.8 1835.2 919.2 1834.4 923.5 1833.5 927.8 1832.5 932.2 1831.4 936.5 1830.3 940.8 1829 945.2 1827.5 949.5 1826 953.8 1824.3 958.2 1822.4 962.5 1820.3 966.8 1818.1 971.1 1815.6 975.5 1812.9 979.8 1810 984.1 1806.7 988.5 1803.2 992.8 1799.4 997.1 1795.2 1001.5 1790.6 1005.8 1785.6 1010.1 1780.2 1014.5 1774.3 1018.8 1767.8 1023.1 1760.9 1027.4 1753.3 1031.8 1745.1 1036.1 1736.3 1040.4 1726.7 1044.8 1716.4 1049.1 1705.3 1053.4 1693.4 1057.8 1680.7 1062.1 1667 1066.4 1652.5 1070.8 1637.1 1075.1 1620.7 1079.4 1603.4 1083.8 1585.2 1088.1 1566.2 1092.4 1546.3 1096.7 1525.7 1101.1 1504.4 1105.4 1482.6 1109.7 1460.4 1114.1 1437.9 1118.4 1415.3 1122.7 1392.9 1127.1 1370.8 1131.4 1349.2 1135.7 1328.5 1140.1 1309 1144.4 1290.7 1148.7 1274.1 1153 1259.4 1157.4 1246.8 1161.7 1236.5 1166 1228.7 1170.4 1223.5 1174.7 1221 1179 1221.3 1183.4 1224.3 1187.7 1230 1192 1238.4 1196.4 1249.1 1200.7 1262.2 1205 1277.3 1209.4 1294.3 1213.7 1312.8 1218 1332.6 1222.3 1353.5 1226.7 1375.1 1231 1397.3 1235.3 1419.8 1239.7 1442.4 1244 1464.9 1248.3 1487 1252.7 1508.7 1257 1529.9 1261.3 1550.4 1265.7 1570.1 1270 1588.9 1274.3 1606.9 1278.6 1624 1283 1640.2 1287.3 1655.5 1291.6 1669.8 1296 1683.3 1300.3 1695.9 1304.6 1707.6 1309 1718.5 1313.3 1728.7 1317.6 1738.1 1322 1746.8 1326.3 1754.9 1330.6 1762.3 1335 1769.2 1339.3 1775.5 1343.6 1781.3 1347.9 1786.6 1352.3 1791.5 1356.6 1796 1360.9 1800.2 1365.3 1803.9 1369.6 1807.4 1373.9 1810.6 1378.3 1813.5 1382.6 1816.1 1386.9 1818.5 1391.3 1820.7 1395.6 1822.8 1399.9 1824.6 1404.2 1826.3 1408.6 1827.8 1412.9 1829.2 1417.2 1830.5 1421.6 1831.7 1425.9 1832.7 1430.2 1833.7 1434.6 1834.6 1438.9 1835.4 1443.2 1836.1 1447.6 1836.8 1451.9 1837.4 1456.2 1838 1460.6 1838.5 1464.9 1838.9 1469.2 1839.3 1473.5 1839.7 1477.9 1840.1 1482.2 1840.4 1486.5 1840.7 1490.9 1840.9 1495.2 1841.2 1499.5 1841.4 1503.9 1841.6 1508.2 1841.8 1512.5 1841.9 1516.9 1842.1 1521.2 1842.2 1525.5 1842.3 1529.8 1842.5 1534.2 1842.6 1538.5 1842.7 1542.8 1842.7 1547.2 1842.8 1551.5 1842.9 1555.8 1843 1560.2 1843 1564.5 1843.1 1568.8 1843.1 1573.2 1843.2 1577.5 1843.2 1581.8 1843.2" fill="none" stroke="#8FB032" stroke-width="5.4" stroke-dasharray="34.4 35.7" stroke-dashoffset="4.6"/>
<path d="M455.8 1843.6 460.1 1843.6 464.4 1843.6 468.8 1843.6 473.1 1843.6 477.4 1843.6 481.7 1843.6 486.1 1843.6 490.4 1843.6 494.7 1843.6 499.1 1843.6 503.4 1843.6 507.7 1843.6 512.1 1843.6 516.4 1843.6 520.7 1843.6 525.1 1843.6 529.4 1843.6 533.7 1843.6 538 1843.6 542.4 1843.6 546.7 1843.6 551 1843.6 555.4 1843.6 559.7 1843.6 564 1843.6 568.4 1843.6 572.7 1843.6 577 1843.6 581.4 1843.6 585.7 1843.6 590 1843.6 594.3 1843.6 598.7 1843.6 603 1843.6 607.3 1843.6 611.7 1843.6 616 1843.6 620.3 1843.6 624.7 1843.6 629 1843.6 633.3 1843.6 637.7 1843.6 642 1843.6 646.3 1843.6 650.7 1843.6 655 1843.6 659.3 1843.6 663.6 1843.6 668 1843.6 672.3 1843.6 676.6 1843.6 681 1843.6 685.3 1843.6 689.6 1843.6 694 1843.6 698.3 1843.6 702.6 1843.6 707 1843.6 711.3 1843.6 715.6 1843.6 719.9 1843.6 724.3 1843.6 728.6 1843.6 732.9 1843.6 737.3 1843.6 741.6 1843.6 745.9 1843.6 750.3 1843.6 754.6 1843.6 758.9 1843.5 763.3 1843.5 767.6 1843.5 771.9 1843.5 776.3 1843.5 780.6 1843.5 784.9 1843.5 789.2 1843.5 793.6 1843.5 797.9 1843.5 802.2 1843.5 806.6 1843.5 810.9 1843.4 815.2 1843.4 819.6 1843.4 823.9 1843.4 828.2 1843.4 832.6 1843.3 836.9 1843.3 841.2 1843.3 845.5 1843.3 849.9 1843.2 854.2 1843.2 858.5 1843.2 862.9 1843.1 867.2 1843.1 871.5 1843 875.9 1843 880.2 1842.9 884.5 1842.8 888.9 1842.7 893.2 1842.7 897.5 1842.6 901.9 1842.5 906.2 1842.3 910.5 1842.2 914.8 1842.1 919.2 1841.9 923.5 1841.8 927.8 1841.6 932.2 1841.4 936.5 1841.2 940.8 1840.9 945.2 1840.7 949.5 1840.4 953.8 1840.1 958.2 1839.7 962.5 1839.3 966.8 1838.9 971.1 1838.5 975.5 1838 979.8 1837.4 984.1 1836.8 988.5 1836.1 992.8 1835.4 997.1 1834.6 1001.5 1833.7 1005.8 1832.7 1010.1 1831.7 1014.5 1830.5 1018.8 1829.2 1023.1 1827.8 1027.4 1826.3 1031.8 1824.6 1036.1 1822.8 1040.4 1820.7 1044.8 1818.5 1049.1 1816.1 1053.4 1813.5 1057.8 1810.6 1062.1 1807.4 1066.4 1803.9 1070.8 1800.2 1075.1 1796 1079.4 1791.5 1083.8 1786.6 1088.1 1781.3 1092.4 1775.5 1096.7 1769.2 1101.1 1762.3 1105.4 1754.9 1109.7 1746.8 1114.1 1738.1 1118.4 1728.7 1122.7 1718.5 1127.1 1707.6 1131.4 1695.9 1135.7 1683.3 1140.1 1669.8 1144.4 1655.5 1148.7 1640.2 1153 1624 1157.4 1606.9 1161.7 1588.9 1166 1570.1 1170.4 1550.4 1174.7 1529.9 1179 1508.7 1183.4 1487 1187.7 1464.9 1192 1442.4 1196.4 1419.8 1200.7 1397.3 1205 1375.1 1209.4 1353.5 1213.7 1332.6 1218 1312.8 1222.3 1294.3 1226.7 1277.3 1231 1262.2 1235.3 1249.1 1239.7 1238.4 1244 1230 1248.3 1224.3 1252.7 1221.3 1257 1221 1261.3 1223.5 1265.7 1228.7 1270 1236.5 1274.3 1246.8 1278.6 1259.4 1283 1274.1 1287.3 1290.7 1291.6 1309 1296 1328.5 1300.3 1349.2 1304.6 1370.8 1309 1392.9 1313.3 1415.3 1317.6 1437.9 1322 1460.4 1326.3 1482.6 1330.6 1504.4 1335 1525.7 1339.3 1546.3 1343.6 1566.2 1347.9 1585.2 1352.3 1603.4 1356.6 1620.7 1360.9 1637.1 1365.3 1652.5 1369.6 1667 1373.9 1680.7 1378.3 1693.4 1382.6 1705.3 1386.9 1716.4 1391.3 1726.7 1395.6 1736.3 1399.9 1745.1 1404.2 1753.3 1408.6 1760.9 1412.9 1767.8 1417.2 1774.3 1421.6 1780.2 1425.9 1785.6 1430.2 1790.6 1434.6 1795.2 1438.9 1799.4 1443.2 1803.2 1447.6 1806.7 1451.9 1810 1456.2 1812.9 1460.6 1815.6 1464.9 1818.1 1469.2 1820.3 1473.5 1822.4 1477.9 1824.3 1482.2 1826 1486.5 1827.5 1490.9 1829 1495.2 1830.3 1499.5 1831.4 1503.9 1832.5 1508.2 1833.5 1512.5 1834.4 1516.9 1835.2 1521.2 1836 1525.5 1836.7 1529.8 1837.3 1534.2 1837.9 1538.5 1838.4 1542.8 1838.8 1547.2 1839.3 1551.5 1839.7 1555.8 1840 1560.2 1840.3 1564.5 1840.6 1568.8 1840.9 1573.2 1841.1 1577.5 1841.4 1581.8 1841.6" fill="none" stroke="#EB6235" stroke-width="5.4"/>
<path d="M455.8 1843.6 460.1 1843.6 464.4 1843.6 468.8 1843.6 473.1 1843.6 477.4 1843.6 481.7 1843.6 486.1 1843.6 490.4 1843.6 494.7 1843.6 499.1 1843.6 503.4 1843.6 507.7 1843.6 512.1 1843.6 516.4 1843.6 520.7 1843.6 525.1 1843.6 529.4 1843.6 533.7 1843.6 538 1843.6 542.4 1843.6 546.7 1843.6 551 1843.6 555.4 1843.6 559.7 1843.6 564 1843.6 568.4 1843.6 572.7 1843.6 577 1843.6 581.4 1843.6 585.7 1843.6 590 1843.6 594.3 1843.6 598.7 1843.6 603 1843.6 607.3 1843.6 611.7 1843.6 616 1843.6 620.3 1843.6 624.7 1843.6 629 1843.6 633.3 1843.6 637.7 1843.6 642 1843.6 646.3 1843.6 650.7 1843.6 655 1843.6 659.3 1843.6 663.6 1843.6 668 1843.6 672.3 1843.6 676.6 1843.6 681 1843.6 685.3 1843.6 689.6 1843.6 694 1843.6 698.3 1843.6 702.6 1843.6 707 1843.6 711.3 1843.6 715.6 1843.6 719.9 1843.6 724.3 1843.6 728.6 1843.6 732.9 1843.6 737.3 1843.6 741.6 1843.6 745.9 1843.6 750.3 1843.6 754.6 1843.6 758.9 1843.6 763.3 1843.6 767.6 1843.6 771.9 1843.6 776.3 1843.6 780.6 1843.6 784.9 1843.6 789.2 1843.6 793.6 1843.6 797.9 1843.6 802.2 1843.6 806.6 1843.6 810.9 1843.6 815.2 1843.6 819.6 1843.6 823.9 1843.6 828.2 1843.6 832.6 1843.6 836.9 1843.5 841.2 1843.5 845.5 1843.5 849.9 1843.5 854.2 1843.5 858.5 1843.5 862.9 1843.5 867.2 1843.5 871.5 1843.5 875.9 1843.5 880.2 1843.5 884.5 1843.5 888.9 1843.4 893.2 1843.4 897.5 1843.4 901.9 1843.4 906.2 1843.4 910.5 1843.4 914.8 1843.3 919.2 1843.3 923.5 1843.3 927.8 1843.2 932.2 1843.2 936.5 1843.2 940.8 1843.1 945.2 1843.1 949.5 1843 953.8 1843 958.2 1842.9 962.5 1842.8 966.8 1842.8 971.1 1842.7 975.5 1842.6 979.8 1842.5 984.1 1842.4 988.5 1842.2 992.8 1842.1 997.1 1842 1001.5 1841.8 1005.8 1841.6 1010.1 1841.4 1014.5 1841.2 1018.8 1841 1023.1 1840.7 1027.4 1840.4 1031.8 1840.1 1036.1 1839.8 1040.4 1839.4 1044.8 1839 1049.1 1838.6 1053.4 1838.1 1057.8 1837.5 1062.1 1836.9 1066.4 1836.3 1070.8 1835.5 1075.1 1834.8 1079.4 1833.9 1083.8 1832.9 1088.1 1831.9 1092.4 1830.8 1096.7 1829.5 1101.1 1828.1 1105.4 1826.6 1109.7 1825 1114.1 1823.1 1118.4 1821.2 1122.7 1819 1127.1 1816.6 1131.4 1814 1135.7 1811.2 1140.1 1808.1 1144.4 1804.7 1148.7 1800.9 1153 1796.9 1157.4 1792.5 1161.7 1787.6 1166 1782.4 1170.4 1776.7 1174.7 1770.5 1179 1763.7 1183.4 1756.4 1187.7 1748.5 1192 1739.9 1196.4 1730.6 1200.7 1720.6 1205 1709.9 1209.4 1698.3 1213.7 1685.9 1218 1672.6 1222.3 1658.4 1226.7 1643.3 1231 1627.3 1235.3 1610.4 1239.7 1592.6 1244 1573.9 1248.3 1554.4 1252.7 1534 1257 1513 1261.3 1491.4 1265.7 1469.3 1270 1446.9 1274.3 1424.4 1278.6 1401.8 1283 1379.5 1287.3 1357.8 1291.6 1336.7 1296 1316.6 1300.3 1297.8 1304.6 1280.6 1309 1265.1 1313.3 1251.6 1317.6 1240.3 1322 1231.5 1326.3 1225.3 1330.6 1221.7 1335 1220.9 1339.3 1222.8 1343.6 1227.4 1347.9 1234.7 1352.3 1244.6 1356.6 1256.7 1360.9 1271 1365.3 1287.3 1369.6 1305.2 1373.9 1324.5 1378.3 1345 1382.6 1366.4 1386.9 1388.4 1391.3 1410.8 1395.6 1433.4 1399.9 1455.9 1404.2 1478.2 1408.6 1500.1 1412.9 1521.5 1417.2 1542.3 1421.6 1562.3 1425.9 1581.5 1430.2 1599.8 1434.6 1617.3 1438.9 1633.9 1443.2 1649.5 1447.6 1664.2 1451.9 1678 1456.2 1690.9 1460.6 1703 1464.9 1714.3 1469.2 1724.7 1473.5 1734.4 1477.9 1743.4 1482.2 1751.7 1486.5 1759.4 1490.9 1766.5 1495.2 1773 1499.5 1779 1503.9 1784.5 1508.2 1789.6 1512.5 1794.3 1516.9 1798.6 1521.2 1802.5 1525.5 1806 1529.8 1809.3 1534.2 1812.3 1538.5 1815.1 1542.8 1817.6 1547.2 1819.9 1551.5 1822 1555.8 1823.9 1560.2 1825.6 1564.5 1827.2 1568.8 1828.7 1573.2 1830 1577.5 1831.2 1581.8 1832.3" fill="none" stroke="#8778B3" stroke-width="5.4" stroke-dasharray="34.4 35.7" stroke-dashoffset="2.3"/>
<path d="M455.8 1843.6 460.1 1843.6 464.4 1843.6 468.8 1843.6 473.1 1843.6 477.4 1843.6 481.7 1843.6 486.1 1843.6 490.4 1843.6 494.7 1843.6 499.1 1843.6 503.4 1843.6 507.7 1843.6 512.1 1843.6 516.4 1843.6 520.7 1843.6 525.1 1843.6 529.4 1843.6 533.7 1843.6 538 1843.6 542.4 1843.6 546.7 1843.6 551 1843.6 555.4 1843.6 559.7 1843.6 564 1843.6 568.4 1843.6 572.7 1843.6 577 1843.6 581.4 1843.6 585.7 1843.6 590 1843.6 594.3 1843.6 598.7 1843.6 603 1843.6 607.3 1843.6 611.7 1843.6 616 1843.6 620.3 1843.6 624.7 1843.6 629 1843.6 633.3 1843.6 637.7 1843.6 642 1843.6 646.3 1843.6 650.7 1843.6 655 1843.6 659.3 1843.6 663.6 1843.6 668 1843.6 672.3 1843.6 676.6 1843.6 681 1843.6 685.3 1843.6 689.6 1843.6 694 1843.6 698.3 1843.6 702.6 1843.6 707 1843.6 711.3 1843.6 715.6 1843.6 719.9 1843.6 724.3 1843.6 728.6 1843.6 732.9 1843.6 737.3 1843.6 741.6 1843.6 745.9 1843.6 750.3 1843.6 754.6 1843.6 758.9 1843.6 763.3 1843.6 767.6 1843.6 771.9 1843.6 776.3 1843.6 780.6 1843.6 784.9 1843.6 789.2 1843.6 793.6 1843.6 797.9 1843.6 802.2 1843.6 806.6 1843.6 810.9 1843.6 815.2 1843.6 819.6 1843.6 823.9 1843.6 828.2 1843.6 832.6 1843.6 836.9 1843.6 841.2 1843.6 845.5 1843.6 849.9 1843.6 854.2 1843.6 858.5 1843.6 862.9 1843.6 867.2 1843.6 871.5 1843.6 875.9 1843.6 880.2 1843.6 884.5 1843.6 888.9 1843.6 893.2 1843.6 897.5 1843.6 901.9 1843.6 906.2 1843.6 910.5 1843.6 914.8 1843.6 919.2 1843.5 923.5 1843.5 927.8 1843.5 932.2 1843.5 936.5 1843.5 940.8 1843.5 945.2 1843.5 949.5 1843.5 953.8 1843.5 958.2 1843.5 962.5 1843.5 966.8 1843.4 971.1 1843.4 975.5 1843.4 979.8 1843.4 984.1 1843.4 988.5 1843.4 992.8 1843.3 997.1 1843.3 1001.5 1843.3 1005.8 1843.2 1010.1 1843.2 1014.5 1843.2 1018.8 1843.1 1023.1 1843.1 1027.4 1843 1031.8 1843 1036.1 1842.9 1040.4 1842.8 1044.8 1842.8 1049.1 1842.7 1053.4 1842.6 1057.8 1842.5 1062.1 1842.4 1066.4 1842.3 1070.8 1842.1 1075.1 1842 1079.4 1841.8 1083.8 1841.7 1088.1 1841.5 1092.4 1841.3 1096.7 1841 1101.1 1840.8 1105.4 1840.5 1109.7 1840.2 1114.1 1839.9 1118.4 1839.5 1122.7 1839.1 1127.1 1838.7 1131.4 1838.2 1135.7 1837.6 1140.1 1837 1144.4 1836.4 1148.7 1835.7 1153 1834.9 1157.4 1834.1 1161.7 1833.1 1166 1832.1 1170.4 1831 1174.7 1829.8 1179 1828.4 1183.4 1826.9 1187.7 1825.3 1192 1823.5 1196.4 1821.6 1200.7 1819.4 1205 1817.1 1209.4 1814.6 1213.7 1811.8 1218 1808.7 1222.3 1805.4 1226.7 1801.7 1231 1797.7 1235.3 1793.4 1239.7 1788.6 1244 1783.5 1248.3 1777.9 1252.7 1771.8 1257 1765.1 1261.3 1757.9 1265.7 1750.1 1270 1741.7 1274.3 1732.5 1278.6 1722.7 1283 1712.1 1287.3 1700.7 1291.6 1688.4 1296 1675.3 1300.3 1661.3 1304.6 1646.4 1309 1630.6 1313.3 1613.9 1317.6 1596.2 1322 1577.7 1326.3 1558.3 1330.6 1538.2 1335 1517.3 1339.3 1495.8 1343.6 1473.8 1347.9 1451.4 1352.3 1428.9 1356.6 1406.3 1360.9 1384 1365.3 1362.1 1369.6 1340.8 1373.9 1320.6 1378.3 1301.5 1382.6 1283.9 1386.9 1268 1391.3 1254.1 1395.6 1242.4 1399.9 1233.1 1404.2 1226.3 1408.6 1222.2 1412.9 1220.8 1417.2 1222.2 1421.6 1226.3 1425.9 1233.1 1430.2 1242.4 1434.6 1254.1 1438.9 1268 1443.2 1283.9 1447.6 1301.5 1451.9 1320.6 1456.2 1340.8 1460.6 1362.1 1464.9 1384 1469.2 1406.3 1473.5 1428.9 1477.9 1451.4 1482.2 1473.8 1486.5 1495.8 1490.9 1517.3 1495.2 1538.2 1499.5 1558.3 1503.9 1577.7 1508.2 1596.2 1512.5 1613.9 1516.9 1630.6 1521.2 1646.4 1525.5 1661.3 1529.8 1675.3 1534.2 1688.4 1538.5 1700.7 1542.8 1712.1 1547.2 1722.7 1551.5 1732.5 1555.8 1741.7 1560.2 1750.1 1564.5 1757.9 1568.8 1765.1 1573.2 1771.8 1577.5 1777.9 1581.8 1783.5" fill="none" stroke="#C56E1A" stroke-width="5.4"/>
</g>
<path d="M432.5 1843.9 L489.5 1828.3 L484.5 1843.9 L489.5 1859.5 Z" fill="#6b6b6b"/>
<path d="M1603.2 1843.9 L1546.2 1859.5 L1551.2 1843.9 L1546.2 1828.3 Z" fill="#6b6b6b"/>
<path d="M1018.8 1118.3 L1034.4 1175.3 L1018.8 1170.3 L1003.2 1175.3 Z" fill="#6b6b6b"/>
<path d="M1018.8 1842.2 L1003.2 1785.2 L1018.8 1790.2 L1034.4 1785.2 Z" fill="#6b6b6b"/>
<path d="M1711.9 1257.3H1745.1M1778.4 1257.3H1811.8" stroke="#5E81B5" stroke-width="5.4" fill="none"/>
<path d="M1709.1 1334H1837.5" stroke="#E19C24" stroke-width="5.4" fill="none"/>
<path d="M1711.9 1410.6H1745.1M1778.4 1410.6H1811.8" stroke="#8FB032" stroke-width="5.4" fill="none"/>
<path d="M1709.1 1487.3H1837.5" stroke="#EB6235" stroke-width="5.4" fill="none"/>
<path d="M1711.9 1564.1H1745.1M1778.4 1564.1H1811.8" stroke="#8778B3" stroke-width="5.4" fill="none"/>
<path d="M1709.1 1640.8H1837.5" stroke="#C56E1A" stroke-width="5.4" fill="none"/>
</g>
<text transform="translate(1536.73,1271.52) scale(0.8031,0.9925)" font-size="43" stroke="#000" stroke-width="0.5" vector-effect="non-scaling-stroke" stroke-linejoin="round">t = 0</text>
<text transform="translate(1536.76,1348.22) scale(0.7671,1.0066)" font-size="43" stroke="#000" stroke-width="0.5" vector-effect="non-scaling-stroke" stroke-linejoin="round">t = 1</text>
<text transform="translate(1536.73,1424.82) scale(0.8073,0.9925)" font-size="43" stroke="#000" stroke-width="0.5" vector-effect="non-scaling-stroke" stroke-linejoin="round">t = 2</text>
<text transform="translate(1536.73,1501.52) scale(0.8051,0.9925)" font-size="43" stroke="#000" stroke-width="0.5" vector-effect="non-scaling-stroke" stroke-linejoin="round">t = 3</text>
<text transform="translate(1536.73,1578.32) scale(0.7989,1.0066)" font-size="43" stroke="#000" stroke-width="0.5" vector-effect="non-scaling-stroke" stroke-linejoin="round">t = 4</text>
<text transform="translate(1536.73,1655.02) scale(0.8051,1.0066)" font-size="43" stroke="#000" stroke-width="0.5" vector-effect="non-scaling-stroke" stroke-linejoin="round">t = 5</text>
<text transform="translate(831.5,1751.2) scale(0.813,1)" font-size="32.8" text-anchor="end" fill="#000" stroke="#000" stroke-width="0.5" vector-effect="non-scaling-stroke">0.5</text>
<text transform="translate(831.5,1647.4) scale(0.813,1)" font-size="32.8" text-anchor="end" fill="#000" stroke="#000" stroke-width="0.5" vector-effect="non-scaling-stroke">1.0</text>
<text transform="translate(831.5,1543.6) scale(0.813,1)" font-size="32.8" text-anchor="end" fill="#000" stroke="#000" stroke-width="0.5" vector-effect="non-scaling-stroke">1.5</text>
<text transform="translate(831.5,1439.8) scale(0.813,1)" font-size="32.8" text-anchor="end" fill="#000" stroke="#000" stroke-width="0.5" vector-effect="non-scaling-stroke">2.0</text>
<text transform="translate(831.5,1336) scale(0.813,1)" font-size="32.8" text-anchor="end" fill="#000" stroke="#000" stroke-width="0.5" vector-effect="non-scaling-stroke">2.5</text>
<text transform="translate(831.5,1232.2) scale(0.813,1)" font-size="32.8" text-anchor="end" fill="#000" stroke="#000" stroke-width="0.5" vector-effect="non-scaling-stroke">3.0</text>
<text transform="translate(468.9,1883.4) scale(0.813,1)" font-size="32.8" text-anchor="middle" fill="#000" stroke="#000" stroke-width="0.5" vector-effect="non-scaling-stroke">−4</text>
<text transform="translate(654.7,1883.4) scale(0.813,1)" font-size="32.8" text-anchor="middle" fill="#000" stroke="#000" stroke-width="0.5" vector-effect="non-scaling-stroke">−2</text>
<text transform="translate(840.5,1883.4) scale(0.813,1)" font-size="32.8" text-anchor="middle" fill="#000" stroke="#000" stroke-width="0.5" vector-effect="non-scaling-stroke">0</text>
<text transform="translate(1026.3,1883.4) scale(0.813,1)" font-size="32.8" text-anchor="middle" fill="#000" stroke="#000" stroke-width="0.5" vector-effect="non-scaling-stroke">2</text>
<text transform="translate(1212.1,1883.4) scale(0.813,1)" font-size="32.8" text-anchor="middle" fill="#000" stroke="#000" stroke-width="0.5" vector-effect="non-scaling-stroke">4</text>
<text transform="translate(1348.68,1870.4) scale(0.7628,1)" font-size="74.72" stroke="#000" stroke-width="0.8" vector-effect="non-scaling-stroke" stroke-linejoin="round" font-style="italic">x</text>
<text transform="translate(653.61,1080.22) scale(1.153,1)" font-size="68.3">|</text>
<text transform="translate(1005.61,1080.22) scale(1.153,1)" font-size="68.3">|</text>
<text transform="translate(684.88,1079.41) scale(0.8048,1)" font-size="58.59" stroke="#000" stroke-width="0.8" vector-effect="non-scaling-stroke" stroke-linejoin="round">Θ</text>
<text transform="translate(722.33,1094.18) scale(0.6058,1)" font-size="57.04" stroke="#000" stroke-width="0.64" vector-effect="non-scaling-stroke" stroke-linejoin="round">1</text>
<text transform="translate(760.63,1094.18) scale(0.6058,1)" font-size="57.04" stroke="#000" stroke-width="0.64" vector-effect="non-scaling-stroke" stroke-linejoin="round">1</text>
<text transform="translate(808.33,1094.18) scale(0.6058,1)" font-size="57.04" stroke="#000" stroke-width="0.64" vector-effect="non-scaling-stroke" stroke-linejoin="round">1</text>
<text transform="translate(742.87,1094.5) scale(1.0439,1)" font-size="51.43">.</text>
<text transform="translate(790.37,1094.5) scale(1.0643,1)" font-size="51.43">.</text>
<text transform="translate(831.14,1080.02) scale(0.8148,1)" font-size="78.93" stroke="#000" stroke-width="0.8" vector-effect="non-scaling-stroke" stroke-linejoin="round">(x,0,t)</text></g>
<text transform="translate(471.9,943.43) scale(0.9749,1)" font-size="45.56" class="sf">(a)</text>
<text transform="translate(1531.12,943.53) scale(0.9754,1)" font-size="45.11" class="sf">(b)</text>
<text transform="translate(972.13,1953.93) scale(0.9125,1)" font-size="45.56" class="sf">(c)</text>
</svg></body></html>
